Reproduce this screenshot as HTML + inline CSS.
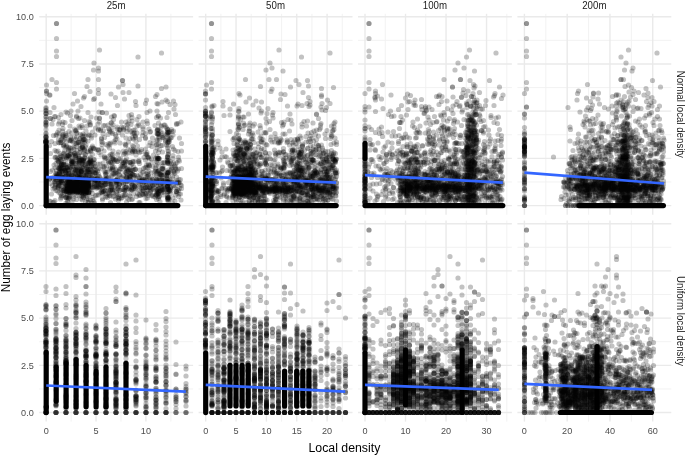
<!DOCTYPE html><html><head><meta charset="utf-8"><style>
html,body{margin:0;padding:0;background:#fff;width:685px;height:455px;overflow:hidden}
svg{display:block;filter:blur(.45px)}text{font-family:"Liberation Sans",sans-serif}
.gM{stroke:#EAEAEA;stroke-width:1.4}.gm{stroke:#F1F1F1;stroke-width:.9}
.p path{fill:none;stroke:#000;stroke-opacity:0.24;stroke-width:10.4;stroke-linecap:round}
.s{fill:#000}
.f{stroke:#3366FF;stroke-width:2.7;fill:none}
.at{fill:#4D4D4D;font-size:38.40px}.st{fill:#1A1A1A;font-size:40.00px}.tt{fill:#000;font-size:49.20px}
</style></head><body>
<svg width="685" height="455" viewBox="0 0 685 455">
<defs>
<clipPath id="c00"><rect x="39.2" y="13.8" width="153.9" height="201.0"/></clipPath>
<clipPath id="c01"><rect x="198.6" y="13.8" width="153.9" height="201.0"/></clipPath>
<clipPath id="c02"><rect x="358.0" y="13.8" width="153.9" height="201.0"/></clipPath>
<clipPath id="c03"><rect x="517.4" y="13.8" width="153.9" height="201.0"/></clipPath>
<clipPath id="c10"><rect x="39.2" y="220.6" width="153.9" height="201.0"/></clipPath>
<clipPath id="c11"><rect x="198.6" y="220.6" width="153.9" height="201.0"/></clipPath>
<clipPath id="c12"><rect x="358.0" y="220.6" width="153.9" height="201.0"/></clipPath>
<clipPath id="c13"><rect x="517.4" y="220.6" width="153.9" height="201.0"/></clipPath>
</defs>
<line class="gm" x1="39.2" x2="193.1" y1="181.99" y2="181.99"/><line class="gm" x1="39.2" x2="193.1" y1="134.78" y2="134.78"/><line class="gm" x1="39.2" x2="193.1" y1="87.57" y2="87.57"/><line class="gm" x1="39.2" x2="193.1" y1="40.36" y2="40.36"/><line class="gm" x1="71.12" x2="71.12" y1="13.8" y2="214.8"/><line class="gm" x1="120.98" x2="120.98" y1="13.8" y2="214.8"/><line class="gm" x1="170.83" x2="170.83" y1="13.8" y2="214.8"/><line class="gM" x1="39.2" x2="193.1" y1="205.60" y2="205.60"/><line class="gM" x1="39.2" x2="193.1" y1="158.39" y2="158.39"/><line class="gM" x1="39.2" x2="193.1" y1="111.17" y2="111.17"/><line class="gM" x1="39.2" x2="193.1" y1="63.96" y2="63.96"/><line class="gM" x1="39.2" x2="193.1" y1="16.75" y2="16.75"/><line class="gM" x1="46.20" x2="46.20" y1="13.8" y2="214.8"/><line class="gM" x1="96.05" x2="96.05" y1="13.8" y2="214.8"/><line class="gM" x1="145.90" x2="145.90" y1="13.8" y2="214.8"/>
<line class="gm" x1="198.6" x2="352.5" y1="181.99" y2="181.99"/><line class="gm" x1="198.6" x2="352.5" y1="134.78" y2="134.78"/><line class="gm" x1="198.6" x2="352.5" y1="87.57" y2="87.57"/><line class="gm" x1="198.6" x2="352.5" y1="40.36" y2="40.36"/><line class="gm" x1="220.88" x2="220.88" y1="13.8" y2="214.8"/><line class="gm" x1="251.22" x2="251.22" y1="13.8" y2="214.8"/><line class="gm" x1="281.57" x2="281.57" y1="13.8" y2="214.8"/><line class="gm" x1="311.93" x2="311.93" y1="13.8" y2="214.8"/><line class="gm" x1="342.27" x2="342.27" y1="13.8" y2="214.8"/><line class="gM" x1="198.6" x2="352.5" y1="205.60" y2="205.60"/><line class="gM" x1="198.6" x2="352.5" y1="158.39" y2="158.39"/><line class="gM" x1="198.6" x2="352.5" y1="111.17" y2="111.17"/><line class="gM" x1="198.6" x2="352.5" y1="63.96" y2="63.96"/><line class="gM" x1="198.6" x2="352.5" y1="16.75" y2="16.75"/><line class="gM" x1="205.70" x2="205.70" y1="13.8" y2="214.8"/><line class="gM" x1="236.05" x2="236.05" y1="13.8" y2="214.8"/><line class="gM" x1="266.40" x2="266.40" y1="13.8" y2="214.8"/><line class="gM" x1="296.75" x2="296.75" y1="13.8" y2="214.8"/><line class="gM" x1="327.10" x2="327.10" y1="13.8" y2="214.8"/>
<line class="gm" x1="358.0" x2="511.9" y1="181.99" y2="181.99"/><line class="gm" x1="358.0" x2="511.9" y1="134.78" y2="134.78"/><line class="gm" x1="358.0" x2="511.9" y1="87.57" y2="87.57"/><line class="gm" x1="358.0" x2="511.9" y1="40.36" y2="40.36"/><line class="gm" x1="385.26" x2="385.26" y1="13.8" y2="214.8"/><line class="gm" x1="425.78" x2="425.78" y1="13.8" y2="214.8"/><line class="gm" x1="466.30" x2="466.30" y1="13.8" y2="214.8"/><line class="gm" x1="506.82" x2="506.82" y1="13.8" y2="214.8"/><line class="gM" x1="358.0" x2="511.9" y1="205.60" y2="205.60"/><line class="gM" x1="358.0" x2="511.9" y1="158.39" y2="158.39"/><line class="gM" x1="358.0" x2="511.9" y1="111.17" y2="111.17"/><line class="gM" x1="358.0" x2="511.9" y1="63.96" y2="63.96"/><line class="gM" x1="358.0" x2="511.9" y1="16.75" y2="16.75"/><line class="gM" x1="365.00" x2="365.00" y1="13.8" y2="214.8"/><line class="gM" x1="405.52" x2="405.52" y1="13.8" y2="214.8"/><line class="gM" x1="446.04" x2="446.04" y1="13.8" y2="214.8"/><line class="gM" x1="486.56" x2="486.56" y1="13.8" y2="214.8"/>
<line class="gm" x1="517.4" x2="671.3" y1="181.99" y2="181.99"/><line class="gm" x1="517.4" x2="671.3" y1="134.78" y2="134.78"/><line class="gm" x1="517.4" x2="671.3" y1="87.57" y2="87.57"/><line class="gm" x1="517.4" x2="671.3" y1="40.36" y2="40.36"/><line class="gm" x1="545.79" x2="545.79" y1="13.8" y2="214.8"/><line class="gm" x1="588.57" x2="588.57" y1="13.8" y2="214.8"/><line class="gm" x1="631.35" x2="631.35" y1="13.8" y2="214.8"/><line class="gM" x1="517.4" x2="671.3" y1="205.60" y2="205.60"/><line class="gM" x1="517.4" x2="671.3" y1="158.39" y2="158.39"/><line class="gM" x1="517.4" x2="671.3" y1="111.17" y2="111.17"/><line class="gM" x1="517.4" x2="671.3" y1="63.96" y2="63.96"/><line class="gM" x1="517.4" x2="671.3" y1="16.75" y2="16.75"/><line class="gM" x1="524.40" x2="524.40" y1="13.8" y2="214.8"/><line class="gM" x1="567.18" x2="567.18" y1="13.8" y2="214.8"/><line class="gM" x1="609.96" x2="609.96" y1="13.8" y2="214.8"/><line class="gM" x1="652.74" x2="652.74" y1="13.8" y2="214.8"/>
<line class="gm" x1="39.2" x2="193.1" y1="388.94" y2="388.94"/><line class="gm" x1="39.2" x2="193.1" y1="341.73" y2="341.73"/><line class="gm" x1="39.2" x2="193.1" y1="294.52" y2="294.52"/><line class="gm" x1="39.2" x2="193.1" y1="247.31" y2="247.31"/><line class="gm" x1="71.12" x2="71.12" y1="220.6" y2="421.6"/><line class="gm" x1="120.98" x2="120.98" y1="220.6" y2="421.6"/><line class="gm" x1="170.83" x2="170.83" y1="220.6" y2="421.6"/><line class="gM" x1="39.2" x2="193.1" y1="412.55" y2="412.55"/><line class="gM" x1="39.2" x2="193.1" y1="365.34" y2="365.34"/><line class="gM" x1="39.2" x2="193.1" y1="318.12" y2="318.12"/><line class="gM" x1="39.2" x2="193.1" y1="270.91" y2="270.91"/><line class="gM" x1="39.2" x2="193.1" y1="223.70" y2="223.70"/><line class="gM" x1="46.20" x2="46.20" y1="220.6" y2="421.6"/><line class="gM" x1="96.05" x2="96.05" y1="220.6" y2="421.6"/><line class="gM" x1="145.90" x2="145.90" y1="220.6" y2="421.6"/>
<line class="gm" x1="198.6" x2="352.5" y1="388.94" y2="388.94"/><line class="gm" x1="198.6" x2="352.5" y1="341.73" y2="341.73"/><line class="gm" x1="198.6" x2="352.5" y1="294.52" y2="294.52"/><line class="gm" x1="198.6" x2="352.5" y1="247.31" y2="247.31"/><line class="gm" x1="220.88" x2="220.88" y1="220.6" y2="421.6"/><line class="gm" x1="251.22" x2="251.22" y1="220.6" y2="421.6"/><line class="gm" x1="281.57" x2="281.57" y1="220.6" y2="421.6"/><line class="gm" x1="311.93" x2="311.93" y1="220.6" y2="421.6"/><line class="gm" x1="342.27" x2="342.27" y1="220.6" y2="421.6"/><line class="gM" x1="198.6" x2="352.5" y1="412.55" y2="412.55"/><line class="gM" x1="198.6" x2="352.5" y1="365.34" y2="365.34"/><line class="gM" x1="198.6" x2="352.5" y1="318.12" y2="318.12"/><line class="gM" x1="198.6" x2="352.5" y1="270.91" y2="270.91"/><line class="gM" x1="198.6" x2="352.5" y1="223.70" y2="223.70"/><line class="gM" x1="205.70" x2="205.70" y1="220.6" y2="421.6"/><line class="gM" x1="236.05" x2="236.05" y1="220.6" y2="421.6"/><line class="gM" x1="266.40" x2="266.40" y1="220.6" y2="421.6"/><line class="gM" x1="296.75" x2="296.75" y1="220.6" y2="421.6"/><line class="gM" x1="327.10" x2="327.10" y1="220.6" y2="421.6"/>
<line class="gm" x1="358.0" x2="511.9" y1="388.94" y2="388.94"/><line class="gm" x1="358.0" x2="511.9" y1="341.73" y2="341.73"/><line class="gm" x1="358.0" x2="511.9" y1="294.52" y2="294.52"/><line class="gm" x1="358.0" x2="511.9" y1="247.31" y2="247.31"/><line class="gm" x1="385.26" x2="385.26" y1="220.6" y2="421.6"/><line class="gm" x1="425.78" x2="425.78" y1="220.6" y2="421.6"/><line class="gm" x1="466.30" x2="466.30" y1="220.6" y2="421.6"/><line class="gm" x1="506.82" x2="506.82" y1="220.6" y2="421.6"/><line class="gM" x1="358.0" x2="511.9" y1="412.55" y2="412.55"/><line class="gM" x1="358.0" x2="511.9" y1="365.34" y2="365.34"/><line class="gM" x1="358.0" x2="511.9" y1="318.12" y2="318.12"/><line class="gM" x1="358.0" x2="511.9" y1="270.91" y2="270.91"/><line class="gM" x1="358.0" x2="511.9" y1="223.70" y2="223.70"/><line class="gM" x1="365.00" x2="365.00" y1="220.6" y2="421.6"/><line class="gM" x1="405.52" x2="405.52" y1="220.6" y2="421.6"/><line class="gM" x1="446.04" x2="446.04" y1="220.6" y2="421.6"/><line class="gM" x1="486.56" x2="486.56" y1="220.6" y2="421.6"/>
<line class="gm" x1="517.4" x2="671.3" y1="388.94" y2="388.94"/><line class="gm" x1="517.4" x2="671.3" y1="341.73" y2="341.73"/><line class="gm" x1="517.4" x2="671.3" y1="294.52" y2="294.52"/><line class="gm" x1="517.4" x2="671.3" y1="247.31" y2="247.31"/><line class="gm" x1="545.79" x2="545.79" y1="220.6" y2="421.6"/><line class="gm" x1="588.57" x2="588.57" y1="220.6" y2="421.6"/><line class="gm" x1="631.35" x2="631.35" y1="220.6" y2="421.6"/><line class="gM" x1="517.4" x2="671.3" y1="412.55" y2="412.55"/><line class="gM" x1="517.4" x2="671.3" y1="365.34" y2="365.34"/><line class="gM" x1="517.4" x2="671.3" y1="318.12" y2="318.12"/><line class="gM" x1="517.4" x2="671.3" y1="270.91" y2="270.91"/><line class="gM" x1="517.4" x2="671.3" y1="223.70" y2="223.70"/><line class="gM" x1="524.40" x2="524.40" y1="220.6" y2="421.6"/><line class="gM" x1="567.18" x2="567.18" y1="220.6" y2="421.6"/><line class="gM" x1="609.96" x2="609.96" y1="220.6" y2="421.6"/><line class="gM" x1="652.74" x2="652.74" y1="220.6" y2="421.6"/>
<g clip-path="url(#c00)">
<rect class="s" x="43.6" y="143.5" width="5.2" height="64.7" rx="2.6"/>
<rect class="s" x="43.6" y="203.0" width="136.8" height="5.2" rx="2.6"/>
<g class="p" transform="scale(.5)">
<path d="M113 47h0M113 77h0M113 102h0M113 113h0M199 100h0M276 114h0M323 106h0M188 126h0M197 136h0M187 140h0M104 159h0M113 165h0M113 178h0M93 170h0M176 159h0M197 159h0M174 173h0M197 179h0M180 183h0M149 187h0M187 199h0M155 202h0M167 196h0M245 161h0M237 174h0M246 185h0M231 195h0M276 172h0M271 203h0M323 177h0M314 189h0M332 200h0M314 207h0M340 209h0M93 182h0M100 190h0M93 202h0M92 275h0M92 239h0M92 215h0M92 252h0M92 226h0M92 287h0M147 381h0M150 364h0M133 374h0M173 368h0M168 381h0M161 370h0M137 362h0M181 319h0M124 356h0M133 284h0M167 351h0M112 347h0M167 322h0M148 298h0M160 278h0M177 339h0M137 311h0M117 324h0M132 328h0M165 336h0M150 339h0M181 359h0M153 319h0M123 343h0M123 278h0M160 297h0M127 307h0M141 346h0M155 351h0M171 294h0M144 327h0M171 281h0M146 284h0M184 295h0M116 335h0M211 381h0M324 291h0M307 360h0M210 362h0M344 335h0M137 298h0M264 378h0M286 381h0M109 365h0M270 339h0M283 299h0M231 345h0M190 373h0M321 382h0M247 369h0M149 258h0M333 351h0M237 393h0M210 317h0M197 360h0M346 311h0M209 333h0M214 344h0M147 398h0M291 308h0M209 275h0M238 318h0M198 224h0M252 244h0M283 353h0M325 338h0M190 347h0M110 315h0M270 323h0M224 255h0M198 305h0M278 365h0M110 287h0M269 351h0M267 293h0M223 234h0M185 387h0M257 284h0M339 279h0M201 261h0M222 351h0M186 332h0M235 357h0M275 387h0M312 331h0M331 362h0M299 331h0M237 374h0M172 262h0M222 325h0M205 285h0M296 376h0M115 382h0M321 370h0M253 354h0M295 396h0M357 314h0M174 393h0M319 347h0M318 317h0M314 261h0M223 366h0M363 337h0M242 332h0M227 386h0M354 366h0M200 386h0M253 404h0M295 247h0M306 393h0M301 263h0M362 400h0M106 239h0M270 260h0M338 378h0M342 365h0M346 396h0M125 249h0M228 334h0M257 340h0M326 326h0M303 318h0M356 303h0M309 343h0M110 301h0M153 234h0M132 224h0M298 342h0M318 393h0M256 298h0M294 353h0M272 310h0M119 371h0M203 370h0M240 286h0M354 386h0M251 321h0M191 256h0M165 400h0M221 286h0M237 304h0M205 397h0M182 234h0M317 246h0M231 269h0M262 249h0M321 236h0M353 354h0M249 380h0M270 271h0M141 231h0M291 267h0M319 359h0M189 406h0M123 392h0M263 367h0M280 405h0M325 304h0M363 287h0M138 263h0M225 310h0M180 245h0M135 402h0M100 357h0M262 330h0M258 390h0M171 309h0M345 293h0M287 337h0M247 255h0M176 404h0M182 272h0M311 302h0M101 343h0M210 251h0M118 268h0M265 398h0M101 403h0M278 251h0M196 328h0M328 250h0M137 385h0M258 231h0M326 271h0M199 237h0M221 405h0M363 377h0M274 239h0M306 286h0M101 307h0M103 388h0M254 263h0M354 325h0M334 235h0M249 306h0M158 252h0M185 309h0M341 323h0M336 402h0M272 283h0M291 320h0M308 375h0M343 259h0M292 366h0M122 229h0M140 252h0M293 200h0M300 222h0M258 185h0M222 188h0M213 226h0M356 247h0M235 211h0M107 271h0M176 225h0M108 215h0M146 208h0M351 229h0M314 222h0M141 274h0M348 218h0M346 270h0M359 276h0M169 241h0M245 270h0M249 198h0M202 208h0M162 213h0M156 222h0M314 279h0M335 313h0M335 391h0M336 301h0M319 411h0M305 411h0M111 411h0M211 411h0M349 411h0M161 411h0M271 411h0"/>
<path d="M113 47h0M197 142h0M197 187h0M245 161h0M332 174h0M311 193h0M93 187h0M92 266h0M92 283h0M92 250h0M92 227h0M148 368h0M156 384h0M136 377h0M177 366h0M165 376h0M177 386h0M160 363h0M145 385h0M136 361h0M134 294h0M181 314h0M158 285h0M120 352h0M131 335h0M168 279h0M183 342h0M159 327h0M123 322h0M176 332h0M137 311h0M182 355h0M141 282h0M165 317h0M169 298h0M159 349h0M150 315h0M117 279h0M118 336h0M142 351h0M147 338h0M170 345h0M181 297h0M159 305h0M148 294h0M114 314h0M291 388h0M207 371h0M130 278h0M287 376h0M303 366h0M218 312h0M212 345h0M267 388h0M279 360h0M186 375h0M251 375h0M276 300h0M228 392h0M288 315h0M313 385h0M99 291h0M269 372h0M274 350h0M202 359h0M202 310h0M214 363h0M336 275h0M126 373h0M197 260h0M264 328h0M254 363h0M137 396h0M252 276h0M171 403h0M206 326h0M324 378h0M347 326h0M316 360h0M241 317h0M218 326h0M267 340h0M321 346h0M234 362h0M207 383h0M227 239h0M111 359h0M309 351h0M250 288h0M353 338h0M301 384h0M278 320h0M237 374h0M203 283h0M153 275h0M195 342h0M338 368h0M293 330h0M243 354h0M174 252h0M245 391h0M229 322h0M249 332h0M318 261h0M104 248h0M357 366h0M142 327h0M253 348h0M224 264h0M265 303h0M330 359h0M314 313h0M341 387h0M164 392h0M363 302h0M230 346h0M118 385h0M355 379h0M234 278h0M224 379h0M347 298h0M285 344h0M130 245h0M256 248h0M204 225h0M291 358h0M197 390h0M278 391h0M265 291h0M291 298h0M265 276h0M153 232h0M359 322h0M341 342h0M345 406h0M108 330h0M215 395h0M345 357h0M121 398h0M99 357h0M197 300h0M316 232h0M274 266h0M152 262h0M225 334h0M166 268h0M291 275h0M239 340h0M110 374h0M101 237h0M126 257h0M319 299h0M212 289h0M161 338h0M106 405h0M238 259h0M187 403h0M190 362h0M324 325h0M116 302h0M327 390h0M253 317h0M357 393h0M300 285h0M193 236h0M132 406h0M129 385h0M186 326h0M326 336h0M190 270h0M153 399h0M177 270h0M226 302h0M298 258h0M317 397h0M132 267h0M207 251h0M205 400h0M311 336h0M119 244h0M237 401h0M278 405h0M258 399h0M304 324h0M243 244h0M247 302h0M277 248h0M142 222h0M286 258h0M263 229h0M258 259h0M169 193h0M347 202h0M330 250h0M111 233h0M113 269h0M316 208h0M325 275h0M278 233h0M144 241h0M272 211h0M335 203h0M347 262h0M206 267h0M189 197h0M160 255h0M294 225h0M362 244h0M196 248h0M294 242h0M291 207h0M310 251h0M337 225h0M279 279h0M314 289h0M316 371h0M336 259h0M336 398h0M337 303h0M336 326h0M335 314h0M333 290h0M213 411h0M255 411h0M224 411h0M299 411h0M312 411h0M155 411h0M178 411h0M333 411h0"/>
<path d="M246 169h0M93 182h0M92 280h0M92 234h0M92 246h0M92 259h0M92 217h0M152 384h0M154 367h0M145 376h0M168 369h0M163 380h0M134 378h0M178 379h0M140 364h0M131 353h0M158 355h0M116 317h0M159 325h0M173 335h0M137 301h0M122 362h0M132 341h0M172 358h0M128 290h0M169 279h0M127 329h0M151 347h0M182 327h0M168 299h0M139 333h0M126 313h0M116 349h0M154 335h0M163 343h0M141 280h0M151 312h0M167 318h0M121 338h0M144 323h0M121 281h0M154 301h0M182 347h0M296 381h0M306 370h0M284 374h0M171 387h0M304 358h0M150 287h0M293 308h0M236 389h0M191 360h0M275 292h0M219 338h0M331 284h0M223 361h0M260 325h0M251 367h0M137 397h0M126 269h0M268 355h0M327 372h0M181 400h0M288 363h0M211 369h0M211 349h0M313 390h0M123 378h0M220 392h0M273 393h0M204 379h0M225 318h0M322 350h0M267 333h0M187 296h0M343 338h0M296 335h0M209 313h0M236 378h0M258 339h0M217 257h0M270 374h0M189 374h0M270 302h0M358 359h0M343 364h0M228 347h0M351 328h0M191 333h0M339 380h0M302 346h0M247 325h0M341 276h0M277 323h0M327 339h0M247 379h0M357 338h0M162 398h0M357 381h0M281 349h0M242 337h0M259 378h0M248 390h0M351 390h0M350 346h0M240 364h0M253 355h0M110 368h0M206 333h0M314 379h0M350 402h0M126 244h0M235 323h0M317 362h0M221 379h0M191 391h0M110 336h0M334 351h0M154 266h0M337 395h0M139 313h0M228 231h0M223 245h0M312 342h0M346 317h0M267 278h0M218 287h0M160 236h0M204 289h0M311 317h0M285 271h0M292 397h0M267 260h0M294 353h0M118 260h0M256 306h0M104 355h0M258 241h0M322 291h0M304 293h0M112 271h0M208 302h0M203 278h0M228 283h0M363 371h0M351 372h0M112 381h0M254 256h0M329 325h0M283 303h0M205 225h0M180 249h0M108 404h0M225 267h0M252 289h0M183 276h0M201 356h0M234 258h0M122 395h0M320 403h0M260 392h0M285 388h0M323 253h0M235 309h0M324 267h0M239 350h0M103 283h0M350 301h0M305 276h0M327 384h0M197 300h0M113 303h0M317 232h0M143 266h0M286 254h0M300 264h0M100 225h0M201 258h0M165 255h0M350 209h0M117 235h0M185 264h0M135 226h0M344 263h0M353 247h0M199 244h0M324 204h0M274 252h0M318 276h0M315 260h0M317 305h0M317 332h0M336 309h0M335 295h0M334 257h0M339 411h0M281 411h0M130 411h0M252 411h0M220 411h0M298 411h0M153 411h0M327 411h0M179 411h0"/>
<path d="M92 283h0M92 233h0M92 244h0M92 221h0M92 268h0M154 364h0M163 370h0M172 383h0M146 384h0M135 377h0M154 377h0M178 372h0M140 366h0M174 362h0M114 320h0M138 352h0M162 353h0M132 343h0M152 327h0M166 283h0M166 329h0M133 292h0M144 296h0M173 343h0M134 319h0M156 337h0M181 325h0M164 296h0M151 306h0M129 306h0M126 352h0M113 354h0M119 330h0M143 281h0M122 285h0M141 335h0M158 316h0M125 274h0M129 366h0M140 309h0M188 334h0M278 372h0M313 361h0M188 367h0M290 376h0M247 368h0M192 357h0M239 381h0M327 379h0M167 395h0M221 364h0M201 369h0M266 349h0M138 393h0M192 345h0M297 315h0M281 391h0M216 388h0M234 323h0M170 316h0M283 362h0M217 323h0M270 303h0M233 361h0M118 366h0M302 371h0M276 353h0M122 380h0M154 391h0M361 369h0M299 360h0M343 327h0M230 349h0M252 337h0M293 387h0M204 385h0M235 395h0M151 352h0M181 350h0M264 375h0M330 349h0M340 359h0M335 372h0M226 316h0M245 328h0M319 349h0M316 382h0M324 366h0M144 403h0M287 344h0M347 342h0M303 391h0M190 298h0M214 356h0M255 324h0M350 364h0M353 383h0M119 341h0M254 358h0M266 323h0M338 383h0M338 283h0M100 367h0M154 285h0M172 272h0M311 341h0M225 380h0M219 296h0M339 398h0M249 392h0M297 330h0M325 337h0M307 310h0M278 323h0M271 275h0M208 335h0M240 338h0M175 303h0M357 320h0M271 339h0M226 339h0M252 307h0M298 291h0M214 375h0M186 399h0M177 405h0M125 262h0M200 328h0M99 402h0M226 249h0M319 393h0M230 286h0M106 378h0M110 401h0M318 317h0M203 297h0M251 291h0M105 340h0M127 390h0M152 260h0M252 380h0M194 390h0M327 276h0M263 399h0M209 315h0M221 264h0M229 232h0M243 254h0M291 277h0M313 235h0M117 248h0M254 250h0M178 243h0M207 261h0M316 269h0M164 251h0M332 254h0M109 233h0M262 263h0M286 265h0M260 277h0M161 269h0M203 276h0M264 235h0M286 244h0M157 237h0M99 190h0M232 273h0M339 263h0M353 249h0M199 236h0M317 288h0M337 308h0M335 320h0M336 340h0M341 411h0M352 411h0M211 411h0M260 411h0M130 411h0M224 411h0M315 411h0"/>
<path d="M92 279h0M92 227h0M92 244h0M148 362h0M172 384h0M148 382h0M167 362h0M132 373h0M157 368h0M161 378h0M173 373h0M133 384h0M144 372h0M136 361h0M130 337h0M181 359h0M160 277h0M116 322h0M158 352h0M171 339h0M165 322h0M149 306h0M159 335h0M128 317h0M154 323h0M180 323h0M151 342h0M140 296h0M125 352h0M114 351h0M127 292h0M137 348h0M139 281h0M143 318h0M166 296h0M117 285h0M185 374h0M309 369h0M295 374h0M195 365h0M261 352h0M218 362h0M167 394h0M204 371h0M146 393h0M227 319h0M212 316h0M288 361h0M254 362h0M265 302h0M192 347h0M238 370h0M325 381h0M294 309h0M210 382h0M249 381h0M213 332h0M232 360h0M270 379h0M118 337h0M233 342h0M333 373h0M305 359h0M250 330h0M272 356h0M252 345h0M354 364h0M316 343h0M176 282h0M153 293h0M280 374h0M121 388h0M158 313h0M324 356h0M117 371h0M264 370h0M296 349h0M226 393h0M124 271h0M345 352h0M132 395h0M262 341h0M339 364h0M311 390h0M334 344h0M211 394h0M181 301h0M170 309h0M266 323h0M179 347h0M244 356h0M220 289h0M221 309h0M338 284h0M229 380h0M280 340h0M341 382h0M244 395h0M145 330h0M352 383h0M287 390h0M298 387h0M351 334h0M149 274h0M268 265h0M210 344h0M110 363h0M247 309h0M186 395h0M320 369h0M292 335h0M276 303h0M326 332h0M242 322h0M99 359h0M120 307h0M314 379h0M197 337h0M224 353h0M184 406h0M306 333h0M194 299h0M279 327h0M231 279h0M216 269h0M101 237h0M151 261h0M169 271h0M240 261h0M322 251h0M197 258h0M115 265h0M316 267h0M222 246h0M264 242h0M181 250h0M327 274h0M315 316h0M313 290h0M335 399h0M335 325h0M336 264h0M335 314h0M104 411h0M253 411h0M218 411h0M316 411h0"/>
<path d="M92 282h0M92 221h0M92 249h0M137 369h0M168 369h0M172 382h0M152 374h0M138 382h0M157 363h0M160 383h0M125 343h0M176 360h0M140 337h0M162 350h0M146 352h0M117 322h0M153 333h0M181 339h0M144 323h0M115 354h0M179 324h0M147 310h0M138 302h0M174 349h0M164 280h0M160 321h0M127 290h0M128 329h0M151 279h0M130 355h0M130 310h0M165 295h0M127 381h0M193 368h0M221 368h0M226 318h0M168 334h0M212 359h0M261 358h0M262 347h0M283 363h0M140 393h0M192 339h0M324 380h0M189 357h0M300 375h0M161 305h0M232 363h0M205 376h0M308 363h0M328 369h0M255 338h0M268 300h0M279 381h0M256 377h0M244 365h0M226 348h0M270 368h0M218 388h0M120 366h0M313 351h0M295 314h0M249 326h0M341 375h0M361 359h0M234 388h0M305 390h0M261 324h0M322 360h0M251 389h0M324 337h0M297 351h0M238 349h0M131 270h0M359 377h0M136 403h0M290 387h0M328 350h0M331 281h0M185 292h0M116 376h0M225 336h0M348 347h0M358 388h0M216 292h0M212 348h0M349 332h0M105 371h0M271 338h0M242 397h0M290 335h0M169 315h0M245 379h0M279 305h0M184 380h0M199 353h0M216 322h0M177 304h0M205 387h0M343 275h0M174 397h0M153 266h0M268 267h0M252 303h0M113 341h0M219 262h0M179 270h0M240 259h0M216 250h0M322 263h0M315 326h0M318 273h0M313 399h0M317 388h0M314 296h0M335 268h0M335 384h0M335 358h0M335 396h0M337 344h0M335 323h0M336 291h0M103 411h0M219 411h0"/>
<path d="M92 281h0M140 374h0M176 375h0M165 372h0M156 382h0M175 363h0M167 384h0M146 365h0M157 365h0M134 384h0M136 359h0M130 340h0M119 320h0M155 340h0M116 355h0M150 355h0M170 329h0M138 347h0M129 302h0M142 278h0M146 333h0M181 340h0M186 323h0M166 273h0M162 320h0M143 322h0M119 286h0M188 360h0M144 309h0M157 310h0M137 294h0M175 318h0M222 316h0M124 373h0M261 358h0M262 347h0M195 376h0M217 355h0M122 331h0M170 349h0M160 289h0M304 366h0M314 359h0M224 328h0M290 362h0M291 375h0M264 306h0M282 382h0M216 367h0M169 301h0M207 383h0M254 335h0M223 342h0M306 379h0M234 358h0M320 381h0M213 392h0M326 363h0M234 347h0M204 364h0M323 350h0M272 370h0M359 365h0M339 381h0M133 316h0M279 362h0M252 374h0M235 378h0M220 381h0M246 325h0M298 317h0M231 398h0M187 297h0M247 351h0M131 395h0M295 345h0M264 380h0M337 365h0M172 290h0M232 320h0M353 383h0M347 371h0M294 305h0M178 389h0M299 355h0M351 338h0M196 352h0M210 342h0M260 325h0M109 376h0M127 272h0M299 332h0M310 394h0M296 391h0M254 396h0M265 267h0M219 259h0M234 254h0M247 258h0M237 265h0M313 323h0M315 343h0M318 269h0M314 281h0M335 346h0M334 268h0M336 395h0M336 285h0M337 322h0M112 411h0M101 411h0"/>
<path d="M92 285h0M92 274h0M140 368h0M165 374h0M173 382h0M173 366h0M155 370h0M135 383h0M157 381h0M162 361h0M146 379h0M178 355h0M163 344h0M124 336h0M117 352h0M152 338h0M121 319h0M176 327h0M175 338h0M147 351h0M131 345h0M180 317h0M137 356h0M137 316h0M165 322h0M122 285h0M147 323h0M130 294h0M196 366h0M137 332h0M142 301h0M259 355h0M225 325h0M212 364h0M252 345h0M166 280h0M123 361h0M313 359h0M185 343h0M266 298h0M265 340h0M293 369h0M280 362h0M231 361h0M324 376h0M301 360h0M167 306h0M305 377h0M159 392h0M153 288h0M132 394h0M151 311h0M266 370h0M163 333h0M165 292h0M204 382h0M341 378h0M224 308h0M233 384h0M221 381h0M354 361h0M286 380h0M107 358h0M253 374h0M190 356h0M251 324h0M245 333h0M324 360h0M239 369h0M181 300h0M112 327h0M130 372h0M238 396h0M223 370h0M111 314h0M348 343h0M261 381h0M232 339h0M361 388h0M321 349h0M342 333h0M116 372h0M186 371h0M297 314h0M317 387h0M297 328h0M189 326h0M292 348h0M313 370h0M197 348h0M177 399h0M278 389h0M201 338h0M221 336h0M131 275h0M271 273h0M247 260h0M316 316h0M315 259h0M319 280h0M335 364h0M337 345h0M337 400h0M336 265h0M335 285h0M335 324h0M113 411h0"/>
<path d="M92 284h0M92 272h0M144 376h0M166 371h0M177 375h0M133 379h0M155 380h0M154 363h0M142 364h0M174 363h0M170 384h0M122 327h0M155 342h0M122 357h0M178 324h0M124 342h0M121 311h0M145 346h0M131 368h0M188 319h0M126 281h0M158 319h0M133 335h0M112 347h0M143 328h0M199 376h0M175 341h0M191 360h0M149 307h0M260 353h0M136 353h0M137 311h0M214 357h0M261 342h0M212 369h0M293 375h0M167 279h0M188 346h0M323 374h0M202 364h0M232 364h0M161 298h0M312 365h0M211 387h0M303 380h0M149 389h0M289 359h0M342 374h0M225 384h0M163 335h0M267 377h0M249 376h0M249 342h0M164 356h0M139 395h0M157 284h0M314 382h0M327 360h0M250 322h0M117 368h0M298 365h0M221 324h0M286 389h0M231 319h0M261 300h0M238 343h0M224 339h0M355 342h0M260 364h0M223 373h0M324 345h0M357 365h0M124 391h0M182 303h0M238 397h0M279 363h0M133 271h0M313 346h0M316 394h0M315 320h0M314 267h0M337 350h0M335 394h0M335 259h0M336 383h0M336 270h0M335 327h0M336 281h0M337 316h0"/>
<path d="M92 282h0M140 368h0M165 372h0M139 380h0M178 371h0M173 382h0M152 372h0M153 385h0M162 359h0M161 342h0M114 359h0M124 348h0M177 358h0M132 330h0M142 356h0M149 344h0M120 315h0M164 327h0M138 339h0M174 345h0M145 320h0M197 373h0M195 357h0M126 381h0M183 323h0M159 316h0M265 349h0M169 285h0M209 370h0M211 359h0M325 367h0M286 371h0M127 362h0M256 343h0M133 314h0M220 369h0M164 392h0M318 383h0M190 345h0M253 355h0M279 356h0M238 367h0M301 381h0M218 385h0M335 372h0M250 383h0M121 334h0M134 393h0M293 360h0M334 357h0M286 382h0M247 333h0M156 285h0M141 307h0M258 374h0M305 371h0M115 374h0M271 377h0M349 375h0M164 271h0M323 350h0M203 384h0M188 365h0M314 317h0M316 259h0M317 341h0M314 361h0M337 344h0M337 394h0M334 264h0M338 327h0M336 278h0"/>
<path d="M92 283h0M147 369h0M140 384h0M172 376h0M164 365h0M151 382h0M134 371h0M161 378h0M155 359h0M140 361h0M152 342h0M160 349h0M124 354h0M182 357h0M122 343h0M123 329h0M178 385h0M129 382h0M135 335h0M111 355h0M177 339h0M168 322h0M135 350h0M167 388h0M156 327h0M200 374h0M123 312h0M265 348h0M212 354h0M164 288h0M209 380h0M143 324h0M119 365h0M195 362h0M135 311h0M254 341h0M287 365h0M236 362h0M259 357h0M329 376h0M224 378h0M181 321h0M152 310h0M172 351h0M299 374h0M318 377h0M211 367h0M134 395h0M263 379h0M326 364h0M183 369h0M240 380h0M219 391h0M191 341h0M314 390h0M315 364h0M318 317h0M315 268h0M318 341h0M319 353h0M334 352h0M337 367h0M335 385h0M338 265h0M334 320h0M336 396h0"/>
<path d="M92 283h0M148 368h0M138 379h0M167 365h0M167 376h0M149 382h0M177 385h0M136 368h0M160 385h0M177 370h0M156 361h0M158 341h0M132 345h0M140 357h0M143 339h0M172 354h0M122 352h0M164 326h0M124 338h0M184 356h0M110 351h0M180 333h0M128 328h0M148 327h0M192 373h0M178 344h0M118 364h0M205 365h0M164 294h0M260 352h0M294 367h0M284 359h0M126 381h0M232 371h0M135 312h0M284 371h0M318 384h0M188 319h0M251 358h0M294 379h0M261 339h0M235 359h0M264 369h0M336 370h0M218 379h0M152 315h0M324 360h0M316 317h0M317 267h0M335 346h0M336 265h0M336 396h0"/>
<path d="M92 274h0M92 287h0M149 378h0M139 374h0M177 374h0M162 375h0M152 367h0M168 362h0M177 385h0M139 385h0M132 362h0M157 351h0M132 340h0M143 355h0M164 386h0M172 344h0M119 358h0M124 329h0M158 321h0M152 341h0M183 333h0M194 371h0M119 347h0M146 324h0M190 360h0M205 373h0M285 358h0M268 350h0M228 375h0M300 375h0M125 318h0M168 325h0M211 359h0M315 379h0M326 379h0M117 374h0M254 363h0M233 365h0M255 350h0M269 373h0M185 349h0M317 366h0M317 317h0M336 367h0M335 346h0M337 379h0"/>
<path d="M92 274h0M92 287h0M152 376h0M134 377h0M142 368h0M162 368h0M151 362h0M169 378h0M172 364h0M154 351h0M132 359h0M162 343h0M142 384h0M131 344h0M143 349h0M122 338h0M167 390h0M118 356h0M149 334h0M178 351h0M183 332h0M179 383h0M197 370h0M194 357h0M163 319h0M127 326h0M223 375h0M284 361h0M259 350h0M208 364h0M110 363h0M233 369h0M181 370h0M171 331h0M324 385h0M317 377h0M313 389h0M334 379h0M336 363h0"/>
<path d="M92 284h0M142 383h0M134 370h0M148 368h0M171 371h0M155 379h0M166 382h0M177 384h0M165 359h0M154 357h0M178 362h0M139 356h0M127 337h0M137 341h0M123 360h0M114 349h0M165 341h0M150 347h0M176 327h0M187 338h0M145 325h0M176 343h0M196 362h0M130 382h0M164 320h0M193 376h0M223 369h0M210 357h0M111 370h0M316 385h0M334 375h0M335 363h0"/>
<path d="M92 284h0M134 376h0M152 375h0M142 366h0M164 377h0M154 363h0M177 374h0M167 365h0M177 361h0M148 354h0M172 384h0M129 354h0M157 347h0M119 346h0M129 341h0M123 329h0M125 365h0M113 360h0M171 352h0M182 323h0M140 386h0M159 323h0M198 367h0M173 335h0M188 358h0M138 347h0M232 366h0M180 344h0M315 387h0M335 373h0M336 360h0"/>
<path d="M140 377h0M155 374h0M172 374h0M142 365h0M163 367h0M164 385h0M149 383h0M169 358h0M153 358h0M125 355h0M133 348h0M162 344h0M124 328h0M112 353h0M180 358h0M179 326h0M120 343h0M167 320h0M157 325h0M195 374h0M135 335h0M316 387h0M335 365h0M336 376h0"/>
<path d="M149 372h0M170 380h0M139 367h0M160 374h0M141 381h0M167 364h0M176 371h0M155 384h0M153 361h0M170 391h0M121 356h0M176 358h0M132 352h0M128 336h0M162 343h0M162 354h0M177 326h0M119 345h0M189 363h0M130 378h0M336 364h0M336 379h0"/>
<path d="M154 373h0M171 376h0M142 374h0M148 363h0M173 365h0M163 361h0M162 384h0M138 385h0M123 364h0M134 364h0M163 340h0M120 334h0M168 351h0M116 350h0M197 364h0M136 340h0M335 372h0"/>
<path d="M162 379h0M176 372h0M152 369h0M148 379h0M137 382h0M138 371h0M166 367h0M146 360h0M174 384h0M158 357h0M172 355h0M123 364h0M134 357h0M119 337h0M163 342h0M334 363h0M336 378h0"/>
<path d="M172 370h0M164 377h0M147 371h0M139 381h0M138 364h0M166 361h0M174 384h0M155 383h0M148 359h0M121 364h0M158 346h0M124 336h0"/>
<path d="M170 375h0M156 369h0M157 383h0M145 375h0M137 368h0M148 362h0M166 364h0M134 382h0M174 385h0M177 365h0M159 355h0M126 355h0"/>
<path d="M168 379h0M154 368h0M149 379h0M175 370h0M135 376h0M140 364h0M163 361h0M159 385h0M181 379h0"/>
<path d="M153 372h0M169 376h0M176 368h0M142 378h0M134 371h0M163 367h0M140 362h0M160 383h0M159 357h0M132 382h0M170 359h0M170 387h0"/>
<path d="M153 372h0M140 380h0M164 379h0M176 370h0M143 367h0M165 368h0M158 359h0"/>
<path d="M152 375h0M141 375h0M176 367h0M169 378h0M152 363h0M162 358h0M138 363h0M133 382h0"/>
<path d="M155 374h0M144 371h0M172 374h0M142 382h0M167 384h0M171 362h0M139 361h0M157 363h0"/>
<path d="M152 372h0M142 377h0M177 370h0M165 375h0M139 366h0M166 358h0M155 384h0M150 360h0M169 385h0"/>
<path d="M158 376h0M147 376h0M135 376h0M173 378h0M174 366h0M154 364h0M142 361h0M163 386h0M165 358h0"/>
<path d="M150 377h0M162 379h0M156 368h0M177 372h0M138 372h0M170 364h0M145 359h0M159 355h0M135 383h0"/>
<path d="M151 367h0M147 380h0M169 379h0M138 368h0M134 378h0M177 368h0M165 368h0"/>
<path d="M150 370h0M164 371h0M170 384h0M155 382h0M135 372h0M178 377h0M176 362h0M141 382h0M140 362h0"/>
<path d="M152 369h0M145 377h0M174 379h0M163 380h0M173 368h0M139 363h0M167 358h0"/>
<path d="M149 372h0M135 378h0M168 380h0M157 364h0M175 367h0M146 383h0M133 366h0"/>
<path d="M155 378h0M150 368h0M140 380h0M169 374h0M164 364h0M134 369h0M178 364h0"/>
<path d="M153 376h0M146 368h0M140 380h0M175 376h0M164 376h0"/>
<path d="M147 375h0M138 381h0M169 381h0M154 365h0M175 370h0M136 365h0"/>
<path d="M151 378h0M139 374h0M147 366h0M170 372h0M164 381h0"/>
<path d="M157 375h0M145 375h0M176 376h0M167 384h0M167 367h0M149 365h0"/>
<path d="M155 375h0M143 376h0M167 372h0M147 366h0"/>
<path d="M149 372h0M138 377h0M175 376h0M165 380h0M161 368h0"/>
<path d="M152 368h0M147 381h0M140 368h0M162 382h0M172 374h0"/>
<path d="M151 375h0M138 376h0M166 381h0M167 370h0"/>
<path d="M148 379h0M155 370h0M137 377h0M166 381h0"/>
<path d="M157 377h0M141 377h0M173 378h0"/>
<path d="M149 376h0M138 378h0M156 367h0M163 376h0"/>
<path d="M143 375h0M154 381h0M160 372h0"/>
<path d="M146 371h0M152 380h0M165 371h0"/>
<path d="M146 382h0M145 370h0M157 374h0"/>
<path d="M146 374h0M157 368h0"/>
<path d="M151 374h0M140 370h0"/>
<path d="M151 376h0"/>
<path d="M148 377h0"/>
<path d="M148 376h0"/>
<path d="M149 382h0M141 374h0"/>
</g></g>
<line class="f" x1="46.2" y1="177.1" x2="177.8" y2="183.1"/>
<g clip-path="url(#c01)">
<rect class="s" x="203.1" y="143.5" width="5.2" height="64.7" rx="2.6"/>
<rect class="s" x="203.1" y="203.0" width="135.7" height="5.2" rx="2.6"/>
<g class="p" transform="scale(.5)">
<path d="M423 47h0M423 77h0M423 102h0M423 113h0M558 100h0M603 114h0M660 106h0M540 126h0M532 140h0M544 136h0M566 142h0M491 159h0M538 159h0M553 159h0M521 173h0M581 174h0M592 161h0M615 161h0M617 172h0M606 185h0M643 177h0M667 175h0M643 193h0M655 200h0M644 207h0M423 165h0M423 178h0M413 170h0M411 182h0M411 200h0M478 187h0M499 196h0M512 202h0M446 203h0M544 178h0M562 188h0M561 199h0M575 212h0M594 212h0M617 195h0M620 210h0M428 211h0M411 226h0M411 275h0M411 263h0M411 244h0M411 294h0M411 215h0M425 343h0M425 403h0M427 307h0M425 330h0M421 360h0M424 381h0M424 289h0M425 234h0M425 263h0M423 276h0M470 379h0M492 355h0M471 362h0M495 377h0M508 381h0M494 344h0M503 370h0M502 334h0M484 370h0M483 385h0M471 340h0M499 320h0M478 353h0M494 298h0M503 308h0M503 353h0M475 305h0M471 392h0M481 333h0M503 278h0M479 315h0M501 289h0M485 292h0M510 341h0M467 352h0M488 322h0M511 361h0M468 276h0M488 307h0M479 279h0M477 247h0M477 259h0M478 217h0M477 232h0M490 281h0M488 251h0M553 375h0M527 379h0M579 381h0M540 378h0M567 379h0M517 374h0M647 305h0M616 391h0M638 364h0M595 372h0M656 376h0M637 330h0M615 360h0M623 372h0M598 310h0M665 313h0M600 334h0M616 310h0M601 359h0M582 321h0M625 320h0M628 356h0M645 318h0M585 344h0M667 330h0M633 299h0M662 354h0M589 392h0M608 376h0M590 355h0M607 319h0M641 380h0M626 384h0M633 346h0M663 366h0M651 363h0M657 337h0M585 301h0M618 337h0M663 301h0M644 220h0M661 394h0M439 346h0M442 393h0M499 257h0M611 406h0M452 405h0M577 359h0M549 300h0M533 359h0M563 351h0M549 284h0M539 307h0M570 309h0M537 339h0M599 348h0M603 386h0M637 272h0M549 340h0M673 289h0M434 386h0M650 349h0M604 248h0M564 336h0M510 403h0M440 320h0M560 285h0M673 384h0M643 290h0M615 297h0M460 263h0M663 252h0M641 393h0M575 402h0M544 360h0M519 389h0M532 318h0M440 296h0M560 305h0M521 256h0M567 249h0M626 405h0M542 274h0M633 229h0M511 316h0M532 265h0M673 402h0M518 330h0M497 388h0M518 216h0M522 272h0M673 372h0M460 341h0M616 266h0M600 397h0M546 225h0M457 326h0M532 237h0M525 310h0M547 401h0M533 329h0M568 365h0M567 321h0M459 376h0M460 230h0M628 262h0M549 389h0M527 402h0M575 283h0M528 298h0M650 268h0M458 396h0M632 310h0M627 282h0M436 282h0M570 390h0M600 299h0M510 298h0M493 405h0M602 276h0M523 204h0M524 352h0M615 242h0M433 363h0M605 288h0M517 287h0M674 345h0M642 247h0M508 392h0M621 348h0M444 378h0M457 365h0M550 319h0M437 405h0M450 313h0M584 248h0M664 271h0M651 399h0M423 249h0M580 228h0M468 287h0M587 290h0M644 339h0M445 334h0M555 364h0M639 259h0M590 279h0M662 289h0M594 406h0M587 333h0M468 329h0M670 244h0M576 239h0M497 268h0M570 268h0M575 348h0M488 234h0M608 341h0M522 226h0M556 328h0M536 217h0M561 396h0M492 204h0M482 401h0M626 246h0M497 228h0M546 236h0M579 262h0M460 218h0M550 267h0M567 297h0M509 248h0M452 298h0M656 324h0M467 208h0M419 316h0M448 231h0M421 393h0M466 411h0M641 411h0M662 411h0M552 411h0M520 411h0M414 411h0M477 411h0"/>
<path d="M423 47h0M598 169h0M643 190h0M411 187h0M480 190h0M506 210h0M446 212h0M542 183h0M570 189h0M604 211h0M620 203h0M424 214h0M411 227h0M411 265h0M411 282h0M411 249h0M421 335h0M424 307h0M421 368h0M422 323h0M425 379h0M422 393h0M424 284h0M424 357h0M425 257h0M423 226h0M425 270h0M427 296h0M424 244h0M488 351h0M488 383h0M472 371h0M494 367h0M465 332h0M508 326h0M502 383h0M477 358h0M500 350h0M473 384h0M484 372h0M479 299h0M512 312h0M488 338h0M512 371h0M473 311h0M475 342h0M503 338h0M496 292h0M497 315h0M486 324h0M464 356h0M511 347h0M479 395h0M482 285h0M512 360h0M496 329h0M479 254h0M473 267h0M477 222h0M481 239h0M490 250h0M488 308h0M545 374h0M524 379h0M535 378h0M571 380h0M560 376h0M514 383h0M665 377h0M588 382h0M656 303h0M598 305h0M631 372h0M622 302h0M671 319h0M655 381h0M615 388h0M593 359h0M601 334h0M611 356h0M622 313h0M655 366h0M598 372h0M645 316h0M668 305h0M621 325h0M670 359h0M646 374h0M608 314h0M623 353h0M639 361h0M612 374h0M590 348h0M635 325h0M604 385h0M669 336h0M630 391h0M661 329h0M641 306h0M628 334h0M657 339h0M522 367h0M585 317h0M564 388h0M660 350h0M564 306h0M466 300h0M536 357h0M462 378h0M623 380h0M648 396h0M658 314h0M560 282h0M558 351h0M541 318h0M636 400h0M556 366h0M442 356h0M568 338h0M613 343h0M632 344h0M666 261h0M582 404h0M588 395h0M518 393h0M645 296h0M668 286h0M540 259h0M615 402h0M444 314h0M416 237h0M599 321h0M567 403h0M448 390h0M571 358h0M443 343h0M503 406h0M516 333h0M517 404h0M506 252h0M542 337h0M455 324h0M416 347h0M600 402h0M531 340h0M435 403h0M637 237h0M530 403h0M534 227h0M672 386h0M613 252h0M506 270h0M581 354h0M568 327h0M545 230h0M556 332h0M565 252h0M498 393h0M621 291h0M529 320h0M584 304h0M648 353h0M553 384h0M581 373h0M415 385h0M666 399h0M612 273h0M483 406h0M645 332h0M552 308h0M433 367h0M605 292h0M623 265h0M660 207h0M641 384h0M651 221h0M612 284h0M580 331h0M516 264h0M575 390h0M601 351h0M600 272h0M539 243h0M584 286h0M462 343h0M633 260h0M466 279h0M444 376h0M551 398h0M552 275h0M574 280h0M520 251h0M641 250h0M526 353h0M544 284h0M523 222h0M527 286h0M663 273h0M467 394h0M633 279h0M566 268h0M517 294h0M642 214h0M529 392h0M528 265h0M668 247h0M531 306h0M498 262h0M673 348h0M436 289h0M582 240h0M520 276h0M651 277h0M654 261h0M432 346h0M508 285h0M572 316h0M436 383h0M597 283h0M423 405h0M593 411h0M445 411h0M646 411h0M556 411h0M635 411h0M659 411h0M457 411h0M414 411h0"/>
<path d="M411 232h0M411 188h0M411 283h0M411 260h0M425 312h0M423 333h0M425 297h0M425 372h0M420 385h0M424 357h0M423 285h0M423 344h0M425 401h0M424 234h0M425 271h0M422 257h0M470 371h0M496 376h0M490 366h0M504 366h0M504 317h0M476 355h0M475 381h0M498 349h0M512 386h0M473 338h0M485 377h0M497 338h0M487 391h0M484 348h0M474 321h0M480 300h0M500 298h0M487 288h0M511 339h0M484 334h0M490 325h0M508 355h0M511 375h0M469 311h0M477 250h0M477 280h0M478 223h0M477 234h0M487 246h0M490 314h0M554 375h0M528 383h0M540 384h0M569 381h0M579 374h0M600 340h0M594 353h0M597 304h0M654 373h0M612 382h0M663 383h0M587 366h0M612 366h0M636 381h0M607 311h0M672 318h0M630 346h0M623 354h0M615 319h0M638 355h0M587 392h0M652 317h0M626 304h0M671 307h0M671 357h0M594 381h0M660 324h0M646 300h0M630 335h0M663 338h0M624 378h0M626 320h0M637 368h0M642 313h0M531 371h0M585 347h0M584 319h0M541 363h0M602 373h0M650 384h0M595 328h0M571 395h0M424 212h0M602 393h0M668 259h0M465 358h0M646 398h0M623 395h0M519 366h0M649 360h0M571 331h0M563 280h0M651 348h0M526 358h0M552 278h0M449 387h0M511 401h0M460 332h0M548 339h0M643 328h0M520 308h0M436 395h0M568 358h0M625 367h0M473 402h0M671 391h0M462 319h0M566 316h0M460 377h0M550 357h0M673 375h0M572 348h0M532 322h0M618 213h0M608 348h0M536 349h0M618 405h0M522 327h0M445 341h0M616 296h0M659 355h0M506 278h0M561 339h0M558 304h0M606 404h0M635 398h0M618 335h0M499 403h0M568 370h0M528 403h0M641 344h0M605 291h0M523 342h0M633 228h0M670 346h0M585 300h0M627 293h0M499 391h0M550 394h0M662 269h0M596 208h0M670 276h0M499 250h0M568 244h0M548 322h0M587 284h0M436 381h0M434 345h0M509 328h0M595 317h0M486 259h0M653 215h0M586 403h0M650 337h0M574 285h0M621 283h0M533 246h0M556 406h0M621 272h0M466 390h0M523 297h0M486 403h0M526 279h0M534 290h0M505 266h0M444 304h0M531 266h0M427 323h0M447 370h0M608 243h0M541 280h0M604 254h0M641 256h0M531 305h0M435 411h0M652 411h0M628 411h0M593 411h0M455 411h0M668 411h0"/>
<path d="M411 274h0M411 229h0M411 240h0M411 188h0M411 251h0M411 292h0M411 263h0M425 333h0M423 309h0M424 373h0M424 386h0M423 293h0M426 347h0M424 282h0M422 320h0M425 238h0M424 269h0M423 224h0M425 403h0M428 359h0M474 370h0M466 363h0M494 371h0M471 381h0M492 353h0M505 356h0M503 345h0M476 354h0M499 382h0M506 318h0M483 377h0M511 386h0M482 388h0M497 334h0M465 338h0M508 373h0M480 339h0M476 296h0M471 318h0M481 307h0M482 363h0M482 325h0M500 298h0M490 284h0M477 270h0M477 248h0M477 237h0M493 321h0M492 306h0M552 381h0M525 382h0M536 378h0M571 382h0M563 374h0M582 382h0M659 379h0M596 355h0M649 364h0M608 389h0M647 376h0M603 305h0M668 320h0M610 362h0M626 352h0M653 318h0M612 319h0M598 315h0M618 329h0M637 353h0M587 364h0M588 306h0M665 351h0M598 376h0M631 299h0M517 340h0M602 341h0M580 346h0M528 364h0M631 378h0M422 257h0M609 375h0M664 364h0M628 363h0M651 303h0M637 387h0M600 327h0M554 365h0M625 390h0M653 353h0M583 396h0M550 331h0M552 346h0M518 368h0M504 405h0M656 400h0M584 326h0M624 318h0M453 392h0M662 311h0M418 364h0M670 382h0M614 207h0M659 334h0M635 338h0M520 315h0M639 400h0M528 393h0M534 312h0M539 358h0M594 388h0M515 402h0M638 370h0M565 357h0M456 380h0M640 311h0M561 277h0M575 371h0M567 398h0M671 342h0M618 402h0M567 334h0M647 333h0M494 394h0M541 343h0M416 340h0M515 328h0M510 306h0M668 253h0M463 351h0M673 284h0M550 306h0M454 341h0M567 304h0M563 245h0M472 392h0M654 389h0M589 340h0M605 293h0M433 380h0M552 398h0M531 326h0M617 283h0M579 315h0M618 381h0M595 278h0M622 307h0M523 284h0M631 269h0M577 360h0M568 318h0M602 403h0M524 348h0M441 389h0M467 307h0M504 278h0M466 402h0M616 345h0M499 262h0M582 279h0M661 277h0M475 283h0M447 366h0M566 345h0M500 246h0M579 290h0M633 288h0M516 356h0M522 301h0M453 314h0M482 411h0M531 411h0M611 411h0M656 411h0M494 411h0M440 411h0M457 411h0M644 411h0"/>
<path d="M411 222h0M411 267h0M411 255h0M411 233h0M411 282h0M425 315h0M425 302h0M424 337h0M424 368h0M425 381h0M426 280h0M428 327h0M421 391h0M422 290h0M424 403h0M424 354h0M465 370h0M488 368h0M468 353h0M468 385h0M476 360h0M490 351h0M503 346h0M480 385h0M493 378h0M506 388h0M502 360h0M502 326h0M477 374h0M507 374h0M511 314h0M476 344h0M477 292h0M496 316h0M496 337h0M481 309h0M484 333h0M479 320h0M466 331h0M502 295h0M478 277h0M476 258h0M490 284h0M491 299h0M518 375h0M554 376h0M531 385h0M540 377h0M576 385h0M565 379h0M666 376h0M609 310h0M606 385h0M593 361h0M656 386h0M641 359h0M632 351h0M486 234h0M616 361h0M591 372h0M657 366h0M648 324h0M602 354h0M571 370h0M652 312h0M621 380h0M673 365h0M536 362h0M598 311h0M612 371h0M593 342h0M489 392h0M666 315h0M583 351h0M632 377h0M631 301h0M513 357h0M518 393h0M647 375h0M623 322h0M587 315h0M592 330h0M667 354h0M549 360h0M654 344h0M528 371h0M504 399h0M603 301h0M671 325h0M666 335h0M633 397h0M610 397h0M523 315h0M467 310h0M554 347h0M605 341h0M610 324h0M616 338h0M622 396h0M588 393h0M640 389h0M456 377h0M537 351h0M581 324h0M563 336h0M637 291h0M525 343h0M574 398h0M589 300h0M568 349h0M652 405h0M527 403h0M556 286h0M544 331h0M617 406h0M630 362h0M664 397h0M568 325h0M540 317h0M572 359h0M547 407h0M567 303h0M551 310h0M594 383h0M554 393h0M433 397h0M619 278h0M471 398h0M520 331h0M595 278h0M523 279h0M454 394h0M656 355h0M598 407h0M437 383h0M524 355h0M642 339h0M620 350h0M665 262h0M638 314h0M532 289h0M502 270h0M533 330h0M561 360h0M486 411h0M500 411h0"/>
<path d="M411 258h0M411 226h0M411 273h0M411 242h0M411 286h0M425 316h0M423 299h0M424 335h0M424 369h0M420 234h0M422 386h0M426 347h0M423 279h0M466 372h0M490 359h0M500 385h0M502 350h0M500 372h0M476 358h0M478 388h0M488 378h0M512 385h0M496 332h0M466 386h0M477 334h0M512 370h0M506 337h0M501 314h0M508 325h0M466 352h0M479 369h0M510 357h0M477 310h0M489 340h0M482 298h0M479 345h0M476 322h0M481 281h0M488 323h0M492 286h0M523 381h0M547 382h0M559 383h0M533 376h0M575 379h0M604 315h0M661 373h0M595 351h0M650 381h0M596 362h0M478 255h0M614 364h0M611 390h0M606 380h0M660 386h0M644 357h0M588 380h0M630 352h0M489 306h0M533 364h0M604 344h0M666 318h0M631 309h0M588 342h0M673 366h0M625 370h0M647 323h0M655 314h0M416 377h0M593 312h0M469 276h0M577 364h0M528 391h0M639 381h0M580 389h0M652 364h0M551 372h0M578 318h0M664 342h0M628 321h0M605 355h0M654 352h0M666 331h0M516 399h0M600 395h0M598 326h0M522 314h0M638 298h0M548 344h0M461 331h0M562 351h0M614 328h0M426 404h0M622 303h0M650 338h0M643 391h0M554 335h0M564 366h0M572 404h0M628 399h0M522 366h0M544 360h0M558 286h0M454 380h0M582 300h0M576 345h0M645 405h0M514 305h0M615 402h0M656 400h0M663 307h0M602 304h0M673 377h0M588 397h0M534 400h0M615 311h0M646 307h0M672 392h0M568 336h0M617 378h0M433 384h0M557 311h0M552 399h0M630 387h0M541 329h0M418 359h0M475 290h0M522 283h0M519 349h0M596 280h0M622 345h0M532 320h0M584 329h0M673 353h0M596 293h0M572 309h0M489 393h0M624 276h0M498 402h0M477 400h0M520 328h0M534 351h0M642 346h0M418 396h0M600 411h0M657 411h0M480 411h0"/>
<path d="M411 223h0M411 259h0M411 270h0M426 304h0M427 324h0M424 335h0M424 378h0M421 232h0M424 367h0M423 272h0M473 369h0M497 365h0M497 383h0M479 360h0M503 352h0M490 353h0M480 382h0M488 390h0M502 333h0M488 373h0M469 386h0M511 378h0M483 342h0M496 344h0M469 352h0M510 361h0M478 330h0M470 341h0M497 306h0M476 312h0M478 301h0M478 277h0M487 315h0M489 329h0M530 378h0M546 378h0M572 374h0M566 385h0M557 378h0M578 383h0M588 354h0M605 385h0M603 364h0M647 366h0M510 389h0M491 286h0M512 344h0M660 365h0M668 384h0M617 363h0M644 355h0M634 346h0M658 379h0M512 321h0M615 375h0M625 380h0M421 395h0M604 350h0M625 353h0M528 357h0M659 310h0M634 371h0M670 323h0M639 304h0M521 372h0M536 366h0M551 368h0M646 380h0M653 344h0M524 387h0M580 345h0M656 395h0M662 335h0M595 376h0M616 328h0M673 340h0M643 324h0M649 333h0M622 313h0M498 394h0M643 394h0M520 397h0M462 332h0M602 330h0M584 309h0M519 309h0M463 377h0M580 395h0M551 355h0M616 389h0M562 336h0M626 298h0M626 393h0M567 364h0M587 321h0M594 398h0M597 340h0M604 301h0M559 348h0M540 387h0M609 406h0M637 291h0M431 356h0M554 392h0M601 315h0M451 377h0M570 328h0M552 403h0M655 321h0M531 399h0M623 404h0M556 306h0M504 314h0M469 320h0M474 289h0M584 374h0M592 287h0M529 328h0M498 294h0M528 346h0M628 326h0M542 346h0M557 284h0M420 351h0M427 411h0M650 411h0"/>
<path d="M411 254h0M411 232h0M426 300h0M425 333h0M425 313h0M425 368h0M422 381h0M475 368h0M498 362h0M481 354h0M486 367h0M476 388h0M492 380h0M468 376h0M502 385h0M499 339h0M499 350h0M506 369h0M502 324h0M466 354h0M508 356h0M478 341h0M485 394h0M471 311h0M481 296h0M480 330h0M494 296h0M518 374h0M554 377h0M539 382h0M570 373h0M526 381h0M575 383h0M481 377h0M544 372h0M598 382h0M582 375h0M596 358h0M607 357h0M422 282h0M489 343h0M516 393h0M627 351h0M620 369h0M632 376h0M644 361h0M615 386h0M661 367h0M655 385h0M484 317h0M596 369h0M669 321h0M531 358h0M422 394h0M636 344h0M656 343h0M585 389h0M506 310h0M499 283h0M665 332h0M650 371h0M599 346h0M418 268h0M514 323h0M671 376h0M612 324h0M511 345h0M638 294h0M665 390h0M582 357h0M552 358h0M572 351h0M652 325h0M531 370h0M465 329h0M595 326h0M624 306h0M523 404h0M671 346h0M627 393h0M579 310h0M589 302h0M583 323h0M585 400h0M601 308h0M612 335h0M565 388h0M648 307h0M627 320h0M648 401h0M506 397h0M657 355h0M568 335h0M641 382h0M494 307h0M609 301h0M434 381h0M465 393h0M521 363h0M556 346h0M641 327h0M667 308h0M455 383h0M570 323h0M606 399h0M549 404h0M531 326h0M566 362h0M424 356h0M423 405h0M614 411h0"/>
<path d="M411 257h0M411 232h0M423 309h0M427 331h0M423 373h0M428 294h0M426 386h0M466 367h0M474 374h0M491 361h0M501 353h0M475 357h0M500 370h0M474 385h0M498 383h0M486 388h0M485 373h0M488 350h0M496 340h0M509 384h0M464 379h0M511 368h0M475 302h0M474 336h0M477 316h0M488 327h0M550 381h0M564 380h0M537 384h0M518 376h0M531 374h0M577 376h0M597 353h0M596 364h0M605 375h0M424 362h0M608 359h0M525 385h0M494 297h0M497 317h0M630 361h0M655 384h0M633 345h0M508 323h0M620 369h0M571 392h0M640 375h0M647 364h0M665 324h0M466 345h0M487 308h0M663 373h0M546 371h0M598 383h0M541 358h0M557 371h0M613 384h0M584 387h0M508 395h0M655 348h0M567 367h0M500 288h0M620 352h0M600 342h0M661 362h0M629 377h0M666 385h0M506 308h0M517 403h0M588 377h0M559 352h0M586 351h0M507 334h0M650 325h0M595 325h0M484 293h0M672 346h0M622 392h0M654 335h0M599 306h0M582 404h0M666 311h0M653 310h0M510 347h0M586 299h0M634 390h0M593 397h0M611 333h0M569 329h0M618 320h0M523 353h0M583 363h0M560 394h0M465 395h0M552 344h0M646 397h0M460 356h0M587 317h0M573 356h0M419 401h0M425 411h0M646 411h0"/>
<path d="M411 232h0M424 299h0M421 333h0M424 321h0M425 371h0M423 387h0M470 365h0M494 358h0M483 365h0M472 376h0M503 370h0M479 384h0M493 376h0M507 384h0M497 330h0M490 387h0M473 352h0M503 350h0M468 388h0M484 351h0M505 338h0M474 337h0M472 312h0M491 342h0M514 374h0M551 377h0M537 378h0M527 382h0M564 381h0M576 375h0M482 300h0M589 361h0M476 322h0M617 361h0M603 373h0M640 358h0M629 344h0M622 378h0M486 314h0M516 390h0M670 321h0M666 373h0M603 385h0M532 356h0M462 354h0M494 298h0M637 375h0M416 378h0M645 386h0M509 318h0M654 351h0M660 393h0M547 364h0M572 365h0M587 374h0M597 350h0M496 286h0M417 364h0M526 370h0M651 366h0M591 384h0M664 362h0M513 306h0M604 321h0M659 320h0M659 382h0M627 389h0M432 363h0M565 357h0M616 390h0M597 339h0M648 319h0M500 395h0M581 347h0M520 402h0M625 320h0M641 347h0M514 350h0M608 350h0M617 335h0M550 348h0M671 345h0M583 399h0M640 328h0M599 397h0M562 370h0M601 307h0M664 331h0M561 334h0M424 355h0M422 399h0M646 411h0"/>
<path d="M411 222h0M424 323h0M425 340h0M425 305h0M426 366h0M425 388h0M473 371h0M499 366h0M469 361h0M486 365h0M475 387h0M489 385h0M503 380h0M495 353h0M502 333h0M510 370h0M507 346h0M482 355h0M467 380h0M475 336h0M479 308h0M487 345h0M516 384h0M552 380h0M538 379h0M527 381h0M572 384h0M585 380h0M507 359h0M476 297h0M594 366h0M468 344h0M419 378h0M612 361h0M630 348h0M624 375h0M642 363h0M568 374h0M487 318h0M474 321h0M538 359h0M599 384h0M646 376h0M548 367h0M666 317h0M496 393h0M649 343h0M493 296h0M666 368h0M659 358h0M620 352h0M633 381h0M612 389h0M595 342h0M660 384h0M599 356h0M584 357h0M571 358h0M612 375h0M651 391h0M501 289h0M658 329h0M604 336h0M587 392h0M631 398h0M627 363h0M506 308h0M515 396h0M625 325h0M598 313h0M654 369h0M619 334h0M665 339h0M593 331h0M427 355h0M420 403h0"/>
<path d="M424 331h0M425 305h0M495 363h0M471 362h0M484 356h0M476 374h0M480 388h0M494 383h0M501 352h0M468 382h0M509 374h0M487 370h0M501 336h0M507 362h0M490 340h0M542 380h0M559 381h0M532 374h0M520 377h0M528 385h0M576 379h0M427 373h0M425 317h0M483 305h0M509 390h0M471 337h0M601 372h0M615 370h0M421 362h0M588 364h0M473 349h0M552 373h0M642 361h0M611 357h0M630 342h0M634 378h0M533 358h0M472 298h0M646 382h0M671 323h0M475 312h0M498 393h0M660 375h0M598 357h0M657 358h0M622 359h0M493 296h0M587 348h0M602 341h0M623 377h0M590 383h0M656 342h0M544 359h0M565 366h0M653 322h0M626 389h0M664 389h0M602 388h0M615 395h0M523 396h0M593 334h0M600 308h0M463 372h0M423 394h0M422 383h0"/>
<path d="M422 340h0M423 324h0M424 308h0M489 359h0M472 374h0M501 359h0M502 370h0M483 388h0M492 381h0M477 359h0M504 382h0M483 373h0M502 332h0M493 348h0M503 344h0M467 384h0M513 376h0M549 383h0M559 378h0M533 378h0M571 383h0M420 369h0M468 342h0M479 306h0M600 370h0M476 332h0M467 353h0M589 363h0M490 310h0M612 365h0M582 381h0M517 364h0M490 337h0M630 373h0M646 382h0M670 322h0M615 354h0M526 391h0M637 360h0M630 347h0M648 363h0M667 376h0M424 359h0M532 357h0M552 363h0M624 360h0M615 383h0M598 342h0M648 343h0M470 312h0M659 385h0M482 344h0M430 299h0M626 383h0M507 395h0M594 381h0M590 349h0M492 289h0M618 397h0M607 336h0M634 394h0M661 361h0M573 364h0M421 380h0M423 391h0M424 403h0"/>
<path d="M423 333h0M422 305h0M464 369h0M499 372h0M486 367h0M472 376h0M480 357h0M484 386h0M496 357h0M503 383h0M507 351h0M503 341h0M469 359h0M511 368h0M468 387h0M489 348h0M545 378h0M519 375h0M557 382h0M534 383h0M572 377h0M420 379h0M471 344h0M596 364h0M486 300h0M419 368h0M482 340h0M500 327h0M637 375h0M493 336h0M472 304h0M601 376h0M561 371h0M610 368h0M646 365h0M583 381h0M626 379h0M625 365h0M654 382h0M488 311h0M666 318h0M534 358h0M666 377h0M650 355h0M429 372h0M617 357h0M594 338h0M477 316h0M648 391h0M653 342h0M630 341h0M545 359h0M622 393h0M604 350h0M429 361h0M582 361h0M507 395h0M422 397h0"/>
<path d="M421 338h0M426 307h0M500 369h0M473 378h0M490 356h0M484 388h0M493 379h0M478 359h0M465 367h0M485 371h0M502 348h0M509 382h0M492 338h0M519 374h0M548 377h0M531 374h0M565 381h0M538 382h0M525 383h0M581 380h0M483 345h0M471 390h0M510 357h0M489 309h0M599 371h0M499 326h0M471 346h0M423 370h0M637 376h0M653 359h0M648 374h0M638 365h0M555 385h0M482 299h0M625 368h0M608 360h0M665 371h0M591 356h0M531 355h0M627 383h0M597 334h0M606 379h0M537 364h0M673 318h0M626 353h0M553 366h0M588 368h0M630 342h0M506 335h0M643 385h0M660 388h0M604 349h0M573 370h0M626 394h0M421 385h0M422 359h0M421 396h0"/>
<path d="M425 336h0M496 363h0M478 377h0M468 370h0M492 353h0M499 380h0M487 384h0M481 357h0M507 355h0M465 381h0M486 370h0M492 341h0M512 383h0M553 382h0M543 375h0M527 374h0M565 377h0M505 342h0M576 377h0M508 373h0M533 385h0M479 394h0M469 357h0M480 340h0M423 311h0M596 371h0M637 380h0M466 345h0M572 387h0M424 364h0M422 378h0M500 326h0M654 363h0M631 370h0M473 303h0M608 366h0M669 378h0M646 354h0M651 377h0M586 361h0M592 341h0M620 368h0M604 337h0M627 344h0M553 363h0M487 308h0M422 393h0"/>
<path d="M422 330h0M495 373h0M489 360h0M475 377h0M477 365h0M487 387h0M503 359h0M498 384h0M479 353h0M501 348h0M514 377h0M550 380h0M525 375h0M568 383h0M575 374h0M471 388h0M539 384h0M537 373h0M464 377h0M491 336h0M466 362h0M481 342h0M599 373h0M469 343h0M643 376h0M629 376h0M579 384h0M595 362h0M515 366h0M615 367h0M666 373h0M420 363h0M654 365h0M655 379h0M422 304h0M600 336h0M485 315h0M654 349h0M626 346h0M609 344h0M423 375h0M422 388h0"/>
<path d="M426 335h0M501 365h0M482 373h0M471 379h0M492 382h0M486 361h0M498 352h0M474 359h0M503 376h0M482 388h0M513 380h0M551 379h0M540 381h0M522 372h0M577 377h0M529 382h0M565 376h0M509 350h0M506 389h0M600 379h0M474 344h0M591 371h0M502 341h0M490 339h0M624 369h0M466 391h0M636 379h0M667 374h0M650 381h0M613 363h0M602 341h0M654 362h0M590 358h0M595 333h0M544 367h0M635 349h0M425 372h0M417 363h0M424 390h0"/>
<path d="M426 339h0M492 361h0M479 377h0M497 371h0M485 386h0M469 372h0M483 355h0M497 351h0M473 386h0M472 352h0M502 381h0M478 366h0M513 375h0M551 380h0M541 375h0M512 386h0M576 378h0M527 376h0M563 376h0M477 337h0M593 365h0M589 375h0M509 342h0M645 382h0M623 374h0M620 360h0M669 374h0M631 385h0M604 340h0M652 361h0M611 371h0M639 372h0M509 358h0M418 369h0M420 381h0M421 394h0"/>
<path d="M423 331h0M498 358h0M492 371h0M470 378h0M483 384h0M505 374h0M473 364h0M482 355h0M507 352h0M520 376h0M549 377h0M559 383h0M499 385h0M498 345h0M531 378h0M479 394h0M570 376h0M511 385h0M581 376h0M483 333h0M650 384h0M594 362h0M623 373h0M475 340h0M615 366h0M638 381h0M650 373h0M468 390h0M603 376h0M646 360h0M422 373h0M422 385h0"/>
<path d="M424 339h0M496 356h0M494 378h0M474 381h0M484 388h0M474 365h0M485 370h0M501 370h0M477 351h0M520 374h0M547 378h0M557 374h0M508 381h0M505 345h0M575 381h0M532 373h0M582 371h0M560 385h0M491 343h0M601 369h0M630 374h0M643 380h0M589 358h0M478 338h0M616 369h0M591 378h0M418 378h0M424 368h0"/>
<path d="M426 333h0M499 365h0M489 357h0M499 378h0M487 381h0M473 378h0M481 364h0M478 388h0M478 352h0M497 349h0M469 360h0M522 376h0M545 383h0M558 381h0M493 390h0M509 369h0M508 386h0M575 383h0M569 373h0M583 374h0M485 341h0M501 338h0M637 378h0M469 346h0M624 365h0M612 361h0M549 371h0M422 369h0M424 380h0"/>
<path d="M496 352h0M498 364h0M476 382h0M474 371h0M479 356h0M489 374h0M489 385h0M499 380h0M516 379h0M550 378h0M428 333h0M517 368h0M468 362h0M507 373h0M508 387h0M573 380h0M586 380h0M589 366h0M486 338h0M639 379h0M611 366h0M419 373h0"/>
<path d="M489 358h0M479 379h0M492 384h0M503 373h0M477 363h0M470 372h0M501 361h0M480 351h0M519 378h0M466 382h0M487 371h0M551 376h0M498 347h0M419 336h0M477 392h0M467 359h0M510 385h0M563 379h0M633 374h0M646 377h0M423 382h0M421 364h0"/>
<path d="M491 365h0M479 383h0M480 358h0M469 377h0M502 371h0M498 381h0M497 352h0M489 387h0M487 375h0M472 366h0M515 370h0M551 376h0M511 380h0M523 380h0M572 383h0M423 381h0"/>
<path d="M484 360h0M484 378h0M495 365h0M469 382h0M473 357h0M494 352h0M501 380h0M484 389h0M472 369h0M505 369h0M522 377h0M549 382h0M560 379h0M512 382h0M426 372h0"/>
<path d="M486 356h0M476 372h0M502 364h0M478 383h0M493 374h0M473 355h0M496 385h0M509 378h0M499 344h0M550 374h0M551 386h0M466 381h0M524 373h0M566 380h0"/>
<path d="M479 373h0M487 352h0M476 357h0M495 367h0M487 382h0M505 374h0M469 380h0M499 357h0M468 366h0M549 383h0M498 346h0M518 375h0M503 385h0M558 376h0"/>
<path d="M484 371h0M488 358h0M480 381h0M503 371h0M471 374h0M477 360h0M492 383h0M469 385h0M503 357h0M508 382h0M499 344h0M546 381h0M517 374h0M559 379h0"/>
<path d="M477 373h0M501 371h0M492 361h0M478 384h0M485 351h0M488 375h0M474 361h0M501 348h0M547 380h0M493 385h0M467 379h0M504 382h0M522 374h0"/>
<path d="M475 379h0M503 363h0M485 375h0M479 363h0M488 355h0M499 374h0M476 352h0M492 365h0M484 386h0M511 370h0M470 369h0M553 374h0M504 351h0M504 386h0M522 374h0M544 380h0"/>
<path d="M505 368h0M479 385h0M496 359h0M487 366h0M480 356h0M477 373h0M489 379h0M500 379h0M472 363h0M544 377h0M467 378h0M509 385h0M516 371h0"/>
<path d="M481 380h0M491 358h0M475 358h0M473 373h0M494 373h0M509 366h0M506 378h0M469 384h0M492 384h0M483 368h0M554 380h0"/>
<path d="M491 365h0M488 381h0M492 351h0M482 359h0M481 370h0M473 377h0M506 375h0M504 364h0M475 388h0M468 362h0M498 385h0"/>
<path d="M485 371h0M488 360h0M483 385h0M500 366h0M475 360h0M470 382h0M498 379h0M509 380h0"/>
<path d="M482 379h0M481 365h0M490 358h0M475 353h0M490 372h0M470 381h0M501 367h0M492 389h0M501 378h0M511 384h0M468 361h0"/>
<path d="M478 364h0M489 359h0M481 385h0M490 370h0M470 374h0M507 367h0M497 379h0M470 386h0"/>
<path d="M485 364h0M481 387h0M484 375h0M498 369h0M474 360h0M470 372h0M499 357h0M487 352h0"/>
<path d="M486 368h0M479 356h0M492 377h0M477 385h0M474 368h0M505 370h0M496 364h0"/>
<path d="M485 370h0M478 362h0M484 383h0M496 367h0M472 376h0M471 387h0M502 376h0M487 355h0"/>
<path d="M479 361h0M490 369h0M475 379h0M501 373h0M501 361h0M485 384h0"/>
<path d="M484 355h0M492 373h0M475 364h0M471 386h0M477 377h0M504 365h0M489 386h0"/>
<path d="M483 359h0M486 375h0M474 365h0M494 367h0M468 374h0M480 385h0"/>
<path d="M483 354h0M483 370h0M492 379h0M493 364h0"/>
<path d="M482 359h0M485 380h0M477 371h0M498 359h0M496 372h0"/>
<path d="M487 367h0M480 359h0M477 372h0M487 381h0"/>
<path d="M484 357h0M492 373h0M475 364h0"/>
<path d="M491 364h0M484 355h0M486 374h0M474 369h0"/>
<path d="M475 354h0M484 365h0M484 378h0"/>
<path d="M479 361h0M486 375h0"/>
<path d="M489 364h0M476 360h0M477 371h0"/>
<path d="M477 356h0"/>
<path d="M477 363h0"/>
</g></g>
<line class="f" x1="205.7" y1="176.7" x2="336.2" y2="182.7"/>
<g clip-path="url(#c02)">
<rect class="s" x="362.4" y="140.7" width="5.2" height="20.3" rx="2.6"/>
<rect class="s" x="362.4" y="203.0" width="143.0" height="5.2" rx="2.6"/>
<g class="p" transform="scale(.5)">
<path d="M738 47h0M738 77h0M738 102h0M738 113h0M939 100h0M992 106h0M933 114h0M916 126h0M928 136h0M910 140h0M949 142h0M888 159h0M921 159h0M940 161h0M979 161h0M999 174h0M905 174h0M927 179h0M947 169h0M959 185h0M943 193h0M954 200h0M971 211h0M738 165h0M738 178h0M730 187h0M751 182h0M751 200h0M765 169h0M815 188h0M831 211h0M844 219h0M879 190h0M894 202h0M878 209h0M906 212h0M914 203h0M919 213h0M934 209h0M738 214h0M730 224h0M730 262h0M730 251h0M730 274h0M730 290h0M730 240h0M730 344h0M730 358h0M730 404h0M730 371h0M730 392h0M730 333h0M730 321h0M937 241h0M952 378h0M940 358h0M938 327h0M945 388h0M946 224h0M939 342h0M949 306h0M953 278h0M936 401h0M938 262h0M943 294h0M949 255h0M952 321h0M935 376h0M937 285h0M942 275h0M935 229h0M934 307h0M954 343h0M947 405h0M947 368h0M950 353h0M951 244h0M950 266h0M921 348h0M889 348h0M853 373h0M842 361h0M861 357h0M823 394h0M909 354h0M894 367h0M924 376h0M823 378h0M837 387h0M828 362h0M800 347h0M814 354h0M855 345h0M808 375h0M885 378h0M871 385h0M910 372h0M875 371h0M926 363h0M864 374h0M829 345h0M874 346h0M915 396h0M802 364h0M900 348h0M897 392h0M840 399h0M807 388h0M881 359h0M835 371h0M909 384h0M846 381h0M806 293h0M813 309h0M923 195h0M754 399h0M975 357h0M990 299h0M856 234h0M957 297h0M786 387h0M961 394h0M799 257h0M889 329h0M926 325h0M889 230h0M854 396h0M831 330h0M961 333h0M858 289h0M868 402h0M961 359h0M998 309h0M774 349h0M994 340h0M868 321h0M969 301h0M803 277h0M769 327h0M753 388h0M995 401h0M930 276h0M1002 291h0M787 263h0M776 398h0M977 381h0M964 377h0M827 313h0M862 300h0M785 310h0M878 290h0M802 400h0M973 333h0M985 405h0M861 249h0M913 307h0M886 277h0M994 359h0M954 217h0M970 253h0M819 327h0M989 321h0M818 340h0M1003 271h0M967 241h0M994 372h0M981 278h0M898 270h0M843 347h0M968 343h0M815 367h0M757 332h0M908 331h0M840 252h0M895 256h0M851 266h0M969 283h0M797 321h0M877 335h0M874 243h0M802 233h0M838 298h0M859 273h0M802 245h0M817 403h0M803 211h0M808 324h0M895 242h0M988 211h0M783 233h0M990 383h0M740 279h0M825 252h0M1006 190h0M894 284h0M969 367h0M758 258h0M923 251h0M973 396h0M909 257h0M856 325h0M746 368h0M784 286h0M992 236h0M999 259h0M911 286h0M869 283h0M765 273h0M816 219h0M740 396h0M768 295h0M840 266h0M898 300h0M787 375h0M756 286h0M850 307h0M909 239h0M884 256h0M974 322h0M743 355h0M831 276h0M879 401h0M823 302h0M1005 320h0M1004 365h0M887 301h0M911 269h0M886 389h0M742 319h0M873 304h0M797 287h0M963 261h0M782 341h0M796 381h0M777 362h0M819 203h0M896 381h0M772 377h0M838 312h0M750 299h0M791 358h0M899 319h0M867 264h0M821 287h0M800 308h0M773 309h0M751 223h0M781 222h0M982 231h0M776 264h0M1005 353h0M814 274h0M892 403h0M742 290h0M864 219h0M928 393h0M1003 334h0M764 358h0M801 334h0M782 190h0M1004 380h0M841 324h0M915 318h0M864 338h0M869 233h0M924 287h0M989 191h0M766 217h0M905 406h0M835 238h0M959 229h0M760 319h0M830 403h0M743 259h0M740 378h0M895 217h0M984 344h0M906 227h0M924 224h0M961 309h0M924 303h0M995 247h0M923 337h0M926 406h0M906 194h0M843 199h0M813 230h0M830 200h0M996 281h0M763 198h0M970 411h0M800 411h0M761 411h0M860 411h0M999 411h0M745 411h0M956 411h0"/>
<path d="M738 47h0M921 159h0M905 174h0M950 172h0M936 182h0M943 193h0M954 205h0M751 187h0M811 196h0M934 209h0M730 278h0M730 257h0M730 213h0M730 357h0M730 377h0M730 388h0M730 405h0M730 335h0M730 323h0M938 239h0M943 359h0M937 323h0M947 370h0M951 387h0M936 383h0M945 266h0M942 255h0M936 405h0M934 265h0M951 300h0M947 331h0M951 229h0M952 275h0M948 288h0M945 310h0M933 295h0M933 353h0M939 341h0M942 394h0M933 364h0M953 250h0M941 276h0M954 398h0M948 347h0M933 309h0M847 360h0M858 350h0M820 377h0M831 362h0M918 352h0M824 353h0M883 354h0M895 378h0M831 395h0M806 351h0M853 373h0M819 365h0M868 393h0M863 363h0M898 359h0M891 368h0M831 379h0M908 367h0M872 377h0M895 345h0M801 362h0M906 346h0M922 391h0M877 344h0M896 400h0M919 378h0M806 375h0M880 369h0M842 370h0M859 382h0M848 384h0M873 193h0M848 397h0M806 310h0M906 385h0M800 300h0M812 391h0M960 369h0M983 355h0M965 341h0M799 389h0M927 328h0M974 386h0M980 377h0M830 320h0M972 361h0M740 287h0M1003 400h0M926 186h0M793 347h0M821 191h0M995 321h0M780 304h0M990 333h0M907 275h0M859 282h0M832 340h0M767 403h0M821 335h0M981 405h0M816 314h0M883 267h0M788 397h0M851 213h0M820 403h0M868 406h0M967 289h0M877 331h0M800 405h0M894 282h0M995 365h0M978 340h0M967 303h0M911 323h0M850 343h0M970 406h0M799 323h0M965 218h0M791 307h0M867 295h0M849 329h0M752 332h0M963 387h0M918 299h0M782 319h0M1001 335h0M755 394h0M848 227h0M799 245h0M879 281h0M829 306h0M898 259h0M913 285h0M851 311h0M838 264h0M798 271h0M767 327h0M911 400h0M1002 308h0M832 293h0M871 356h0M815 294h0M885 398h0M812 327h0M778 381h0M893 330h0M891 293h0M747 350h0M907 247h0M883 305h0M797 283h0M797 219h0M871 321h0M1002 377h0M770 361h0M857 268h0M772 372h0M746 323h0M921 365h0M912 209h0M921 271h0M978 270h0M759 267h0M965 353h0M828 206h0M996 269h0M888 253h0M959 315h0M861 337h0M751 301h0M962 243h0M860 304h0M984 313h0M870 310h0M970 318h0M772 390h0M778 353h0M963 261h0M982 235h0M866 245h0M924 315h0M997 234h0M833 275h0M753 368h0M901 313h0M981 394h0M852 246h0M991 291h0M845 292h0M881 230h0M1002 282h0M826 244h0M776 284h0M787 375h0M979 282h0M988 302h0M903 220h0M965 330h0M888 387h0M972 201h0M908 263h0M766 304h0M994 390h0M925 220h0M746 382h0M887 240h0M899 237h0M925 339h0M988 245h0M758 313h0M774 337h0M763 254h0M788 232h0M1003 197h0M867 273h0M811 268h0M740 300h0M777 229h0M835 351h0M947 216h0M784 272h0M762 340h0M806 336h0M1003 358h0M829 255h0M884 193h0M740 370h0M993 351h0M987 194h0M736 344h0M819 276h0M960 411h0M886 411h0M829 411h0M898 411h0M757 411h0M918 411h0M949 411h0M999 411h0"/>
<path d="M948 176h0M941 212h0M730 281h0M730 257h0M730 219h0M730 361h0M730 348h0M730 377h0M730 404h0M730 392h0M730 327h0M945 376h0M938 321h0M939 233h0M943 387h0M952 293h0M949 307h0M940 334h0M942 362h0M938 407h0M949 201h0M933 271h0M949 318h0M934 355h0M947 251h0M936 259h0M949 263h0M934 373h0M953 394h0M934 295h0M950 225h0M948 342h0M944 284h0M948 353h0M937 306h0M952 275h0M950 330h0M935 247h0M951 405h0M953 364h0M923 355h0M927 381h0M812 375h0M835 394h0M821 368h0M897 374h0M855 379h0M856 366h0M890 348h0M873 389h0M905 360h0M915 374h0M803 350h0M831 347h0M813 354h0M833 359h0M877 379h0M917 398h0M873 351h0M889 385h0M832 377h0M866 379h0M822 382h0M843 379h0M802 382h0M905 381h0M930 394h0M867 366h0M882 368h0M911 349h0M825 399h0M878 339h0M848 348h0M893 337h0M823 318h0M959 348h0M924 366h0M959 376h0M832 324h0M802 370h0M845 402h0M805 304h0M976 362h0M988 324h0M970 392h0M971 333h0M815 393h0M878 328h0M907 392h0M994 366h0M966 366h0M992 353h0M844 368h0M967 299h0M929 328h0M905 266h0M863 346h0M984 395h0M1000 393h0M959 211h0M919 322h0M909 327h0M812 312h0M822 340h0M964 310h0M848 320h0M946 187h0M870 288h0M773 319h0M877 193h0M834 304h0M784 309h0M867 303h0M771 394h0M974 378h0M877 261h0M793 315h0M990 377h0M889 263h0M926 313h0M793 342h0M992 339h0M791 272h0M893 401h0M809 336h0M912 299h0M797 359h0M809 402h0M1003 342h0M881 306h0M990 406h0M915 287h0M887 282h0M800 393h0M934 344h0M750 402h0M853 220h0M832 265h0M923 194h0M855 278h0M869 321h0M880 403h0M814 289h0M805 240h0M868 403h0M748 346h0M750 196h0M884 295h0M785 399h0M910 316h0M884 250h0M823 303h0M967 266h0M1005 304h0M766 382h0M977 260h0M897 316h0M769 349h0M996 313h0M828 210h0M849 306h0M806 275h0M764 265h0M894 359h0M858 263h0M903 342h0M858 240h0M840 337h0M756 392h0M1005 369h0M795 405h0M1000 381h0M795 328h0M975 348h0M959 239h0M921 270h0M779 387h0M776 368h0M866 277h0M771 292h0M984 303h0M745 289h0M920 211h0M786 351h0M990 282h0M765 359h0M894 301h0M918 333h0M845 291h0M873 244h0M980 288h0M964 323h0M760 338h0M816 204h0M967 254h0M859 393h0M883 232h0M1003 278h0M977 324h0M899 257h0M908 242h0M829 292h0M755 355h0M982 334h0M784 296h0M763 315h0M843 213h0M883 203h0M861 329h0M751 265h0M990 187h0M928 239h0M744 319h0M928 411h0M964 411h0M817 411h0M828 411h0M978 411h0M769 411h0"/>
<path d="M941 212h0M730 367h0M730 352h0M730 379h0M730 397h0M730 338h0M730 324h0M940 240h0M951 378h0M936 329h0M949 329h0M941 354h0M934 341h0M950 302h0M936 398h0M934 260h0M946 255h0M943 268h0M936 373h0M948 290h0M933 289h0M933 304h0M952 229h0M942 281h0M950 205h0M945 315h0M947 397h0M934 315h0M934 362h0M950 367h0M952 351h0M953 280h0M938 229h0M937 384h0M858 361h0M884 345h0M897 371h0M915 359h0M823 375h0M858 377h0M816 361h0M800 349h0M873 376h0M899 350h0M838 394h0M834 370h0M922 373h0M812 379h0M889 380h0M847 381h0M833 381h0M910 378h0M847 370h0M805 370h0M882 364h0M842 356h0M870 392h0M869 359h0M955 340h0M854 399h0M966 381h0M838 345h0M972 353h0M850 349h0M806 311h0M801 387h0M907 341h0M826 354h0M834 318h0M883 323h0M955 263h0M813 391h0M997 375h0M960 361h0M992 364h0M987 334h0M909 324h0M919 391h0M972 394h0M885 334h0M990 349h0M830 336h0M901 392h0M817 322h0M996 399h0M860 286h0M835 305h0M846 324h0M981 380h0M815 336h0M856 319h0M922 302h0M973 342h0M888 395h0M887 289h0M901 268h0M824 302h0M947 194h0M911 299h0M773 323h0M827 390h0M917 345h0M763 389h0M911 401h0M985 399h0M868 344h0M981 321h0M877 310h0M976 294h0M1002 360h0M1001 344h0M889 260h0M968 370h0M879 278h0M897 318h0M998 333h0M926 403h0M852 222h0M857 259h0M869 329h0M800 245h0M770 351h0M859 274h0M957 402h0M834 266h0M850 304h0M738 254h0M909 287h0M803 406h0M861 309h0M780 307h0M966 263h0M816 403h0M771 380h0M956 316h0M920 275h0M979 364h0M743 347h0M1003 314h0M991 303h0M930 351h0M994 322h0M781 357h0M970 305h0M908 310h0M755 192h0M932 191h0M845 405h0M962 218h0M859 338h0M785 344h0M808 276h0M760 367h0M865 369h0M795 339h0M765 337h0M797 322h0M795 302h0M888 225h0M785 384h0M900 303h0M915 244h0M811 348h0M843 312h0M969 329h0M814 293h0M835 289h0M866 411h0M882 411h0M966 411h0M989 411h0M945 411h0"/>
<path d="M730 377h0M730 342h0M730 357h0M730 406h0M730 393h0M730 328h0M730 317h0M950 368h0M948 354h0M933 326h0M934 240h0M946 322h0M943 376h0M937 251h0M941 303h0M941 264h0M936 346h0M945 291h0M952 312h0M938 393h0M942 333h0M953 284h0M934 368h0M954 300h0M935 274h0M934 215h0M948 406h0M949 247h0M951 272h0M947 386h0M936 357h0M952 396h0M948 208h0M935 312h0M954 334h0M944 234h0M933 294h0M938 202h0M820 374h0M819 354h0M853 375h0M800 352h0M882 379h0M871 371h0M838 384h0M897 373h0M919 379h0M833 373h0M809 381h0M930 381h0M871 384h0M906 356h0M833 360h0M846 367h0M810 368h0M828 389h0M806 343h0M861 359h0M847 397h0M873 351h0M904 382h0M850 349h0M833 349h0M959 346h0M796 366h0M895 343h0M972 343h0M969 377h0M836 325h0M966 391h0M968 363h0M915 362h0M991 365h0M835 338h0M889 354h0M813 399h0M923 355h0M951 223h0M825 316h0M906 345h0M817 323h0M898 393h0M909 327h0M925 398h0M842 310h0M957 377h0M801 392h0M879 338h0M927 303h0M826 303h0M988 324h0M914 395h0M983 353h0M984 338h0M1001 403h0M852 327h0M981 373h0M892 273h0M813 306h0M857 280h0M889 366h0M876 321h0M887 326h0M889 284h0M989 380h0M860 401h0M863 323h0M901 334h0M998 339h0M796 312h0M865 288h0M820 340h0M891 298h0M1000 375h0M908 297h0M970 292h0M775 350h0M898 318h0M988 394h0M895 258h0M883 394h0M879 362h0M871 400h0M783 315h0M918 287h0M864 343h0M851 216h0M959 404h0M773 309h0M864 308h0M1005 306h0M769 374h0M750 194h0M837 402h0M916 339h0M976 398h0M960 232h0M990 296h0M835 260h0M873 270h0M970 307h0M782 367h0M910 315h0M986 405h0M881 257h0M873 411h0M814 411h0"/>
<path d="M730 364h0M730 378h0M730 397h0M730 353h0M730 332h0M946 372h0M938 356h0M943 341h0M952 327h0M942 260h0M942 236h0M938 399h0M944 290h0M934 372h0M939 321h0M935 251h0M944 304h0M950 281h0M936 332h0M935 271h0M951 356h0M948 249h0M948 406h0M933 298h0M935 282h0M939 383h0M947 205h0M946 391h0M933 206h0M821 360h0M829 373h0M815 374h0M877 374h0M850 379h0M886 383h0M913 371h0M918 382h0M897 374h0M865 374h0M807 382h0M829 384h0M799 352h0M871 386h0M907 360h0M810 353h0M953 270h0M840 370h0M800 368h0M956 341h0M841 396h0M930 310h0M869 350h0M895 346h0M910 347h0M832 326h0M998 366h0M836 340h0M962 372h0M840 383h0M886 357h0M844 359h0M814 392h0M955 213h0M862 359h0M815 321h0M955 382h0M832 352h0M829 309h0M851 350h0M969 358h0M897 397h0M735 343h0M810 364h0M913 324h0M993 326h0M810 337h0M953 229h0M964 398h0M995 397h0M981 374h0M822 330h0M987 345h0M985 358h0M888 336h0M848 324h0M969 385h0M925 351h0M855 288h0M995 381h0M804 304h0M922 394h0M869 291h0M897 385h0M986 387h0M825 296h0M879 342h0M853 368h0M901 337h0M884 297h0M861 398h0M973 339h0M969 297h0M889 321h0M800 401h0M876 315h0M778 347h0M911 401h0M851 405h0M1000 342h0M818 307h0M912 304h0M825 344h0M849 226h0M1003 314h0M887 254h0M858 214h0M885 272h0M772 312h0M879 329h0M774 359h0M912 286h0M905 314h0M864 339h0M977 395h0M867 279h0M919 360h0M875 363h0M799 339h0M950 316h0M895 262h0M873 411h0"/>
<path d="M730 364h0M730 379h0M730 404h0M730 349h0M730 338h0M730 392h0M730 323h0M940 379h0M945 332h0M941 348h0M937 242h0M953 287h0M938 394h0M941 291h0M935 300h0M949 275h0M933 280h0M944 367h0M947 306h0M942 264h0M943 320h0M935 358h0M950 401h0M953 374h0M938 254h0M934 332h0M943 213h0M940 405h0M948 228h0M949 390h0M950 246h0M821 372h0M876 370h0M881 380h0M868 378h0M891 375h0M856 372h0M848 379h0M928 376h0M837 369h0M911 375h0M813 383h0M804 377h0M833 383h0M811 359h0M910 351h0M900 367h0M953 206h0M842 399h0M931 265h0M818 348h0M872 360h0M992 359h0M956 339h0M952 355h0M830 341h0M832 319h0M861 360h0M823 325h0M930 319h0M801 355h0M866 391h0M917 388h0M915 341h0M965 360h0M895 344h0M1001 368h0M831 359h0M811 327h0M888 392h0M842 356h0M806 342h0M989 332h0M792 347h0M867 350h0M819 399h0M831 299h0M919 367h0M901 397h0M906 329h0M986 373h0M848 325h0M821 295h0M899 383h0M883 338h0M977 379h0M860 400h0M975 365h0M975 343h0M884 358h0M1000 398h0M854 350h0M922 400h0M992 384h0M930 344h0M837 331h0M998 326h0M872 339h0M776 348h0M892 293h0M1001 344h0M807 404h0M813 306h0M877 394h0M864 287h0M801 395h0M869 320h0M958 326h0M917 330h0M909 307h0M980 392h0M969 333h0M806 314h0M981 352h0M873 411h0"/>
<path d="M730 366h0M730 383h0M730 349h0M730 405h0M730 332h0M938 372h0M939 358h0M949 326h0M948 381h0M943 339h0M938 399h0M938 294h0M941 270h0M935 281h0M949 263h0M953 304h0M952 279h0M953 291h0M946 240h0M939 255h0M934 317h0M936 306h0M946 406h0M938 328h0M948 349h0M948 392h0M825 365h0M875 375h0M816 380h0M891 375h0M854 380h0M919 381h0M859 370h0M904 373h0M833 377h0M866 381h0M800 379h0M930 350h0M819 353h0M809 367h0M909 360h0M844 376h0M932 383h0M919 369h0M845 393h0M828 345h0M944 313h0M959 371h0M864 355h0M835 324h0M904 345h0M964 342h0M852 360h0M806 354h0M898 357h0M931 338h0M819 325h0M970 354h0M999 363h0M894 395h0M829 334h0M837 365h0M915 349h0M880 355h0M817 399h0M829 387h0M903 327h0M987 366h0M880 338h0M833 355h0M905 385h0M851 318h0M822 301h0M795 356h0M918 399h0M864 392h0M842 333h0M878 387h0M891 340h0M975 374h0M833 305h0M996 389h0M869 342h0M1002 332h0M990 380h0M988 328h0M985 391h0M1004 398h0M976 345h0M952 215h0M810 309h0M866 318h0M772 342h0M854 404h0M970 390h0M782 352h0M815 336h0M845 348h0"/>
<path d="M730 366h0M730 351h0M730 404h0M730 387h0M730 330h0M944 378h0M949 326h0M940 357h0M940 338h0M946 299h0M942 261h0M937 274h0M940 389h0M935 294h0M943 403h0M947 278h0M941 239h0M936 308h0M935 322h0M948 312h0M935 367h0M824 370h0M871 380h0M890 383h0M901 374h0M880 372h0M819 381h0M925 376h0M862 373h0M915 380h0M845 376h0M805 382h0M952 393h0M930 350h0M834 376h0M910 355h0M813 356h0M812 368h0M948 350h0M949 231h0M852 384h0M800 369h0M866 363h0M823 352h0M843 393h0M891 369h0M963 376h0M801 357h0M965 365h0M863 389h0M847 359h0M836 349h0M874 354h0M899 401h0M824 395h0M997 373h0M898 345h0M833 363h0M857 351h0M826 326h0M963 342h0M901 362h0M956 284h0M953 364h0M931 400h0M986 375h0M883 338h0M812 392h0M913 327h0M900 327h0M915 369h0M805 347h0M809 327h0M841 330h0M887 395h0M832 317h0M885 351h0M980 348h0M920 397h0M995 362h0M852 400h0M980 395h0M828 339h0M974 372h0M801 306h0M909 397h0M828 294h0M770 348h0M995 391h0"/>
<path d="M730 370h0M730 358h0M730 404h0M730 343h0M730 388h0M941 369h0M945 322h0M944 338h0M937 381h0M943 296h0M950 260h0M934 350h0M943 307h0M943 395h0M947 281h0M939 261h0M943 239h0M937 277h0M936 328h0M948 354h0M951 373h0M821 379h0M871 372h0M883 377h0M814 371h0M909 379h0M855 374h0M899 369h0M838 377h0M920 379h0M808 380h0M870 383h0M823 363h0M930 300h0M904 351h0M860 362h0M805 362h0M832 351h0M816 353h0M931 286h0M835 393h0M895 384h0M959 365h0M957 396h0M968 357h0M930 366h0M928 311h0M914 357h0M834 365h0M903 394h0M850 351h0M834 320h0M929 392h0M932 404h0M995 367h0M846 366h0M853 385h0M893 352h0M816 325h0M874 339h0M962 379h0M985 375h0M871 357h0M957 344h0M972 342h0M905 338h0M885 330h0M886 343h0M888 365h0M910 367h0M803 346h0M887 399h0M814 390h0M913 328h0M796 356h0M860 347h0M739 328h0M943 406h0M986 361h0M900 328h0M831 337h0M985 347h0M915 389h0"/>
<path d="M730 373h0M730 362h0M730 400h0M943 374h0M949 326h0M947 362h0M941 335h0M940 262h0M946 400h0M937 300h0M948 300h0M938 277h0M933 364h0M941 310h0M939 346h0M944 246h0M937 323h0M949 271h0M935 401h0M944 232h0M819 379h0M868 372h0M889 372h0M906 370h0M900 379h0M887 383h0M846 375h0M830 377h0M922 377h0M804 375h0M948 386h0M954 375h0M870 385h0M830 363h0M808 386h0M877 365h0M811 365h0M857 382h0M820 358h0M948 283h0M901 358h0M857 361h0M927 305h0M932 381h0M832 347h0M912 386h0M912 356h0M971 359h0M895 390h0M800 354h0M963 368h0M838 389h0M954 340h0M902 398h0M841 364h0M996 372h0M883 336h0M901 342h0M834 324h0M869 348h0M823 318h0M972 381h0M892 349h0M817 332h0M983 378h0M987 364h0M819 347h0M966 341h0M818 392h0M737 334h0"/>
<path d="M730 373h0M730 362h0M730 397h0M946 382h0M949 335h0M940 363h0M943 319h0M947 260h0M936 334h0M944 393h0M935 299h0M945 303h0M946 282h0M938 350h0M946 243h0M937 271h0M940 403h0M938 375h0M929 359h0M816 370h0M825 378h0M869 380h0M885 379h0M859 369h0M906 372h0M813 383h0M850 383h0M835 374h0M922 383h0M936 253h0M873 368h0M896 366h0M803 379h0M917 370h0M910 382h0M833 386h0M951 292h0M957 280h0M825 363h0M948 346h0M815 357h0M906 349h0M907 361h0M860 357h0M823 350h0M836 356h0M798 355h0M957 361h0M847 371h0M916 355h0M956 372h0M934 387h0M848 357h0M997 367h0M929 314h0M837 342h0M893 387h0M953 270h0M926 400h0M884 336h0M831 318h0M842 395h0M841 324h0M820 320h0M896 400h0M864 390h0M975 355h0M804 367h0M993 378h0M895 343h0M822 331h0M913 396h0"/>
<path d="M730 363h0M730 401h0M730 380h0M948 330h0M941 400h0M937 371h0M938 334h0M940 356h0M947 303h0M935 319h0M943 281h0M946 241h0M944 379h0M950 260h0M940 292h0M949 343h0M934 301h0M943 270h0M823 373h0M868 375h0M888 370h0M890 383h0M856 372h0M910 377h0M811 376h0M850 383h0M838 376h0M923 376h0M822 385h0M811 388h0M900 364h0M928 356h0M878 383h0M935 391h0M815 365h0M947 391h0M872 365h0M816 354h0M864 388h0M903 350h0M915 355h0M835 393h0M826 347h0M958 367h0M803 361h0M856 352h0M911 365h0M845 367h0M800 382h0M874 338h0M1002 369h0M900 391h0M951 288h0M891 333h0M836 342h0M828 359h0M932 269h0M889 345h0M822 321h0M868 354h0M993 363h0"/>
<path d="M730 357h0M730 371h0M730 401h0M948 324h0M940 331h0M947 373h0M942 391h0M939 356h0M940 277h0M938 290h0M938 313h0M938 380h0M943 247h0M953 280h0M943 264h0M818 370h0M867 372h0M828 374h0M891 379h0M847 373h0M883 372h0M902 375h0M880 383h0M916 380h0M816 383h0M927 377h0M946 302h0M835 384h0M935 400h0M950 399h0M944 341h0M932 340h0M855 362h0M815 358h0M807 377h0M909 366h0M912 354h0M960 362h0M930 301h0M894 391h0M848 392h0M859 381h0M828 354h0M928 359h0M835 396h0M866 349h0M901 353h0M878 362h0M958 338h0M839 365h0M1001 363h0M960 377h0"/>
<path d="M730 356h0M730 370h0M943 324h0M938 395h0M945 338h0M941 348h0M937 297h0M937 274h0M944 377h0M937 365h0M946 242h0M948 265h0M931 374h0M820 377h0M876 374h0M887 371h0M901 378h0M865 377h0M855 372h0M834 372h0M931 334h0M913 377h0M844 377h0M810 373h0M820 388h0M865 366h0M951 306h0M821 365h0M946 289h0M736 403h0M889 382h0M946 358h0M952 389h0M855 356h0M834 384h0M917 364h0M873 388h0M808 354h0M914 351h0M803 384h0M932 320h0M936 310h0M962 368h0M830 351h0M903 358h0M903 394h0M877 361h0M923 386h0M949 401h0M837 359h0M842 396h0M900 345h0M927 358h0"/>
<path d="M730 361h0M942 333h0M946 398h0M943 298h0M950 325h0M933 358h0M942 350h0M938 376h0M934 306h0M943 272h0M943 241h0M822 375h0M906 374h0M872 375h0M851 377h0M883 374h0M945 365h0M933 326h0M950 380h0M947 255h0M861 369h0M813 383h0M892 382h0M939 284h0M940 387h0M833 374h0M809 367h0M917 383h0M894 371h0M826 364h0M926 370h0M944 315h0M829 386h0M917 360h0M956 361h0M801 375h0M841 365h0M911 347h0M932 397h0M861 383h0M898 393h0M899 349h0M864 355h0"/>
<path d="M730 355h0M951 334h0M943 323h0M937 339h0M941 303h0M822 370h0M900 374h0M864 379h0M911 378h0M936 379h0M940 247h0M945 368h0M934 351h0M881 370h0M939 393h0M850 378h0M831 378h0M944 271h0M946 351h0M925 381h0M807 383h0M931 369h0M891 381h0M823 355h0M854 362h0M867 365h0M821 382h0M833 390h0M952 263h0M960 368h0M934 291h0M917 350h0M811 361h0M835 360h0M816 392h0M920 362h0M947 380h0M887 391h0"/>
<path d="M943 337h0M948 324h0M936 297h0M820 374h0M865 378h0M898 373h0M831 371h0M941 376h0M879 371h0M936 350h0M939 391h0M854 375h0M911 376h0M825 384h0M945 359h0M944 269h0M930 380h0M814 387h0M934 330h0M864 365h0M842 377h0M887 378h0M946 305h0M802 375h0M916 352h0M959 362h0M955 372h0M811 365h0M852 364h0M949 347h0M923 370h0M929 359h0"/>
<path d="M936 339h0M942 328h0M822 375h0M865 372h0M905 376h0M935 305h0M887 376h0M873 379h0M950 376h0M940 383h0M837 375h0M933 375h0M934 360h0M918 377h0M946 392h0M850 375h0M814 368h0M936 294h0M935 274h0M945 366h0M828 365h0M808 380h0M948 338h0M855 365h0M947 279h0M934 395h0M896 382h0M942 351h0M820 388h0M909 345h0M807 358h0"/>
<path d="M938 325h0M815 371h0M861 379h0M939 346h0M938 299h0M905 373h0M888 370h0M831 375h0M874 382h0M940 375h0M913 380h0M871 371h0M944 362h0M943 399h0M850 375h0M933 358h0M937 390h0M823 382h0M811 382h0M855 364h0M893 380h0M927 373h0M946 333h0M948 389h0M801 376h0M951 375h0M909 355h0M807 362h0M839 382h0"/>
<path d="M943 331h0M813 373h0M871 376h0M859 376h0M830 376h0M894 376h0M934 296h0M931 379h0M905 369h0M935 339h0M944 345h0M939 370h0M916 382h0M882 373h0M846 378h0M947 391h0M936 395h0M860 359h0M808 386h0M934 350h0M953 365h0M918 371h0M851 365h0M827 388h0"/>
<path d="M940 328h0M819 380h0M818 369h0M864 376h0M941 339h0M889 373h0M833 370h0M899 368h0M910 375h0M874 367h0M922 375h0M935 370h0M946 374h0M900 380h0M941 353h0M931 382h0M847 377h0M808 379h0M831 382h0M938 400h0M857 365h0M929 394h0M936 291h0"/>
<path d="M816 372h0M863 373h0M942 338h0M827 372h0M894 373h0M906 369h0M880 374h0M945 323h0M838 371h0M944 365h0M912 384h0M940 378h0M938 351h0M850 375h0M920 377h0M937 389h0M856 361h0M808 384h0M955 373h0M828 386h0"/>
<path d="M815 376h0M860 376h0M937 335h0M886 370h0M897 372h0M833 372h0M913 371h0M939 368h0M876 374h0M817 364h0M945 321h0M906 379h0M940 386h0M948 345h0M931 392h0M868 365h0M848 376h0M936 351h0M928 377h0M815 389h0"/>
<path d="M822 375h0M865 382h0M865 371h0M891 372h0M831 368h0M918 376h0M903 379h0M941 368h0M933 375h0M902 368h0M877 373h0M933 333h0M841 377h0M940 346h0M943 325h0M815 384h0M948 338h0M853 375h0"/>
<path d="M817 375h0M893 376h0M856 374h0M868 379h0M882 376h0M935 370h0M831 367h0M909 374h0M915 384h0M938 339h0M942 329h0M932 382h0M864 365h0"/>
<path d="M822 369h0M891 378h0M857 375h0M814 381h0M839 373h0M878 375h0M909 380h0M941 378h0M948 340h0M919 373h0M940 322h0"/>
<path d="M820 373h0M893 375h0M861 375h0M838 373h0M873 379h0M829 366h0M884 369h0M912 384h0M939 369h0M913 371h0"/>
<path d="M823 373h0M864 371h0M892 376h0M838 373h0M872 379h0M857 380h0M940 370h0M915 375h0M814 380h0"/>
<path d="M815 369h0M886 375h0M821 379h0M897 376h0M830 367h0M873 381h0M937 377h0M909 374h0M870 370h0M848 370h0M861 380h0M921 380h0"/>
<path d="M817 375h0M890 372h0M938 369h0M864 375h0M835 375h0"/>
<path d="M822 369h0M898 373h0M940 374h0M861 371h0"/>
<path d="M816 373h0"/>
<path d="M815 376h0M819 365h0"/>
<path d="M819 373h0"/>
<path d="M825 378h0"/>
</g></g>
<line class="f" x1="365.0" y1="175.2" x2="502.8" y2="182.7"/>
<g clip-path="url(#c03)">
<rect class="s" x="576.3" y="203.0" width="89.7" height="5.2" rx="2.6"/>
<g class="p" transform="scale(.5)">
<path d="M1053 47h0M1053 77h0M1053 102h0M1053 113h0M1257 100h0M1314 106h0M1242 114h0M1252 126h0M1266 136h0M1249 140h0M1242 159h0M1305 161h0M1321 174h0M1175 169h0M1157 182h0M1187 187h0M1173 196h0M1154 200h0M1250 173h0M1263 175h0M1266 189h0M1271 199h0M1237 190h0M1249 193h0M1292 177h0M1288 190h0M1293 203h0M1308 203h0M1319 212h0M1053 165h0M1053 178h0M1053 214h0M1183 217h0M1217 218h0M1232 212h0M1256 204h0M1282 217h0M1049 269h0M1049 395h0M1049 336h0M1049 309h0M1049 291h0M1049 359h0M1049 377h0M1049 323h0M1049 255h0M1049 228h0M1049 280h0M1049 411h0M1211 319h0M1221 405h0M1173 380h0M1189 279h0M1295 349h0M1243 366h0M1225 379h0M1305 333h0M1232 302h0M1277 339h0M1278 286h0M1269 304h0M1204 364h0M1243 282h0M1161 359h0M1280 250h0M1208 352h0M1144 321h0M1278 328h0M1291 263h0M1292 324h0M1314 400h0M1168 345h0M1202 342h0M1157 392h0M1151 341h0M1180 323h0M1319 349h0M1213 393h0M1216 329h0M1232 234h0M1254 292h0M1239 339h0M1202 301h0M1132 390h0M1311 361h0M1244 253h0M1183 261h0M1291 387h0M1238 321h0M1326 376h0M1191 371h0M1184 404h0M1263 367h0M1201 378h0M1179 284h0M1255 346h0M1170 292h0M1232 348h0M1301 375h0M1211 372h0M1237 384h0M1143 397h0M1202 254h0M1219 350h0M1197 267h0M1190 360h0M1162 332h0M1254 248h0M1323 261h0M1276 387h0M1139 370h0M1265 379h0M1149 378h0M1228 330h0M1319 238h0M1285 374h0M1225 359h0M1192 238h0M1299 403h0M1272 274h0M1193 313h0M1156 278h0M1327 293h0M1251 274h0M1186 393h0M1203 331h0M1249 395h0M1247 379h0M1181 203h0M1221 311h0M1157 296h0M1128 364h0M1217 253h0M1173 309h0M1255 358h0M1178 370h0M1276 400h0M1176 333h0M1141 259h0M1199 395h0M1299 227h0M1187 248h0M1235 401h0M1282 303h0M1250 322h0M1277 315h0M1187 344h0M1194 291h0M1279 238h0M1133 407h0M1290 294h0M1286 363h0M1328 280h0M1251 217h0M1265 317h0M1324 322h0M1164 371h0M1176 397h0M1227 279h0M1312 290h0M1302 310h0M1213 341h0M1172 356h0M1225 226h0M1235 271h0M1146 357h0M1141 337h0M1173 274h0M1265 265h0M1243 232h0M1160 319h0M1269 355h0M1215 292h0M1291 251h0M1296 215h0M1300 277h0M1179 298h0M1308 251h0M1318 338h0M1277 185h0M1319 300h0M1263 394h0M1310 322h0M1290 339h0M1191 333h0M1266 223h0M1204 285h0M1313 375h0M1311 386h0M1166 249h0M1286 407h0M1254 332h0M1274 371h0M1327 362h0M1301 391h0M1160 307h0M1178 242h0M1254 230h0M1244 352h0M1212 263h0M1256 307h0M1199 208h0M1253 405h0M1150 287h0M1122 399h0M1146 301h0M1230 256h0M1322 388h0M1190 383h0M1136 215h0M1300 289h0M1312 266h0M1266 344h0M1225 193h0M1160 224h0M1246 299h0M1232 368h0M1167 406h0M1270 293h0M1107 314h0M1227 391h0M1155 406h0M1140 282h0M1136 348h0M1233 290h0M1224 340h0M1171 232h0M1291 312h0M1249 263h0M1264 328h0M1261 278h0M1153 368h0"/>
<path d="M1053 47h0M1264 142h0M1242 159h0M1155 187h0M1257 170h0M1268 182h0M1261 194h0M1296 195h0M1049 187h0M1053 214h0M1173 220h0M1236 204h0M1252 210h0M1298 210h0M1049 278h0M1049 338h0M1049 298h0M1049 368h0M1049 326h0M1049 398h0M1049 355h0M1049 382h0M1049 313h0M1049 228h0M1049 264h0M1049 411h0M1203 357h0M1170 356h0M1284 254h0M1158 360h0M1313 339h0M1241 289h0M1215 332h0M1204 368h0M1318 395h0M1166 384h0M1314 357h0M1234 324h0M1187 321h0M1163 336h0M1239 337h0M1286 353h0M1248 360h0M1205 395h0M1272 369h0M1236 374h0M1325 378h0M1295 371h0M1203 344h0M1233 240h0M1290 333h0M1187 362h0M1212 381h0M1248 245h0M1247 375h0M1186 376h0M1274 384h0M1174 322h0M1276 349h0M1261 363h0M1292 382h0M1287 321h0M1278 327h0M1189 282h0M1271 275h0M1191 391h0M1222 373h0M1264 351h0M1258 249h0M1302 360h0M1221 394h0M1139 403h0M1256 381h0M1191 351h0M1326 345h0M1180 332h0M1221 352h0M1148 346h0M1234 308h0M1179 393h0M1196 297h0M1250 399h0M1232 191h0M1194 334h0M1203 274h0M1304 332h0M1308 379h0M1241 261h0M1254 302h0M1147 395h0M1301 395h0M1146 332h0M1285 395h0M1291 299h0M1204 328h0M1169 345h0M1297 287h0M1205 262h0M1310 238h0M1307 406h0M1218 303h0M1129 374h0M1165 311h0M1253 347h0M1253 282h0M1320 286h0M1142 368h0M1319 260h0M1271 396h0M1277 301h0M1155 384h0M1299 230h0M1302 300h0M1207 247h0M1159 401h0M1241 351h0M1160 287h0M1270 340h0M1251 266h0M1264 326h0M1210 314h0M1185 342h0M1226 279h0M1267 296h0M1247 327h0M1326 312h0M1200 384h0M1139 356h0M1140 254h0M1290 264h0M1217 263h0M1236 391h0M1300 312h0M1223 314h0M1298 345h0M1314 323h0M1200 309h0M1306 279h0M1250 316h0M1174 284h0M1327 296h0M1229 267h0M1170 374h0M1274 217h0M1186 268h0M1225 249h0M1229 361h0M1232 296h0M1226 332h0M1159 371h0M1217 363h0M1234 223h0M1183 311h0M1185 237h0M1224 212h0M1170 254h0M1169 397h0M1158 301h0M1219 290h0M1327 327h0M1183 294h0M1275 315h0M1323 367h0M1181 250h0M1185 210h0M1175 304h0M1230 343h0M1197 186h0M1187 405h0M1157 268h0M1258 392h0M1276 244h0M1142 382h0M1217 407h0M1314 306h0M1235 405h0M1144 319h0M1186 194h0M1156 324h0M1281 375h0M1196 230h0M1283 281h0M1259 232h0M1177 382h0M1275 407h0M1289 236h0M1168 242h0M1135 341h0M1261 313h0M1123 393h0M1288 310h0M1178 261h0M1209 215h0M1315 219h0M1319 406h0M1267 263h0M1274 287h0M1293 402h0M1196 198h0M1317 275h0M1246 386h0M1246 219h0M1256 333h0M1257 407h0M1131 411h0M1147 411h0"/>
<path d="M1247 159h0M1258 184h0M1242 200h0M1257 212h0M1304 212h0M1049 268h0M1049 344h0M1049 285h0M1049 360h0M1049 300h0M1049 401h0M1049 312h0M1049 236h0M1049 378h0M1049 330h0M1181 221h0M1210 361h0M1165 355h0M1236 283h0M1322 341h0M1304 195h0M1254 356h0M1239 347h0M1197 374h0M1174 390h0M1313 351h0M1294 359h0M1232 375h0M1322 398h0M1190 363h0M1229 334h0M1278 376h0M1209 374h0M1327 368h0M1218 341h0M1315 364h0M1209 332h0M1262 368h0M1286 368h0M1265 383h0M1160 384h0M1186 378h0M1323 356h0M1222 395h0M1284 386h0M1298 381h0M1163 343h0M1308 395h0M1288 322h0M1311 338h0M1221 367h0M1278 339h0M1322 379h0M1184 350h0M1192 315h0M1310 378h0M1251 405h0M1269 345h0M1196 350h0M1270 284h0M1251 384h0M1195 398h0M1233 189h0M1238 301h0M1291 403h0M1290 348h0M1318 296h0M1131 376h0M1197 302h0M1252 337h0M1216 303h0M1151 326h0M1296 186h0M1161 332h0M1245 289h0M1276 362h0M1172 314h0M1202 262h0M1193 333h0M1306 286h0M1270 331h0M1240 368h0M1149 358h0M1151 399h0M1190 279h0M1206 393h0M1218 322h0M1251 319h0M1299 323h0M1309 308h0M1171 364h0M1301 349h0M1129 364h0M1155 286h0M1304 270h0M1140 328h0M1234 319h0M1145 388h0M1324 265h0M1182 333h0M1279 277h0M1318 281h0M1137 401h0M1142 347h0M1167 302h0M1162 401h0M1239 253h0M1170 284h0M1224 272h0M1176 402h0M1296 393h0M1295 337h0M1222 381h0M1227 243h0M1142 366h0M1292 231h0M1326 288h0M1214 262h0M1321 325h0M1293 271h0M1180 242h0M1180 292h0M1302 371h0M1153 372h0M1241 212h0M1150 339h0M1286 308h0M1306 245h0M1261 275h0M1258 395h0M1241 331h0M1205 344h0M1237 406h0M1210 281h0M1201 246h0M1228 345h0M1271 242h0M1277 302h0M1252 306h0M1231 389h0M1164 321h0M1164 373h0M1169 245h0M1222 287h0M1227 299h0M1258 295h0M1175 379h0M1234 359h0M1276 216h0M1187 186h0M1262 324h0M1259 256h0M1278 401h0M1194 385h0M1142 315h0M1234 220h0M1196 290h0M1282 292h0M1266 402h0M1327 303h0M1324 314h0M1202 321h0M1290 260h0M1276 316h0M1185 307h0M1212 404h0M1320 251h0M1272 260h0M1243 395h0M1303 225h0M1186 260h0M1143 377h0M1315 233h0M1173 347h0M1255 233h0M1250 246h0M1249 272h0M1252 372h0M1248 220h0M1240 383h0M1265 306h0M1236 271h0M1142 411h0M1156 411h0M1131 411h0"/>
<path d="M1049 286h0M1049 338h0M1049 364h0M1049 303h0M1049 397h0M1049 378h0M1049 352h0M1049 411h0M1211 358h0M1211 370h0M1245 345h0M1168 349h0M1187 373h0M1310 359h0M1314 338h0M1192 355h0M1258 355h0M1314 399h0M1269 381h0M1207 334h0M1238 335h0M1236 376h0M1226 368h0M1178 379h0M1323 369h0M1221 328h0M1159 359h0M1265 368h0M1290 353h0M1289 332h0M1294 372h0M1254 396h0M1210 383h0M1217 348h0M1255 380h0M1163 378h0M1170 360h0M1326 349h0M1279 323h0M1180 390h0M1283 377h0M1311 371h0M1130 384h0M1296 387h0M1182 315h0M1196 397h0M1167 315h0M1232 292h0M1200 376h0M1321 289h0M1194 337h0M1308 296h0M1210 305h0M1273 348h0M1179 347h0M1273 359h0M1244 388h0M1244 356h0M1174 323h0M1271 289h0M1151 395h0M1223 390h0M1161 331h0M1299 402h0M1218 401h0M1254 365h0M1299 325h0M1263 341h0M1191 386h0M1131 355h0M1172 339h0M1301 307h0M1282 394h0M1303 349h0M1150 323h0M1302 205h0M1183 276h0M1168 391h0M1231 350h0M1283 405h0M1221 304h0M1322 382h0M1150 379h0M1143 357h0M1196 303h0M1150 334h0M1197 278h0M1258 202h0M1155 347h0M1250 292h0M1242 402h0M1255 319h0M1138 374h0M1162 282h0M1205 254h0M1168 301h0M1305 381h0M1318 325h0M1229 279h0M1239 206h0M1187 294h0M1201 364h0M1129 366h0M1304 285h0M1266 392h0M1233 236h0M1207 394h0M1307 274h0M1268 275h0M1244 325h0M1317 261h0M1317 303h0M1138 327h0M1220 285h0M1139 398h0M1198 314h0M1268 323h0M1191 247h0M1174 239h0M1292 300h0M1186 326h0M1253 332h0M1276 300h0M1211 319h0M1279 311h0M1176 215h0M1256 303h0M1216 265h0M1204 294h0M1296 341h0M1234 319h0M1144 313h0M1225 341h0M1261 260h0M1128 397h0M1171 274h0M1235 254h0M1158 406h0M1327 276h0M1284 281h0M1188 405h0M1178 266h0M1240 366h0M1267 214h0M1248 281h0M1246 259h0M1255 270h0M1244 313h0M1246 214h0M1252 225h0M1254 250h0M1253 236h0M1242 269h0M1260 405h0M1241 301h0M1171 371h0M1136 411h0M1147 411h0"/>
<path d="M1049 276h0M1049 293h0M1049 336h0M1049 304h0M1049 370h0M1049 357h0M1049 398h0M1049 411h0M1209 365h0M1202 356h0M1277 383h0M1182 370h0M1169 351h0M1204 341h0M1235 339h0M1236 374h0M1251 357h0M1220 358h0M1317 395h0M1325 378h0M1186 380h0M1286 373h0M1167 363h0M1251 375h0M1294 360h0M1315 342h0M1189 353h0M1166 339h0M1265 377h0M1268 364h0M1307 364h0M1185 399h0M1298 376h0M1216 344h0M1166 385h0M1197 372h0M1212 310h0M1174 397h0M1255 400h0M1212 376h0M1222 323h0M1318 291h0M1246 385h0M1167 309h0M1178 360h0M1268 281h0M1153 396h0M1197 389h0M1286 318h0M1225 382h0M1228 396h0M1185 320h0M1269 342h0M1170 329h0M1278 358h0M1296 346h0M1152 358h0M1189 337h0M1284 336h0M1178 307h0M1219 294h0M1301 398h0M1155 339h0M1204 403h0M1289 388h0M1137 355h0M1315 372h0M1317 330h0M1303 386h0M1237 284h0M1222 370h0M1246 335h0M1211 388h0M1255 342h0M1283 397h0M1230 350h0M1186 282h0M1326 341h0M1179 346h0M1139 368h0M1127 374h0M1243 365h0M1245 317h0M1255 323h0M1160 374h0M1300 324h0M1156 320h0M1235 404h0M1148 347h0M1303 354h0M1140 379h0M1198 294h0M1300 311h0M1314 308h0M1233 361h0M1144 336h0M1245 347h0M1204 249h0M1271 301h0M1310 404h0M1237 327h0M1198 276h0M1270 396h0M1306 282h0M1189 304h0M1137 390h0M1163 295h0M1233 206h0M1200 312h0M1291 407h0M1324 355h0M1275 268h0M1207 328h0M1298 269h0M1232 228h0M1164 404h0M1232 300h0M1245 300h0M1247 249h0M1254 280h0M1256 263h0M1246 209h0M1246 269h0M1255 235h0M1253 309h0M1245 396h0M1256 294h0M1257 387h0M1262 333h0M1175 379h0M1151 411h0M1136 411h0"/>
<path d="M1049 278h0M1049 293h0M1049 335h0M1049 366h0M1049 306h0M1049 401h0M1049 349h0M1209 366h0M1201 356h0M1181 368h0M1163 353h0M1271 389h0M1230 332h0M1239 347h0M1248 358h0M1291 379h0M1307 397h0M1179 387h0M1223 368h0M1247 375h0M1254 349h0M1188 356h0M1286 357h0M1280 377h0M1270 373h0M1209 340h0M1320 397h0M1305 370h0M1177 351h0M1157 381h0M1220 340h0M1251 396h0M1323 347h0M1264 362h0M1276 363h0M1205 308h0M1212 352h0M1214 380h0M1190 390h0M1198 372h0M1316 362h0M1207 390h0M1181 316h0M1158 398h0M1285 315h0M1265 347h0M1312 342h0M1153 359h0M1218 306h0M1299 352h0M1178 327h0M1168 372h0M1188 337h0M1164 327h0M1326 373h0M1169 340h0M1140 361h0M1232 393h0M1199 334h0M1276 347h0M1231 376h0M1325 293h0M1153 344h0M1290 327h0M1210 401h0M1317 385h0M1271 283h0M1171 397h0M1309 325h0M1210 295h0M1284 392h0M1168 383h0M1178 300h0M1312 289h0M1284 338h0M1220 390h0M1127 364h0M1321 335h0M1193 285h0M1135 372h0M1149 371h0M1236 359h0M1241 331h0M1260 383h0M1295 365h0M1295 391h0M1252 324h0M1160 312h0M1224 295h0M1149 320h0M1300 334h0M1185 378h0M1146 399h0M1224 357h0M1170 317h0M1272 295h0M1203 275h0M1192 320h0M1143 348h0M1141 331h0M1189 401h0M1244 388h0M1243 317h0M1265 334h0M1249 338h0M1236 407h0M1264 272h0M1234 279h0M1165 299h0M1312 307h0M1214 319h0M1247 303h0M1248 291h0M1254 312h0M1253 254h0M1247 203h0M1253 277h0M1246 215h0M1250 242h0M1243 270h0M1258 301h0M1259 407h0M1236 301h0M1142 411h0M1156 411h0"/>
<path d="M1049 279h0M1049 297h0M1049 364h0M1049 401h0M1049 312h0M1213 366h0M1181 367h0M1234 344h0M1198 362h0M1160 350h0M1178 380h0M1267 380h0M1296 370h0M1229 373h0M1290 381h0M1252 370h0M1163 361h0M1309 364h0M1189 352h0M1227 359h0M1311 398h0M1240 375h0M1209 376h0M1270 367h0M1175 392h0M1161 376h0M1255 401h0M1289 353h0M1206 388h0M1190 378h0M1199 346h0M1177 357h0M1284 315h0M1266 355h0M1268 341h0M1319 351h0M1207 354h0M1300 396h0M1323 375h0M1192 397h0M1306 376h0M1252 359h0M1144 356h0M1174 331h0M1212 306h0M1209 337h0M1231 391h0M1323 299h0M1170 343h0M1181 317h0M1212 400h0M1186 336h0M1220 346h0M1250 345h0M1324 286h0M1222 381h0M1132 366h0M1280 330h0M1221 298h0M1177 305h0M1248 391h0M1239 357h0M1324 327h0M1221 330h0M1311 323h0M1280 375h0M1277 353h0M1322 400h0M1160 335h0M1321 339h0M1241 326h0M1160 324h0M1299 357h0M1311 334h0M1280 392h0M1150 341h0M1158 387h0M1153 369h0M1237 401h0M1149 379h0M1150 316h0M1271 296h0M1292 329h0M1255 326h0M1263 391h0M1138 377h0M1277 281h0M1193 294h0M1249 310h0M1197 335h0M1310 289h0M1298 339h0M1139 327h0M1230 289h0M1202 318h0M1308 387h0M1289 399h0M1246 285h0M1254 296h0M1254 272h0M1255 383h0M1245 210h0M1247 258h0M1255 248h0M1240 298h0M1261 316h0M1262 284h0M1171 371h0M1151 411h0"/>
<path d="M1049 294h0M1049 279h0M1049 307h0M1049 393h0M1049 359h0M1207 366h0M1189 368h0M1270 381h0M1167 354h0M1220 367h0M1173 381h0M1194 357h0M1252 375h0M1302 363h0M1238 340h0M1241 371h0M1290 369h0M1256 361h0M1204 379h0M1224 342h0M1179 352h0M1275 371h0M1258 391h0M1187 384h0M1229 373h0M1171 370h0M1281 348h0M1316 398h0M1287 357h0M1299 377h0M1290 383h0M1317 364h0M1176 396h0M1213 351h0M1200 389h0M1195 342h0M1246 402h0M1214 296h0M1258 343h0M1207 337h0M1314 288h0M1144 365h0M1305 405h0M1324 380h0M1240 358h0M1280 320h0M1173 300h0M1213 385h0M1246 389h0M1181 341h0M1274 340h0M1319 298h0M1229 395h0M1321 328h0M1167 337h0M1302 391h0M1155 366h0M1135 374h0M1166 389h0M1314 346h0M1227 359h0M1325 287h0M1163 315h0M1236 384h0M1324 339h0M1311 334h0M1282 391h0M1242 323h0M1147 324h0M1276 360h0M1301 323h0M1184 321h0M1292 337h0M1202 293h0M1151 355h0M1269 305h0M1229 328h0M1148 378h0M1160 378h0M1192 397h0M1257 329h0M1193 285h0M1204 318h0M1151 312h0M1254 317h0M1248 347h0M1249 293h0M1245 306h0M1250 281h0M1250 260h0M1254 208h0M1255 246h0M1250 218h0M1260 270h0M1235 285h0M1262 292h0M1263 369h0M1310 372h0"/>
<path d="M1049 293h0M1049 304h0M1049 281h0M1216 365h0M1196 364h0M1182 375h0M1205 370h0M1185 360h0M1167 349h0M1237 340h0M1257 375h0M1272 380h0M1291 376h0M1183 347h0M1252 365h0M1169 385h0M1209 385h0M1265 359h0M1161 359h0M1171 365h0M1193 379h0M1260 400h0M1226 376h0M1197 351h0M1178 391h0M1242 380h0M1275 346h0M1306 358h0M1276 365h0M1219 341h0M1308 380h0M1246 403h0M1294 351h0M1223 298h0M1261 340h0M1207 338h0M1242 357h0M1316 367h0M1207 358h0M1198 394h0M1140 357h0M1187 335h0M1287 391h0M1309 392h0M1227 364h0M1253 354h0M1238 394h0M1322 328h0M1171 338h0M1158 371h0M1313 350h0M1291 364h0M1224 353h0M1162 393h0M1225 389h0M1293 326h0M1160 336h0M1270 391h0M1302 401h0M1141 378h0M1278 322h0M1303 340h0M1190 319h0M1252 393h0M1241 314h0M1152 347h0M1212 295h0M1286 344h0M1248 340h0M1171 399h0M1319 402h0M1256 325h0M1249 298h0M1244 282h0M1256 314h0M1254 275h0M1248 256h0M1244 327h0M1257 290h0M1264 269h0M1303 370h0M1240 369h0"/>
<path d="M1049 302h0M1049 287h0M1208 363h0M1195 363h0M1255 376h0M1224 367h0M1209 374h0M1177 379h0M1270 376h0M1236 345h0M1164 380h0M1262 363h0M1202 382h0M1251 363h0M1180 348h0M1184 358h0M1289 371h0M1158 351h0M1170 368h0M1233 380h0M1218 355h0M1186 369h0M1202 343h0M1292 384h0M1313 358h0M1222 299h0M1256 394h0M1282 359h0M1190 341h0M1241 357h0M1308 370h0M1176 391h0M1278 349h0M1137 364h0M1318 374h0M1215 392h0M1143 355h0M1221 336h0M1234 334h0M1231 396h0M1293 352h0M1273 338h0M1326 327h0M1319 390h0M1148 371h0M1158 393h0M1279 394h0M1258 347h0M1188 385h0M1301 405h0M1280 381h0M1182 327h0M1214 345h0M1188 317h0M1211 302h0M1267 391h0M1248 318h0M1246 398h0M1246 330h0M1245 380h0M1255 290h0M1246 282h0M1247 300h0M1245 251h0M1249 271h0M1256 258h0M1239 311h0M1258 335h0M1263 275h0M1247 347h0M1254 308h0M1254 405h0M1241 370h0M1219 379h0M1304 380h0"/>
<path d="M1049 295h0M1049 283h0M1214 371h0M1188 368h0M1277 373h0M1202 357h0M1268 385h0M1232 337h0M1206 382h0M1261 358h0M1247 374h0M1236 349h0M1175 385h0M1180 356h0M1225 362h0M1243 361h0M1162 349h0M1164 384h0M1230 380h0M1299 373h0M1174 371h0M1309 359h0M1163 368h0M1182 345h0M1291 358h0M1283 382h0M1198 344h0M1207 337h0M1201 371h0M1258 397h0M1138 359h0M1184 379h0M1277 362h0M1198 391h0M1216 355h0M1216 291h0M1316 381h0M1188 336h0M1319 370h0M1259 375h0M1237 394h0M1291 392h0M1322 329h0M1225 349h0M1150 373h0M1276 349h0M1181 400h0M1221 386h0M1252 351h0M1254 385h0M1218 335h0M1167 396h0M1226 396h0M1152 357h0M1244 339h0M1253 329h0M1247 313h0M1245 406h0M1251 281h0M1247 295h0M1255 259h0M1262 339h0M1262 276h0M1237 324h0M1260 294h0M1238 287h0M1247 271h0M1287 369h0"/>
<path d="M1049 294h0M1209 368h0M1183 372h0M1205 381h0M1260 357h0M1165 382h0M1219 375h0M1232 342h0M1220 362h0M1161 358h0M1249 380h0M1232 379h0M1185 383h0M1198 368h0M1171 351h0M1192 356h0M1249 357h0M1274 381h0M1281 361h0M1286 372h0M1205 339h0M1307 366h0M1172 390h0M1138 361h0M1273 369h0M1185 342h0M1209 353h0M1170 372h0M1160 344h0M1233 353h0M1300 381h0M1294 365h0M1289 387h0M1323 373h0M1324 336h0M1245 369h0M1294 350h0M1197 391h0M1222 392h0M1316 356h0M1185 395h0M1242 346h0M1256 394h0M1276 348h0M1261 380h0M1207 395h0M1285 400h0M1256 370h0M1252 334h0M1247 314h0M1250 406h0M1256 346h0M1254 302h0M1250 278h0M1236 395h0M1243 292h0M1255 323h0M1263 331h0M1239 279h0M1263 296h0M1239 327h0M1263 282h0M1157 368h0M1312 381h0M1152 378h0"/>
<path d="M1049 287h0M1049 303h0M1188 369h0M1198 382h0M1207 362h0M1207 389h0M1226 364h0M1266 362h0M1172 380h0M1160 349h0M1229 343h0M1228 379h0M1214 377h0M1178 364h0M1179 389h0M1245 358h0M1269 374h0M1254 372h0M1240 374h0M1184 351h0M1198 341h0M1285 373h0M1288 356h0M1305 358h0M1173 345h0M1210 346h0M1291 386h0M1316 369h0M1165 367h0M1280 363h0M1163 388h0M1322 330h0M1135 364h0M1185 340h0M1317 380h0M1260 385h0M1256 396h0M1258 351h0M1275 347h0M1250 344h0M1244 384h0M1250 329h0M1248 315h0M1244 402h0M1245 298h0M1246 283h0M1238 350h0M1260 340h0M1237 335h0M1235 396h0M1252 269h0M1305 376h0M1201 371h0M1155 377h0"/>
<path d="M1049 294h0M1186 375h0M1213 369h0M1209 358h0M1174 386h0M1236 350h0M1231 336h0M1228 379h0M1192 365h0M1228 366h0M1162 350h0M1166 372h0M1258 366h0M1204 384h0M1253 380h0M1188 352h0M1199 340h0M1247 356h0M1239 380h0M1267 380h0M1290 356h0M1188 340h0M1280 360h0M1174 357h0M1215 381h0M1296 392h0M1294 377h0M1279 377h0M1209 336h0M1317 368h0M1163 394h0M1157 385h0M1253 396h0M1254 340h0M1244 322h0M1247 367h0M1246 310h0M1246 388h0M1250 296h0M1256 284h0M1255 329h0M1248 276h0M1244 403h0M1260 352h0M1243 339h0M1306 371h0M1272 369h0M1154 374h0M1311 381h0M1288 368h0"/>
<path d="M1049 293h0M1213 365h0M1221 372h0M1185 372h0M1234 380h0M1167 351h0M1230 344h0M1175 382h0M1266 364h0M1180 346h0M1211 387h0M1249 377h0M1255 358h0M1200 355h0M1198 344h0M1189 336h0M1210 350h0M1200 333h0M1168 372h0M1240 352h0M1205 376h0M1278 364h0M1272 376h0M1293 355h0M1185 356h0M1197 387h0M1290 377h0M1228 355h0M1236 364h0M1294 387h0M1254 404h0M1248 393h0M1250 329h0M1246 315h0M1252 340h0M1251 301h0M1246 282h0M1261 375h0M1261 391h0M1236 335h0M1261 347h0M1247 365h0M1239 400h0M1256 278h0M1196 370h0M1306 379h0M1159 380h0M1299 369h0M1314 372h0"/>
<path d="M1049 303h0M1049 291h0M1212 363h0M1224 377h0M1194 376h0M1238 340h0M1172 382h0M1229 366h0M1264 360h0M1158 350h0M1176 371h0M1190 366h0M1250 362h0M1203 340h0M1255 377h0M1170 359h0M1201 361h0M1207 380h0M1237 356h0M1179 391h0M1184 350h0M1270 382h0M1237 383h0M1297 358h0M1191 335h0M1208 391h0M1255 350h0M1253 401h0M1252 390h0M1256 331h0M1252 320h0M1246 308h0M1247 287h0M1241 395h0M1244 328h0M1250 340h0M1282 371h0M1293 376h0M1161 375h0M1304 375h0M1241 369h0"/>
<path d="M1049 296h0M1211 358h0M1215 371h0M1225 367h0M1179 384h0M1257 359h0M1191 376h0M1267 365h0M1204 368h0M1167 347h0M1164 358h0M1167 377h0M1228 379h0M1246 362h0M1235 371h0M1172 366h0M1258 377h0M1233 357h0M1211 383h0M1271 383h0M1210 344h0M1191 359h0M1290 364h0M1201 350h0M1233 334h0M1245 379h0M1254 395h0M1244 351h0M1245 337h0M1251 316h0M1246 402h0M1255 341h0M1253 286h0M1246 296h0M1259 329h0M1240 320h0M1235 398h0M1265 347h0M1286 381h0M1311 374h0M1277 373h0M1160 368h0M1296 374h0M1152 375h0"/>
<path d="M1049 297h0M1218 367h0M1226 376h0M1170 382h0M1193 367h0M1254 364h0M1166 357h0M1250 354h0M1202 383h0M1171 369h0M1273 376h0M1183 384h0M1250 374h0M1256 404h0M1255 385h0M1244 386h0M1248 396h0M1251 338h0M1250 317h0M1243 365h0M1249 294h0M1244 306h0M1261 375h0M1248 282h0M1237 339h0M1262 338h0M1238 401h0M1238 325h0M1236 351h0M1211 376h0M1287 373h0M1314 375h0M1302 373h0M1239 376h0M1156 371h0M1182 369h0"/>
<path d="M1049 294h0M1178 388h0M1176 377h0M1232 373h0M1214 359h0M1171 358h0M1247 364h0M1212 375h0M1202 387h0M1199 360h0M1192 369h0M1246 353h0M1246 378h0M1253 397h0M1247 337h0M1245 316h0M1256 345h0M1255 312h0M1255 371h0M1259 357h0M1249 285h0M1258 384h0M1251 302h0M1243 393h0M1236 347h0M1240 405h0M1162 380h0M1222 368h0M1293 371h0M1166 368h0M1276 372h0M1310 373h0M1155 371h0"/>
<path d="M1215 357h0M1221 366h0M1177 377h0M1173 350h0M1229 381h0M1170 365h0M1253 363h0M1198 359h0M1185 367h0M1210 369h0M1193 379h0M1245 356h0M1245 383h0M1249 393h0M1249 330h0M1251 315h0M1256 401h0M1256 378h0M1245 344h0M1253 303h0M1257 339h0M1238 333h0M1243 284h0M1239 399h0M1255 351h0M1254 286h0M1204 381h0M1263 369h0M1246 372h0M1292 379h0M1281 379h0M1313 371h0M1300 370h0M1269 379h0M1232 370h0M1158 380h0M1306 380h0"/>
<path d="M1217 360h0M1174 386h0M1224 378h0M1166 356h0M1248 362h0M1198 364h0M1210 372h0M1254 380h0M1244 376h0M1246 397h0M1245 321h0M1255 338h0M1253 311h0M1244 338h0M1255 391h0M1250 351h0M1260 363h0M1255 403h0M1245 297h0M1265 381h0M1250 285h0M1261 347h0M1175 372h0M1294 379h0M1195 381h0M1278 375h0M1187 371h0M1164 368h0M1310 375h0M1288 370h0M1233 370h0M1154 375h0"/>
<path d="M1218 361h0M1227 382h0M1225 369h0M1165 362h0M1190 361h0M1254 354h0M1252 368h0M1252 384h0M1254 398h0M1252 316h0M1256 337h0M1246 330h0M1241 365h0M1241 352h0M1238 379h0M1241 313h0M1237 336h0M1250 295h0M1246 281h0M1207 377h0M1264 375h0M1170 380h0M1180 370h0M1278 379h0M1192 373h0M1273 369h0M1293 375h0M1304 378h0M1155 373h0"/>
<path d="M1218 375h0M1165 362h0M1229 369h0M1255 358h0M1245 353h0M1249 367h0M1253 377h0M1256 394h0M1252 318h0M1246 338h0M1253 346h0M1250 405h0M1261 369h0M1254 330h0M1240 385h0M1238 363h0M1204 374h0M1190 369h0M1178 375h0M1280 379h0M1290 375h0M1264 380h0M1302 375h0M1272 371h0"/>
<path d="M1219 376h0M1225 366h0M1246 359h0M1255 382h0M1256 364h0M1249 395h0M1251 310h0M1254 348h0M1243 379h0M1251 333h0M1249 406h0M1246 321h0M1262 399h0M1203 377h0M1195 369h0M1267 374h0M1169 370h0M1182 374h0M1211 368h0M1286 374h0M1299 372h0M1310 372h0"/>
<path d="M1213 368h0M1249 356h0M1244 367h0M1248 378h0M1256 397h0M1247 313h0M1254 338h0M1262 368h0M1243 389h0M1230 374h0M1211 380h0M1198 372h0M1185 370h0M1262 379h0M1173 370h0M1177 380h0M1279 377h0M1303 371h0"/>
<path d="M1249 353h0M1253 363h0M1248 378h0M1251 311h0M1253 400h0M1240 362h0M1259 390h0M1247 342h0M1244 320h0M1211 374h0M1262 371h0M1225 372h0M1236 377h0M1198 372h0M1280 378h0M1163 371h0M1175 368h0M1170 379h0M1309 379h0"/>
<path d="M1248 352h0M1250 363h0M1248 384h0M1252 317h0M1252 395h0M1255 373h0M1244 340h0M1217 373h0M1225 380h0M1206 377h0M1267 369h0M1288 372h0M1240 370h0M1174 372h0M1273 380h0M1163 369h0M1189 369h0"/>
<path d="M1246 353h0M1248 365h0M1247 380h0M1249 395h0M1252 320h0M1242 315h0M1257 373h0M1258 388h0M1221 374h0M1208 377h0M1234 376h0M1268 374h0M1198 381h0M1176 375h0M1281 379h0"/>
<path d="M1247 359h0M1256 381h0M1248 395h0M1252 371h0M1253 312h0M1244 348h0M1243 378h0M1211 377h0M1226 378h0M1218 369h0M1272 375h0M1178 378h0M1193 377h0"/>
<path d="M1245 356h0M1246 369h0M1248 395h0M1256 312h0M1255 375h0M1242 380h0M1215 374h0M1228 372h0M1201 374h0M1182 372h0M1270 372h0"/>
<path d="M1249 365h0M1252 353h0M1255 397h0M1248 318h0M1255 378h0M1241 379h0M1222 377h0M1209 379h0M1214 369h0M1270 378h0M1173 375h0M1199 375h0"/>
<path d="M1249 364h0M1242 353h0M1253 393h0M1247 312h0M1255 354h0M1252 380h0M1217 376h0M1263 377h0M1242 376h0M1228 377h0M1203 371h0"/>
<path d="M1247 364h0M1250 351h0M1251 312h0M1253 399h0M1243 378h0M1217 369h0M1258 374h0M1211 380h0M1228 376h0M1203 371h0"/>
<path d="M1247 355h0M1244 368h0M1247 316h0M1213 375h0M1258 376h0M1201 377h0M1243 379h0M1229 374h0"/>
<path d="M1251 363h0M1248 347h0M1251 315h0M1220 371h0M1251 377h0M1261 370h0M1208 374h0M1238 374h0"/>
<path d="M1250 359h0M1248 372h0M1213 374h0M1263 378h0"/>
<path d="M1247 357h0M1251 367h0M1257 376h0M1211 369h0M1246 377h0"/>
<path d="M1251 365h0M1252 352h0M1241 360h0M1250 377h0M1209 370h0M1241 371h0"/>
<path d="M1249 369h0M1250 358h0M1258 381h0M1208 375h0"/>
<path d="M1248 373h0M1255 381h0M1209 379h0"/>
<path d="M1255 369h0M1243 369h0M1210 377h0"/>
<path d="M1245 370h0M1255 374h0M1209 377h0"/>
<path d="M1246 372h0M1210 379h0"/>
<path d="M1251 376h0M1241 368h0"/>
<path d="M1248 377h0"/>
<path d="M1255 377h0"/>
</g></g>
<line class="f" x1="524.4" y1="172.6" x2="664.1" y2="183.5"/>
<g clip-path="url(#c10)">
<rect class="s" x="43.6" y="349.5" width="5.2" height="60.0" rx="2.6"/>
<rect class="s" x="53.6" y="364.6" width="5.2" height="39.2" rx="2.6"/>
<rect class="s" x="63.5" y="360.8" width="5.2" height="48.6" rx="2.6"/>
<rect class="s" x="73.5" y="357.1" width="5.2" height="52.4" rx="2.6"/>
<rect class="s" x="83.5" y="362.7" width="5.2" height="46.7" rx="2.6"/>
<rect class="s" x="93.5" y="368.4" width="5.2" height="41.1" rx="2.6"/>
<rect class="s" x="103.4" y="364.6" width="5.2" height="44.9" rx="2.6"/>
<rect class="s" x="123.4" y="360.8" width="5.2" height="48.6" rx="2.6"/>
<rect class="s" x="43.6" y="404.3" width="5.2" height="10.9" rx="2.6"/>
<g class="p" transform="scale(.5)">
<path d="M112 460h0M112 490h0M112 516h0M112 527h0M152 513h0M172 539h0M152 550h0M172 556h0M172 573h0M172 588h0M172 604h0M132 573h0M132 587h0M132 609h0M112 578h0M112 591h0M92 573h0M152 593h0M232 574h0M232 598h0M212 617h0M252 528h0M272 520h0M252 586h0M272 590h0M252 615h0M252 626h0M272 630h0M332 623h0M92 681h0M92 610h0M92 662h0M92 641h0M92 692h0M92 706h0M92 825h0M112 683h0M112 618h0M112 728h0M112 700h0M112 802h0M112 753h0M112 714h0M112 647h0M112 770h0M112 741h0M112 669h0M112 658h0M112 630h0M112 825h0M132 694h0M132 789h0M132 804h0M132 705h0M132 721h0M132 652h0M132 735h0M132 682h0M132 671h0M132 637h0M132 815h0M132 769h0M132 749h0M152 811h0M152 683h0M152 713h0M152 665h0M152 729h0M152 699h0M152 631h0M152 611h0M152 646h0M152 792h0M152 754h0M152 774h0M152 825h0M172 666h0M172 710h0M172 697h0M172 651h0M172 628h0M172 761h0M172 722h0M172 682h0M172 776h0M172 811h0M172 789h0M172 747h0M172 615h0M172 734h0M172 825h0M192 679h0M192 656h0M192 703h0M192 785h0M192 716h0M192 773h0M192 737h0M192 802h0M192 749h0M192 825h0M212 683h0M212 815h0M212 635h0M212 657h0M212 721h0M212 670h0M212 772h0M212 786h0M212 710h0M212 733h0M212 799h0M212 699h0M212 752h0M232 783h0M232 809h0M232 731h0M232 709h0M232 766h0M232 685h0M232 747h0M232 797h0M232 665h0M232 644h0M232 825h0M252 727h0M252 690h0M252 817h0M252 659h0M252 709h0M252 799h0M252 679h0M252 744h0M252 755h0M252 641h0M252 788h0M272 781h0M272 804h0M272 761h0M272 706h0M272 642h0M272 683h0M272 792h0M272 736h0M272 695h0M272 722h0M272 656h0M272 825h0M292 814h0M292 749h0M292 688h0M292 786h0M292 732h0M292 773h0M292 710h0M292 640h0M292 760h0M292 800h0M292 676h0M292 825h0M312 810h0M312 754h0M312 737h0M312 685h0M312 714h0M312 785h0M312 765h0M312 701h0M312 660h0M312 798h0M312 649h0M312 825h0M332 654h0M332 670h0M332 747h0M332 806h0M332 689h0M332 817h0M332 763h0M332 714h0M332 782h0M332 730h0M332 637h0M332 795h0M332 702h0M352 749h0M352 778h0M352 803h0M352 817h0M352 684h0M352 729h0M352 790h0M372 787h0M372 800h0M372 767h0M372 752h0M372 732h0M372 812h0M372 825h0"/>
<path d="M112 460h0M152 555h0M172 573h0M172 613h0M132 616h0M92 583h0M232 583h0M232 603h0M212 626h0M252 586h0M92 685h0M92 674h0M92 638h0M92 613h0M92 658h0M92 700h0M92 825h0M112 677h0M112 730h0M112 690h0M112 612h0M112 708h0M112 807h0M112 659h0M112 647h0M112 768h0M112 749h0M112 627h0M112 780h0M112 825h0M132 729h0M132 696h0M132 679h0M132 813h0M132 650h0M132 794h0M132 769h0M132 716h0M132 661h0M132 637h0M132 745h0M132 758h0M132 825h0M152 666h0M152 725h0M152 703h0M152 815h0M152 611h0M152 687h0M152 802h0M152 625h0M152 758h0M152 600h0M152 636h0M172 670h0M172 702h0M172 657h0M172 689h0M172 763h0M172 732h0M172 629h0M172 715h0M172 752h0M172 805h0M172 825h0M192 684h0M192 716h0M192 777h0M192 698h0M192 671h0M192 737h0M192 804h0M192 652h0M192 789h0M192 758h0M192 825h0M212 674h0M212 720h0M212 812h0M212 662h0M212 686h0M212 639h0M212 703h0M212 778h0M212 766h0M212 797h0M212 825h0M232 809h0M232 721h0M232 764h0M232 692h0M232 707h0M232 675h0M232 786h0M232 733h0M232 797h0M232 750h0M232 775h0M232 660h0M232 825h0M252 682h0M252 816h0M252 717h0M252 651h0M252 728h0M252 702h0M252 791h0M252 634h0M252 618h0M252 748h0M252 671h0M272 796h0M272 810h0M272 763h0M272 708h0M272 733h0M272 780h0M272 688h0M272 744h0M272 665h0M272 825h0M292 680h0M292 742h0M292 772h0M292 812h0M292 696h0M292 795h0M292 728h0M292 757h0M292 711h0M292 825h0M312 808h0M312 764h0M312 741h0M312 720h0M312 794h0M312 777h0M312 752h0M312 681h0M312 692h0M312 709h0M312 825h0M332 807h0M332 744h0M332 695h0M332 663h0M332 779h0M332 756h0M332 719h0M332 643h0M332 794h0M332 682h0M332 825h0M352 748h0M352 798h0M352 781h0M352 809h0M352 825h0M372 793h0M372 738h0M372 782h0M372 825h0"/>
<path d="M232 603h0M212 626h0M252 588h0M92 648h0M92 634h0M92 670h0M92 618h0M92 694h0M92 706h0M92 682h0M92 825h0M112 697h0M112 675h0M112 722h0M112 740h0M112 811h0M112 619h0M112 708h0M112 763h0M112 662h0M112 799h0M112 637h0M112 825h0M132 721h0M132 697h0M132 797h0M132 680h0M132 769h0M132 645h0M132 817h0M132 739h0M132 709h0M132 751h0M152 670h0M152 707h0M152 719h0M152 808h0M152 657h0M152 686h0M152 622h0M152 750h0M152 608h0M152 635h0M152 730h0M152 825h0M172 703h0M172 664h0M172 609h0M172 764h0M172 679h0M172 722h0M172 621h0M172 750h0M172 739h0M172 648h0M172 825h0M192 687h0M192 768h0M192 675h0M192 712h0M192 727h0M192 746h0M192 656h0M192 825h0M212 678h0M212 725h0M212 657h0M212 813h0M212 704h0M212 769h0M212 691h0M212 643h0M212 796h0M212 825h0M232 807h0M232 735h0M232 680h0M232 766h0M232 710h0M232 794h0M232 748h0M232 693h0M232 779h0M232 825h0M252 734h0M252 699h0M252 817h0M252 681h0M252 658h0M252 710h0M252 790h0M252 619h0M252 746h0M252 630h0M272 798h0M272 759h0M272 699h0M272 734h0M272 782h0M272 812h0M272 825h0M292 780h0M292 737h0M292 807h0M292 796h0M292 749h0M292 724h0M292 767h0M292 678h0M292 697h0M292 825h0M312 814h0M312 800h0M312 764h0M312 735h0M312 788h0M312 776h0M312 718h0M312 680h0M312 700h0M312 825h0M332 805h0M332 737h0M332 770h0M332 752h0M332 786h0M332 709h0M332 825h0M352 803h0M352 778h0M352 825h0M372 803h0M372 778h0M372 825h0"/>
<path d="M92 620h0M92 662h0M92 685h0M92 649h0M92 609h0M92 707h0M92 696h0M92 825h0M112 687h0M112 704h0M112 731h0M112 715h0M112 809h0M112 611h0M112 753h0M112 766h0M112 665h0M112 825h0M132 727h0M132 705h0M132 688h0M132 792h0M132 671h0M132 649h0M132 825h0M152 673h0M152 697h0M152 808h0M152 717h0M152 729h0M152 626h0M152 614h0M152 686h0M152 825h0M172 708h0M172 656h0M172 773h0M172 674h0M172 726h0M172 687h0M172 624h0M172 762h0M172 825h0M192 681h0M192 696h0M192 708h0M192 734h0M192 776h0M192 746h0M192 650h0M192 825h0M212 720h0M212 678h0M212 664h0M212 706h0M212 807h0M212 652h0M212 825h0M232 811h0M232 742h0M232 764h0M232 689h0M232 726h0M232 800h0M232 708h0M232 779h0M232 753h0M232 673h0M232 825h0M252 707h0M252 672h0M252 813h0M252 694h0M252 657h0M252 725h0M252 799h0M252 635h0M252 683h0M252 825h0M272 804h0M272 791h0M272 760h0M272 735h0M272 825h0M292 774h0M292 785h0M292 817h0M292 736h0M292 720h0M292 686h0M292 752h0M312 764h0M312 814h0M312 800h0M312 780h0M312 741h0M312 678h0M312 825h0M332 743h0M332 772h0M332 790h0M332 801h0M332 717h0M332 825h0M352 794h0M352 825h0M372 793h0M372 773h0"/>
<path d="M92 655h0M92 667h0M92 684h0M92 695h0M92 619h0M92 825h0M112 695h0M112 683h0M112 727h0M112 706h0M112 809h0M112 765h0M112 825h0M132 700h0M132 717h0M132 688h0M132 653h0M132 792h0M132 676h0M132 825h0M152 664h0M152 680h0M152 705h0M152 691h0M152 801h0M152 718h0M152 816h0M152 625h0M172 700h0M172 712h0M172 669h0M172 727h0M172 625h0M172 754h0M172 825h0M192 685h0M192 711h0M192 672h0M192 726h0M192 739h0M192 658h0M192 769h0M192 825h0M212 721h0M212 684h0M212 665h0M212 706h0M212 810h0M212 647h0M212 825h0M232 772h0M232 689h0M232 801h0M232 815h0M232 742h0M232 719h0M232 756h0M232 708h0M232 783h0M252 699h0M252 687h0M252 658h0M252 671h0M252 808h0M252 825h0M272 800h0M272 758h0M272 825h0M292 771h0M292 794h0M292 734h0M292 746h0M292 814h0M292 825h0M312 806h0M312 758h0M312 736h0M312 782h0M312 817h0M312 794h0M332 763h0M332 751h0M332 735h0M332 782h0M332 825h0M352 799h0M372 801h0M372 785h0"/>
<path d="M92 656h0M92 668h0M92 688h0M92 612h0M92 645h0M92 825h0M112 702h0M112 681h0M112 724h0M112 812h0M112 737h0M112 763h0M112 825h0M132 691h0M132 718h0M132 703h0M132 799h0M132 647h0M132 825h0M152 671h0M152 688h0M152 703h0M152 817h0M152 620h0M152 722h0M172 709h0M172 677h0M172 723h0M172 631h0M172 825h0M192 682h0M192 712h0M192 695h0M192 735h0M192 724h0M192 749h0M192 825h0M212 712h0M212 659h0M212 674h0M212 688h0M212 727h0M212 813h0M212 825h0M232 764h0M232 682h0M232 812h0M232 739h0M232 717h0M232 798h0M232 753h0M232 785h0M232 693h0M232 825h0M252 690h0M252 706h0M252 678h0M252 666h0M252 825h0M272 794h0M272 807h0M272 765h0M272 751h0M272 825h0M292 739h0M292 791h0M292 756h0M292 825h0M312 801h0M312 762h0M312 739h0M312 825h0M332 764h0M332 738h0M332 781h0M332 825h0M352 794h0M372 778h0"/>
<path d="M92 652h0M92 667h0M92 695h0M92 684h0M112 697h0M112 678h0M112 716h0M112 733h0M112 810h0M132 727h0M132 694h0M132 713h0M132 681h0M132 825h0M152 688h0M152 668h0M152 705h0M152 825h0M172 712h0M172 676h0M172 701h0M192 707h0M192 682h0M192 732h0M212 711h0M212 686h0M212 668h0M212 825h0M232 766h0M232 812h0M232 741h0M232 690h0M232 799h0M232 788h0M232 825h0M252 687h0M252 707h0M252 667h0M252 825h0M272 794h0M272 760h0M292 786h0M292 731h0M292 825h0M312 806h0M312 732h0M312 757h0M312 825h0M332 770h0M332 825h0"/>
<path d="M92 661h0M92 689h0M92 672h0M112 702h0M112 684h0M112 722h0M112 733h0M132 721h0M132 693h0M132 704h0M132 825h0M152 694h0M152 670h0M152 683h0M152 825h0M172 702h0M172 669h0M172 716h0M192 709h0M192 674h0M192 733h0M212 719h0M212 708h0M212 668h0M212 686h0M232 767h0M232 805h0M232 817h0M232 743h0M252 690h0M252 706h0M252 664h0M252 825h0M272 799h0M272 768h0M292 738h0"/>
<path d="M92 655h0M92 666h0M92 680h0M112 694h0M112 706h0M112 681h0M112 735h0M132 724h0M132 684h0M132 708h0M152 691h0M152 678h0M152 664h0M152 825h0M172 712h0M172 674h0M192 708h0M192 684h0M192 731h0M212 711h0M212 687h0M212 658h0M212 669h0M232 770h0M232 803h0M232 815h0M232 757h0M232 733h0M232 745h0M252 689h0M252 701h0M252 664h0M252 825h0M272 794h0M292 733h0"/>
<path d="M92 680h0M92 663h0M112 697h0M112 679h0M112 711h0M132 727h0M132 686h0M132 714h0M152 677h0M152 692h0M172 712h0M192 713h0M212 710h0M212 682h0M232 802h0M232 774h0M232 760h0M232 745h0M252 681h0M252 699h0M272 800h0"/>
<path d="M92 690h0M92 657h0M92 670h0M112 704h0M112 690h0M112 716h0M112 678h0M132 723h0M152 678h0M172 702h0M172 714h0M192 711h0M212 708h0M232 770h0M232 808h0M232 758h0M232 738h0M252 693h0M252 671h0M272 791h0M272 802h0"/>
<path d="M92 687h0M92 662h0M112 696h0M112 714h0M132 723h0M152 676h0M172 707h0M192 710h0M212 707h0M232 751h0M232 806h0M232 769h0M252 687h0M272 792h0"/>
<path d="M92 685h0M92 661h0M112 687h0M132 721h0M152 677h0M172 712h0M192 713h0M232 747h0M232 776h0M232 764h0M232 800h0M252 687h0"/>
<path d="M132 725h0M192 710h0"/>
<path d="M132 723h0"/>
</g></g>
<line class="f" x1="46.2" y1="385.5" x2="185.8" y2="391.6"/>
<g clip-path="url(#c11)">
<rect class="s" x="203.1" y="350.5" width="5.2" height="64.7" rx="2.6"/>
<rect class="s" x="227.4" y="362.7" width="5.2" height="45.8" rx="2.6"/>
<rect class="s" x="233.4" y="362.7" width="5.2" height="45.8" rx="2.6"/>
<rect class="s" x="239.5" y="362.7" width="5.2" height="45.8" rx="2.6"/>
<rect class="s" x="245.6" y="362.7" width="5.2" height="45.8" rx="2.6"/>
<rect class="s" x="282.0" y="368.4" width="5.2" height="40.1" rx="2.6"/>
<rect class="s" x="294.1" y="368.4" width="5.2" height="40.1" rx="2.6"/>
<rect class="s" x="300.2" y="368.4" width="5.2" height="40.1" rx="2.6"/>
<rect class="s" x="306.3" y="368.4" width="5.2" height="40.1" rx="2.6"/>
<g class="p" transform="scale(.5)">
<path d="M424 460h0M424 490h0M424 516h0M424 527h0M521 513h0M509 539h0M509 554h0M521 549h0M533 556h0M533 572h0M521 593h0M533 605h0M496 573h0M496 587h0M496 598h0M496 613h0M484 610h0M460 600h0M460 623h0M581 528h0M569 574h0M569 586h0M581 586h0M569 599h0M581 617h0M594 609h0M606 622h0M557 624h0M569 627h0M581 630h0M678 520h0M678 589h0M678 615h0M666 603h0M654 606h0M654 621h0M691 636h0M411 583h0M411 596h0M424 573h0M424 591h0M436 621h0M411 658h0M411 679h0M411 694h0M411 621h0M411 609h0M411 638h0M411 706h0M424 748h0M424 727h0M424 801h0M424 650h0M424 784h0M424 763h0M424 672h0M424 691h0M424 661h0M424 704h0M424 813h0M424 636h0M424 825h0M436 643h0M436 794h0M436 780h0M436 710h0M436 662h0M436 758h0M436 724h0M436 688h0M436 807h0M436 745h0M436 825h0M448 744h0M448 786h0M448 808h0M448 673h0M448 709h0M448 773h0M448 688h0M448 728h0M448 759h0M448 659h0M448 825h0M460 802h0M460 761h0M460 779h0M460 652h0M460 677h0M460 695h0M460 723h0M460 639h0M460 712h0M460 663h0M460 746h0M460 825h0M472 741h0M472 663h0M472 767h0M472 700h0M472 647h0M472 674h0M472 795h0M472 716h0M472 756h0M472 689h0M472 811h0M472 825h0M484 632h0M484 744h0M484 711h0M484 658h0M484 699h0M484 682h0M484 671h0M484 801h0M484 621h0M484 723h0M484 760h0M484 814h0M484 825h0M496 676h0M496 787h0M496 699h0M496 664h0M496 688h0M496 741h0M496 770h0M496 807h0M496 638h0M496 730h0M496 758h0M496 649h0M496 712h0M496 825h0M509 674h0M509 701h0M509 775h0M509 786h0M509 717h0M509 757h0M509 808h0M509 738h0M509 645h0M509 657h0M509 689h0M509 825h0M521 693h0M521 682h0M521 746h0M521 663h0M521 802h0M521 778h0M521 817h0M521 644h0M521 728h0M521 758h0M521 705h0M521 789h0M533 766h0M533 817h0M533 668h0M533 650h0M533 706h0M533 722h0M533 789h0M533 695h0M533 744h0M533 679h0M533 625h0M533 636h0M533 801h0M545 767h0M545 736h0M545 781h0M545 665h0M545 697h0M545 748h0M545 802h0M545 716h0M545 813h0M545 825h0M557 804h0M557 782h0M557 679h0M557 666h0M557 766h0M557 707h0M557 723h0M557 734h0M557 817h0M557 751h0M557 695h0M569 649h0M569 688h0M569 767h0M569 731h0M569 790h0M569 818h0M569 705h0M569 748h0M569 778h0M569 673h0M569 803h0M581 801h0M581 743h0M581 815h0M581 768h0M581 708h0M581 790h0M581 755h0M581 725h0M581 683h0M594 728h0M594 708h0M594 813h0M594 670h0M594 659h0M594 683h0M594 748h0M594 761h0M594 776h0M594 694h0M594 825h0M606 789h0M606 698h0M606 716h0M606 771h0M606 809h0M606 684h0M606 756h0M606 669h0M606 742h0M606 727h0M606 825h0M618 779h0M618 754h0M618 659h0M618 723h0M618 687h0M618 710h0M618 739h0M618 698h0M618 765h0M618 809h0M618 672h0M618 790h0M618 825h0M630 764h0M630 812h0M630 723h0M630 794h0M630 742h0M630 753h0M630 776h0M630 825h0M642 732h0M642 761h0M642 802h0M642 743h0M642 646h0M642 717h0M642 786h0M642 813h0M642 701h0M642 671h0M642 825h0M654 804h0M654 767h0M654 695h0M654 707h0M654 785h0M654 738h0M654 660h0M654 749h0M654 825h0M666 788h0M666 772h0M666 716h0M666 758h0M666 728h0M666 813h0M666 800h0M666 742h0M666 825h0M678 803h0M678 781h0M678 817h0M678 750h0M678 735h0M678 706h0M678 765h0M678 723h0M691 782h0M691 731h0M691 718h0M691 747h0M691 763h0M691 796h0M691 825h0"/>
<path d="M424 460h0M521 601h0M496 603h0M484 616h0M569 574h0M569 627h0M678 589h0M411 601h0M424 578h0M436 626h0M411 659h0M411 686h0M411 631h0M411 699h0M411 645h0M411 617h0M424 743h0M424 808h0M424 722h0M424 795h0M424 757h0M424 776h0M424 646h0M424 696h0M424 662h0M424 708h0M424 685h0M424 825h0M436 642h0M436 751h0M436 782h0M436 716h0M436 662h0M436 732h0M436 703h0M436 766h0M436 814h0M436 684h0M436 799h0M436 825h0M448 735h0M448 800h0M448 815h0M448 774h0M448 748h0M448 689h0M448 672h0M448 761h0M448 785h0M448 703h0M448 661h0M448 720h0M460 627h0M460 688h0M460 668h0M460 762h0M460 644h0M460 789h0M460 733h0M460 717h0M460 807h0M460 701h0M460 773h0M460 825h0M472 703h0M472 770h0M472 644h0M472 759h0M472 671h0M472 684h0M472 720h0M472 744h0M472 799h0M472 658h0M472 825h0M484 649h0M484 744h0M484 718h0M484 681h0M484 663h0M484 638h0M484 805h0M484 706h0M484 761h0M484 692h0M484 825h0M496 668h0M496 751h0M496 762h0M496 694h0M496 680h0M496 706h0M496 638h0M496 728h0M496 808h0M496 656h0M496 740h0M496 825h0M509 693h0M509 762h0M509 749h0M509 790h0M509 808h0M509 719h0M509 731h0M509 776h0M509 668h0M509 705h0M509 682h0M509 638h0M509 653h0M509 825h0M521 676h0M521 702h0M521 663h0M521 753h0M521 737h0M521 687h0M521 811h0M521 795h0M521 772h0M521 647h0M521 726h0M521 783h0M521 714h0M521 825h0M533 810h0M533 676h0M533 708h0M533 660h0M533 759h0M533 649h0M533 690h0M533 735h0M533 792h0M533 722h0M533 781h0M533 637h0M533 746h0M533 825h0M545 779h0M545 753h0M545 768h0M545 658h0M545 734h0M545 812h0M545 792h0M545 704h0M545 717h0M545 673h0M545 693h0M545 825h0M557 806h0M557 712h0M557 790h0M557 675h0M557 771h0M557 741h0M557 754h0M557 700h0M557 663h0M557 728h0M557 825h0M569 653h0M569 686h0M569 729h0M569 786h0M569 709h0M569 744h0M569 770h0M569 813h0M569 641h0M569 825h0M581 742h0M581 807h0M581 765h0M581 787h0M581 723h0M581 685h0M581 753h0M581 825h0M594 734h0M594 706h0M594 804h0M594 717h0M594 652h0M594 686h0M594 747h0M594 663h0M594 770h0M594 785h0M594 825h0M606 695h0M606 684h0M606 774h0M606 724h0M606 670h0M606 735h0M606 747h0M606 709h0M606 790h0M606 801h0M606 825h0M618 681h0M618 778h0M618 666h0M618 723h0M618 737h0M618 655h0M618 764h0M618 812h0M618 695h0M618 709h0M618 799h0M618 825h0M630 761h0M630 742h0M630 805h0M630 779h0M630 817h0M630 719h0M630 790h0M642 796h0M642 745h0M642 716h0M642 650h0M642 679h0M642 825h0M654 685h0M654 781h0M654 737h0M654 665h0M654 712h0M654 798h0M654 811h0M654 825h0M666 762h0M666 773h0M666 716h0M666 737h0M666 806h0M666 790h0M666 825h0M678 800h0M678 775h0M678 758h0M678 747h0M678 706h0M678 718h0M678 787h0M678 825h0M691 785h0M691 732h0M691 713h0M691 773h0M691 752h0M691 825h0"/>
<path d="M411 601h0M411 649h0M411 668h0M411 687h0M411 628h0M411 705h0M424 808h0M424 740h0M424 790h0M424 768h0M424 656h0M424 721h0M424 752h0M424 694h0M424 825h0M436 755h0M436 789h0M436 731h0M436 641h0M436 698h0M436 626h0M436 804h0M436 680h0M436 773h0M436 658h0M436 817h0M436 743h0M436 718h0M448 801h0M448 790h0M448 765h0M448 779h0M448 743h0M448 812h0M448 728h0M448 691h0M448 702h0M448 680h0M448 665h0M448 825h0M460 632h0M460 691h0M460 647h0M460 760h0M460 730h0M460 658h0M460 795h0M460 704h0M460 781h0M460 680h0M460 715h0M460 825h0M472 695h0M472 644h0M472 661h0M472 707h0M472 755h0M472 725h0M472 771h0M472 672h0M472 809h0M472 825h0M484 658h0M484 718h0M484 749h0M484 618h0M484 736h0M484 689h0M484 675h0M484 802h0M484 634h0M484 766h0M484 814h0M484 825h0M496 666h0M496 677h0M496 697h0M496 639h0M496 743h0M496 771h0M496 726h0M496 801h0M496 710h0M496 758h0M496 825h0M509 752h0M509 814h0M509 699h0M509 764h0M509 734h0M509 794h0M509 668h0M509 777h0M509 719h0M509 641h0M509 682h0M509 653h0M509 825h0M521 752h0M521 671h0M521 654h0M521 739h0M521 794h0M521 779h0M521 817h0M521 726h0M521 690h0M521 712h0M521 806h0M521 765h0M521 701h0M533 708h0M533 810h0M533 666h0M533 691h0M533 798h0M533 752h0M533 768h0M533 734h0M533 642h0M533 781h0M533 825h0M545 777h0M545 745h0M545 760h0M545 666h0M545 792h0M545 734h0M545 811h0M545 825h0M557 808h0M557 775h0M557 676h0M557 794h0M557 760h0M557 735h0M557 709h0M557 664h0M557 694h0M557 749h0M557 825h0M569 692h0M569 630h0M569 679h0M569 658h0M569 750h0M569 722h0M569 781h0M569 711h0M569 762h0M569 809h0M569 825h0M581 816h0M581 804h0M581 733h0M581 773h0M581 793h0M581 744h0M581 759h0M581 679h0M581 693h0M581 714h0M594 710h0M594 750h0M594 734h0M594 667h0M594 814h0M594 690h0M594 769h0M594 656h0M594 784h0M594 678h0M594 825h0M606 685h0M606 696h0M606 724h0M606 670h0M606 754h0M606 770h0M606 782h0M606 799h0M606 825h0M618 770h0M618 683h0M618 741h0M618 720h0M618 782h0M618 660h0M618 814h0M618 698h0M618 757h0M618 825h0M630 771h0M630 814h0M630 745h0M630 714h0M630 796h0M630 725h0M630 758h0M630 825h0M642 739h0M642 752h0M642 825h0M654 777h0M654 704h0M654 734h0M654 658h0M654 792h0M654 825h0M666 780h0M666 711h0M666 760h0M666 798h0M666 825h0M678 759h0M678 797h0M678 784h0M678 698h0M678 743h0M678 825h0M691 742h0M691 726h0M691 785h0M691 755h0M691 772h0M691 825h0"/>
<path d="M411 649h0M411 680h0M411 605h0M411 668h0M411 626h0M411 693h0M424 810h0M424 739h0M424 785h0M424 750h0M424 665h0M424 768h0M424 825h0M436 760h0M436 734h0M436 634h0M436 749h0M436 784h0M436 706h0M436 804h0M436 685h0M436 771h0M436 817h0M448 766h0M448 795h0M448 782h0M448 736h0M448 815h0M448 697h0M448 748h0M448 718h0M448 677h0M448 659h0M460 632h0M460 697h0M460 649h0M460 684h0M460 770h0M460 667h0M460 825h0M472 645h0M472 664h0M472 755h0M472 696h0M472 776h0M472 725h0M472 678h0M472 707h0M472 825h0M484 664h0M484 739h0M484 686h0M484 620h0M484 709h0M484 725h0M484 802h0M484 640h0M484 825h0M496 675h0M496 688h0M496 742h0M496 765h0M496 634h0M496 663h0M496 648h0M496 700h0M496 716h0M496 731h0M496 825h0M509 761h0M509 807h0M509 773h0M509 695h0M509 737h0M509 791h0M509 665h0M509 749h0M509 715h0M509 639h0M509 681h0M509 825h0M521 753h0M521 741h0M521 782h0M521 676h0M521 797h0M521 770h0M521 653h0M521 808h0M521 730h0M521 688h0M521 719h0M521 825h0M533 813h0M533 666h0M533 768h0M533 789h0M533 752h0M533 703h0M533 728h0M533 739h0M533 692h0M533 716h0M533 639h0M533 802h0M533 825h0M545 778h0M545 796h0M545 745h0M545 811h0M545 759h0M545 724h0M545 658h0M545 825h0M557 802h0M557 780h0M557 816h0M557 745h0M557 732h0M557 683h0M557 702h0M557 656h0M557 716h0M557 756h0M557 670h0M569 695h0M569 637h0M569 729h0M569 743h0M569 650h0M569 679h0M569 715h0M569 825h0M581 770h0M581 808h0M581 791h0M581 737h0M581 752h0M581 678h0M581 714h0M581 825h0M594 708h0M594 728h0M594 746h0M594 667h0M594 804h0M594 695h0M594 681h0M594 825h0M606 695h0M606 706h0M606 671h0M606 768h0M606 684h0M606 748h0M606 723h0M606 791h0M606 825h0M618 778h0M618 685h0M618 740h0M618 720h0M618 762h0M618 673h0M618 704h0M618 789h0M618 825h0M630 761h0M630 780h0M630 801h0M630 750h0M630 724h0M630 825h0M642 825h0M654 778h0M654 740h0M654 709h0M654 790h0M654 825h0M666 780h0M666 798h0M666 825h0M678 783h0M678 799h0M678 755h0M678 825h0M691 739h0M691 772h0M691 750h0M691 825h0"/>
<path d="M411 653h0M411 605h0M411 689h0M411 622h0M411 666h0M424 810h0M424 738h0M424 789h0M424 825h0M436 750h0M436 638h0M436 730h0M436 779h0M436 626h0M436 704h0M436 691h0M436 799h0M436 825h0M448 799h0M448 737h0M448 769h0M448 757h0M448 817h0M448 783h0M448 703h0M448 689h0M448 672h0M460 627h0M460 642h0M460 696h0M460 685h0M460 653h0M460 665h0M460 825h0M472 641h0M472 758h0M472 697h0M472 665h0M472 686h0M472 775h0M472 717h0M472 825h0M484 683h0M484 736h0M484 654h0M484 717h0M484 699h0M484 665h0M484 622h0M484 635h0M484 748h0M484 825h0M496 668h0M496 683h0M496 770h0M496 703h0M496 726h0M496 738h0M496 643h0M496 825h0M509 808h0M509 758h0M509 703h0M509 736h0M509 789h0M509 664h0M509 773h0M509 825h0M521 745h0M521 776h0M521 800h0M521 667h0M521 653h0M521 760h0M521 686h0M521 722h0M521 825h0M533 811h0M533 669h0M533 760h0M533 799h0M533 656h0M533 773h0M533 696h0M533 744h0M533 726h0M533 825h0M545 781h0M545 793h0M545 748h0M545 808h0M545 770h0M545 737h0M545 726h0M545 825h0M557 812h0M557 786h0M557 737h0M557 750h0M557 797h0M557 766h0M557 719h0M557 682h0M557 669h0M557 825h0M569 694h0M569 633h0M569 746h0M569 653h0M569 682h0M569 723h0M569 825h0M581 777h0M581 800h0M581 813h0M581 734h0M581 788h0M581 760h0M581 825h0M594 716h0M594 701h0M594 748h0M594 673h0M594 727h0M594 661h0M594 825h0M606 691h0M606 715h0M606 678h0M606 664h0M606 764h0M606 733h0M606 778h0M606 825h0M618 779h0M618 687h0M618 727h0M618 741h0M618 711h0M618 663h0M618 699h0M618 825h0M630 768h0M630 780h0M630 755h0M630 791h0M630 803h0M630 825h0M642 825h0M654 741h0M654 794h0M654 782h0M654 825h0M666 777h0M666 789h0M666 825h0M678 791h0M678 763h0M678 825h0M691 747h0M691 768h0M691 825h0"/>
<path d="M411 601h0M411 691h0M411 666h0M411 650h0M411 620h0M411 680h0M424 781h0M424 731h0M424 802h0M424 742h0M424 825h0M436 754h0M436 776h0M436 741h0M436 825h0M448 802h0M448 737h0M448 761h0M448 782h0M448 813h0M448 748h0M448 686h0M448 825h0M460 638h0M460 693h0M460 652h0M460 625h0M460 825h0M472 753h0M472 706h0M472 651h0M472 693h0M472 725h0M472 771h0M472 666h0M472 677h0M472 825h0M484 736h0M484 660h0M484 683h0M484 710h0M484 721h0M484 699h0M484 825h0M496 672h0M496 660h0M496 726h0M496 768h0M496 825h0M509 814h0M509 760h0M509 696h0M509 728h0M509 795h0M509 744h0M509 784h0M509 712h0M509 668h0M509 825h0M521 749h0M521 781h0M521 798h0M521 769h0M521 677h0M521 648h0M521 737h0M521 695h0M521 825h0M533 812h0M533 769h0M533 741h0M533 667h0M533 757h0M533 647h0M533 691h0M533 793h0M533 782h0M533 825h0M545 787h0M545 744h0M545 771h0M545 812h0M545 825h0M557 804h0M557 743h0M557 755h0M557 816h0M557 785h0M557 772h0M557 732h0M569 689h0M569 747h0M569 634h0M569 648h0M569 676h0M569 725h0M569 702h0M569 713h0M569 825h0M581 782h0M581 805h0M581 736h0M581 793h0M581 816h0M581 759h0M594 708h0M594 719h0M594 742h0M594 658h0M594 670h0M594 692h0M594 825h0M606 692h0M606 705h0M606 672h0M606 722h0M606 788h0M606 825h0M618 770h0M618 685h0M618 729h0M618 708h0M618 825h0M630 768h0M630 752h0M630 825h0M642 825h0M654 825h0M666 776h0M666 825h0M678 825h0M691 739h0M691 751h0M691 825h0"/>
<path d="M411 599h0M411 690h0M411 644h0M411 664h0M411 629h0M411 679h0M411 618h0M424 790h0M424 807h0M424 737h0M424 825h0M436 784h0M436 772h0M436 825h0M448 736h0M448 801h0M448 780h0M448 761h0M448 813h0M448 750h0M448 825h0M460 628h0M460 692h0M460 648h0M460 825h0M472 761h0M472 659h0M472 692h0M472 825h0M484 658h0M484 673h0M484 825h0M496 667h0M496 766h0M496 734h0M496 825h0M509 815h0M509 804h0M509 760h0M509 700h0M509 728h0M509 791h0M509 748h0M509 780h0M521 751h0M521 802h0M521 785h0M521 739h0M521 675h0M521 769h0M521 825h0M533 809h0M533 766h0M533 671h0M533 745h0M533 648h0M533 689h0M533 825h0M545 777h0M545 761h0M545 814h0M545 790h0M545 825h0M557 812h0M557 794h0M557 776h0M557 745h0M557 734h0M557 763h0M557 825h0M569 688h0M569 677h0M569 722h0M569 655h0M569 749h0M569 639h0M569 825h0M581 801h0M581 783h0M581 743h0M581 731h0M581 772h0M581 825h0M594 718h0M594 750h0M594 732h0M594 705h0M594 825h0M606 714h0M606 691h0M606 727h0M606 788h0M606 825h0M618 771h0M618 681h0M618 694h0M618 712h0M618 825h0M630 772h0M630 756h0M630 825h0M666 774h0M678 825h0"/>
<path d="M411 608h0M411 689h0M411 665h0M411 630h0M411 651h0M424 810h0M424 786h0M424 745h0M424 825h0M436 825h0M448 806h0M448 734h0M448 784h0M448 771h0M448 760h0M448 745h0M448 825h0M460 630h0M460 693h0M460 652h0M460 825h0M472 655h0M472 757h0M472 825h0M484 676h0M484 659h0M484 825h0M496 665h0M496 825h0M509 756h0M509 814h0M509 767h0M509 795h0M509 732h0M509 782h0M509 710h0M509 825h0M521 742h0M521 781h0M521 795h0M521 755h0M521 669h0M521 682h0M521 825h0M533 816h0M533 769h0M533 804h0M533 671h0M533 738h0M533 756h0M533 694h0M545 773h0M545 784h0M545 762h0M545 825h0M557 804h0M557 783h0M557 815h0M557 743h0M557 725h0M557 762h0M569 652h0M569 640h0M569 683h0M569 825h0M581 743h0M581 795h0M581 778h0M581 825h0M594 715h0M594 747h0M594 825h0M606 701h0M606 682h0M606 732h0M606 721h0M606 825h0M618 778h0M618 685h0M618 702h0M618 825h0M630 769h0M666 782h0"/>
<path d="M411 695h0M411 669h0M411 602h0M411 684h0M411 658h0M411 645h0M424 811h0M424 780h0M424 744h0M424 825h0M436 825h0M448 803h0M448 771h0M448 739h0M448 782h0M448 759h0M448 814h0M448 825h0M460 702h0M460 686h0M460 642h0M460 825h0M472 661h0M472 825h0M484 825h0M496 670h0M496 825h0M509 754h0M509 817h0M509 768h0M509 796h0M509 781h0M509 701h0M521 746h0M521 779h0M521 794h0M521 759h0M521 825h0M533 813h0M533 764h0M533 671h0M533 802h0M533 752h0M533 776h0M533 825h0M545 769h0M545 753h0M545 825h0M557 776h0M557 789h0M557 816h0M557 801h0M569 825h0M581 737h0M581 787h0M581 753h0M581 825h0M594 714h0M594 825h0M606 693h0M606 825h0M618 769h0M618 685h0M618 825h0"/>
<path d="M411 690h0M411 606h0M424 806h0M424 785h0M424 825h0M436 825h0M448 803h0M448 776h0M448 735h0M448 765h0M448 825h0M460 634h0M460 825h0M472 657h0M472 825h0M484 825h0M496 825h0M509 762h0M509 815h0M509 746h0M509 798h0M509 779h0M521 747h0M521 775h0M521 758h0M521 802h0M521 790h0M521 825h0M533 814h0M533 759h0M533 661h0M533 771h0M533 825h0M545 772h0M545 752h0M545 825h0M557 777h0M557 813h0M557 802h0M557 825h0M569 825h0M581 742h0M581 825h0M594 720h0M594 825h0M606 700h0M606 825h0M618 825h0"/>
<path d="M411 686h0M411 697h0M424 805h0M436 825h0M448 804h0M448 793h0M448 778h0M448 744h0M448 825h0M460 640h0M509 752h0M509 811h0M509 763h0M509 825h0M521 741h0M521 779h0M521 754h0M521 792h0M521 825h0M533 816h0M533 805h0M533 760h0M545 762h0M557 782h0M557 825h0M569 825h0M581 825h0M594 719h0M606 697h0"/>
<path d="M411 689h0M424 810h0M436 825h0M448 806h0M448 774h0M448 745h0M448 825h0M509 757h0M509 816h0M509 805h0M521 740h0M521 758h0M521 825h0M533 806h0M533 825h0M557 825h0M581 825h0M594 724h0M606 700h0"/>
<path d="M411 683h0M448 803h0M448 772h0M448 738h0M448 825h0M509 759h0M509 813h0M509 825h0M521 742h0M533 807h0M533 825h0M557 825h0M581 825h0M594 719h0"/>
<path d="M411 681h0M448 811h0M448 777h0M509 756h0M509 825h0M521 743h0M533 816h0M533 805h0M557 825h0"/>
<path d="M448 806h0M448 779h0M509 756h0M521 745h0M533 809h0M557 825h0"/>
<path d="M448 806h0M521 739h0M533 808h0"/>
<path d="M448 811h0M521 740h0M533 811h0"/>
<path d="M448 801h0M521 748h0"/>
<path d="M448 808h0M521 738h0"/>
</g></g>
<line class="f" x1="205.7" y1="384.8" x2="345.3" y2="391.6"/>
<g clip-path="url(#c12)">
<rect class="s" x="362.4" y="350.5" width="5.2" height="64.7" rx="2.6"/>
<rect class="s" x="402.9" y="347.6" width="5.2" height="60.0" rx="2.6"/>
<rect class="s" x="459.6" y="347.6" width="5.2" height="67.5" rx="2.6"/>
<g class="p" transform="scale(.5)">
<path d="M738 460h0M738 490h0M738 516h0M738 527h0M900 513h0M916 528h0M965 520h0M876 539h0M868 555h0M916 556h0M868 572h0M884 572h0M852 587h0M876 593h0M900 588h0M924 574h0M941 574h0M924 590h0M949 584h0M965 599h0M949 603h0M941 610h0M908 601h0M892 597h0M860 604h0M852 615h0M860 623h0M884 630h0M738 578h0M738 591h0M730 600h0M730 614h0M738 628h0M762 625h0M779 617h0M811 600h0M803 630h0M819 621h0M916 633h0M924 625h0M957 630h0M730 689h0M730 664h0M730 637h0M730 676h0M730 703h0M730 648h0M762 770h0M908 801h0M957 738h0M924 797h0M933 671h0M900 692h0M892 778h0M941 798h0M933 785h0M860 783h0M868 759h0M779 772h0M941 778h0M884 748h0M827 776h0M771 807h0M941 724h0M924 772h0M746 698h0M989 790h0M965 801h0M884 816h0M795 794h0M876 780h0M900 808h0M779 734h0M868 771h0M803 745h0M795 767h0M835 756h0M916 738h0M811 779h0M892 795h0M916 691h0M892 758h0M868 720h0M933 765h0M787 809h0M835 716h0M876 802h0M762 756h0M787 703h0M811 798h0M876 698h0M924 713h0M973 785h0M973 715h0M997 811h0M762 789h0M827 800h0M965 758h0M852 731h0M754 737h0M811 812h0M957 775h0M989 666h0M754 800h0M852 801h0M754 811h0M924 749h0M852 716h0M852 757h0M787 651h0M981 748h0M843 770h0M908 775h0M803 787h0M997 699h0M941 706h0M933 809h0M827 734h0M787 755h0M884 691h0M860 639h0M973 771h0M973 697h0M771 779h0M852 814h0M868 741h0M835 786h0M924 701h0M827 813h0M843 698h0M916 790h0M941 637h0M997 768h0M908 763h0M949 787h0M746 745h0M738 812h0M949 760h0M803 651h0M973 811h0M852 745h0M876 728h0M795 689h0M908 680h0M973 729h0M843 725h0M997 798h0M843 807h0M868 816h0M795 820h0M819 786h0M787 785h0M803 757h0M819 764h0M811 675h0M811 703h0M819 749h0M892 704h0M900 787h0M924 647h0M989 638h0M762 680h0M981 798h0M746 770h0M795 677h0M997 682h0M908 718h0M746 722h0M779 681h0M787 637h0M941 694h0M941 740h0M908 619h0M884 770h0M738 734h0M779 820h0M884 737h0M868 650h0M949 814h0M795 731h0M738 784h0M843 659h0M860 697h0M949 748h0M916 820h0M860 674h0M811 731h0M957 726h0M957 704h0M738 800h0M746 685h0M771 724h0M989 733h0M852 790h0M916 808h0M811 662h0M957 685h0M876 709h0M827 658h0M835 705h0M803 721h0M852 776h0M819 691h0M835 650h0M957 794h0M803 696h0M989 776h0M916 673h0M738 757h0M916 726h0M884 659h0M949 678h0M819 714h0M949 713h0M900 739h0M892 622h0M933 683h0M771 691h0M997 749h0M771 743h0M933 731h0M868 630h0M795 713h0M843 820h0M746 651h0M981 704h0M892 681h0M989 722h0M779 669h0M868 687h0M900 819h0M908 751h0M771 709h0M981 820h0M779 797h0M835 686h0M957 666h0M819 649h0M892 652h0M876 640h0M754 643h0M965 820h0M892 668h0M884 788h0M754 781h0M852 686h0M989 760h0M941 650h0M738 713h0M868 790h0M941 663h0M787 744h0M787 722h0M827 723h0M811 640h0M803 805h0M924 664h0M730 825h0M746 825h0M762 825h0M811 825h0M827 825h0M860 825h0M876 825h0M933 825h0M949 825h0M997 825h0"/>
<path d="M738 460h0M876 549h0M884 572h0M949 584h0M941 616h0M933 605h0M908 605h0M852 621h0M730 583h0M730 596h0M779 627h0M811 610h0M811 634h0M819 626h0M924 625h0M730 696h0M730 632h0M730 665h0M730 680h0M730 644h0M924 791h0M868 769h0M900 796h0M892 772h0M924 807h0M827 780h0M860 785h0M933 678h0M941 800h0M884 762h0M803 765h0M819 795h0M900 784h0M924 774h0M965 627h0M787 738h0M827 715h0M738 708h0M941 781h0M989 788h0M795 750h0M884 792h0M795 796h0M900 809h0M835 802h0M754 790h0M843 771h0M779 807h0M884 748h0M868 797h0M819 809h0M860 714h0M835 750h0M916 733h0M811 776h0M876 784h0M933 759h0M916 798h0M933 662h0M916 690h0M957 732h0M843 818h0M762 773h0M957 801h0M965 794h0M762 752h0M949 789h0M795 814h0M884 818h0M997 815h0M981 699h0M957 767h0M738 750h0M860 813h0M827 819h0M973 687h0M933 725h0M779 775h0M949 702h0M819 764h0M795 704h0M852 759h0M900 758h0M819 744h0M981 797h0M852 797h0M916 761h0M771 800h0M868 747h0M811 698h0M754 742h0M771 815h0M779 787h0M908 775h0M908 697h0M876 720h0M795 781h0M989 769h0M965 814h0M941 767h0M746 803h0M916 635h0M981 726h0M868 733h0M933 736h0M779 709h0M973 783h0M803 788h0M965 752h0M843 702h0M924 747h0M989 686h0M843 791h0M949 817h0M989 659h0M924 707h0M843 717h0M803 735h0M908 712h0M981 756h0M941 670h0M860 696h0M997 777h0M965 714h0M852 739h0M738 795h0M787 760h0M884 805h0M738 769h0M949 745h0M908 624h0M762 732h0M795 678h0M819 675h0M835 735h0M989 742h0M868 680h0M916 784h0M811 728h0M738 729h0M852 726h0M779 689h0M779 727h0M892 697h0M916 820h0M779 655h0M835 656h0M803 666h0M933 700h0M811 753h0M892 741h0M933 649h0M908 723h0M795 720h0M803 644h0M997 796h0M949 757h0M811 817h0M771 620h0M884 627h0M997 754h0M973 772h0M779 753h0M876 688h0M884 730h0M933 814h0M803 804h0M892 618h0M892 684h0M981 817h0M843 680h0M843 691h0M908 747h0M868 704h0M827 649h0M924 718h0M949 660h0M997 731h0M811 651h0M827 668h0M843 668h0M762 688h0M762 809h0M746 637h0M852 778h0M941 715h0M941 686h0M827 726h0M811 687h0M803 713h0M819 708h0M924 669h0M916 678h0M916 651h0M730 825h0M746 825h0M762 825h0M779 825h0M795 825h0M852 825h0M868 825h0M892 825h0M933 825h0M957 825h0M973 825h0M989 825h0"/>
<path d="M957 589h0M730 600h0M811 634h0M933 626h0M730 656h0M730 632h0M730 672h0M730 691h0M730 706h0M900 796h0M827 774h0M924 784h0M941 795h0M868 763h0M916 775h0M924 796h0M795 770h0M803 801h0M835 805h0M876 788h0M779 808h0M852 780h0M762 795h0M819 797h0M868 798h0M787 748h0M916 738h0M819 811h0M843 773h0M892 742h0M924 755h0M892 787h0M811 790h0M827 752h0M892 811h0M843 756h0M835 816h0M965 804h0M876 770h0M803 763h0M835 785h0M795 818h0M860 717h0M949 779h0M933 768h0M981 699h0M860 771h0M819 783h0M738 745h0M754 752h0M957 732h0M941 730h0M900 774h0M949 766h0M949 712h0M795 700h0M843 796h0M852 811h0M803 778h0M965 769h0M989 782h0M787 800h0M819 742h0M876 816h0M989 802h0M924 808h0M787 789h0M957 789h0M868 781h0M949 698h0M933 749h0M754 787h0M795 755h0M787 707h0M819 765h0M860 732h0M916 694h0M860 818h0M908 763h0M771 770h0M876 718h0M843 745h0M811 733h0M852 762h0M811 697h0M868 746h0M900 697h0M973 813h0M795 732h0M924 716h0M908 719h0M924 634h0M738 805h0M941 757h0M892 759h0M738 679h0M876 739h0M762 742h0M852 739h0M908 806h0M957 743h0M860 791h0M754 774h0M884 779h0M989 724h0M884 796h0M949 802h0M746 714h0M965 782h0M771 752h0M941 684h0M924 820h0M787 690h0M835 730h0M965 753h0M771 735h0M819 721h0M803 680h0M949 819h0M916 708h0M811 755h0M738 792h0M989 770h0M973 724h0M876 805h0M908 786h0M779 763h0M738 763h0M933 737h0M908 820h0M884 700h0M779 782h0M835 698h0M860 755h0M754 806h0M981 790h0M787 652h0M981 758h0M852 628h0M835 719h0M900 712h0M933 697h0M876 756h0M884 749h0M860 704h0M811 623h0M827 706h0M803 718h0M989 738h0M884 623h0M924 731h0M746 727h0M803 649h0M771 713h0M762 816h0M803 746h0M981 746h0M933 710h0M827 680h0M779 726h0M843 690h0M997 793h0M868 697h0M860 679h0M835 766h0M941 668h0M941 812h0M811 668h0M819 690h0M924 681h0M924 670h0M924 650h0M933 641h0M933 802h0M933 658h0M730 825h0M746 825h0M771 825h0M787 825h0M803 825h0M819 825h0M843 825h0M868 825h0M884 825h0M965 825h0M981 825h0M997 825h0"/>
<path d="M933 626h0M730 633h0M730 678h0M730 699h0M730 658h0M835 774h0M900 791h0M924 789h0M933 779h0M860 764h0M852 783h0M811 803h0M924 770h0M779 815h0M868 803h0M795 765h0M933 797h0M827 805h0M949 794h0M908 780h0M933 757h0M795 817h0M965 798h0M908 733h0M884 809h0M868 718h0M795 745h0M884 789h0M924 737h0M843 814h0M787 772h0M868 774h0M819 781h0M827 744h0M787 753h0M795 806h0M916 802h0M803 793h0M779 742h0M876 796h0M762 795h0M884 741h0M860 792h0M941 722h0M843 759h0M957 731h0M916 760h0M852 712h0M803 706h0M811 767h0M973 700h0M795 698h0M892 748h0M876 767h0M892 780h0M803 776h0M900 773h0M949 770h0M762 758h0M819 795h0M827 763h0M965 783h0M852 752h0M860 728h0M746 753h0M892 816h0M787 791h0M803 755h0M924 813h0M989 774h0M819 814h0M771 780h0M973 773h0M843 740h0M795 733h0M916 640h0M924 690h0M981 784h0M811 732h0M876 781h0M892 798h0M835 793h0M884 760h0M957 810h0M746 769h0M746 742h0M997 788h0M852 803h0M876 751h0M779 703h0M908 812h0M860 818h0M908 722h0M762 773h0M738 802h0M973 754h0M949 741h0M900 702h0M916 748h0M771 808h0M787 680h0M811 743h0M900 762h0M738 692h0M941 695h0M827 716h0M965 761h0M949 817h0M989 726h0M924 722h0M876 710h0M941 787h0M981 693h0M738 786h0M957 753h0M941 750h0M876 733h0M819 752h0M754 783h0M771 732h0M843 696h0M989 800h0M908 709h0M860 694h0M771 751h0M973 811h0M860 705h0M754 726h0M981 709h0M924 633h0M835 727h0M941 807h0M941 734h0M819 682h0M965 722h0M957 706h0M941 683h0M941 667h0M795 722h0M795 784h0M819 723h0M811 695h0M811 631h0M811 668h0M803 675h0M803 686h0M803 659h0M819 703h0M924 677h0M924 659h0M933 641h0M933 705h0M933 743h0M933 652h0M916 667h0M730 825h0M746 825h0M762 825h0M787 825h0M803 825h0M819 825h0M835 825h0M852 825h0M868 825h0M884 825h0M900 825h0M916 825h0M933 825h0M957 825h0M973 825h0M989 825h0"/>
<path d="M933 616h0M730 635h0M730 677h0M730 692h0M730 665h0M730 649h0M730 703h0M868 764h0M933 781h0M843 781h0M916 771h0M827 770h0M900 789h0M811 796h0M916 795h0M827 811h0M860 783h0M916 728h0M803 809h0M973 799h0M868 805h0M795 765h0M884 810h0M892 796h0M819 746h0M884 782h0M795 753h0M762 792h0M941 729h0M941 797h0M811 780h0M852 775h0M843 809h0M795 820h0M827 782h0M795 776h0M924 802h0M779 808h0M852 761h0M754 800h0M884 741h0M860 713h0M811 766h0M860 733h0M957 797h0M835 749h0M900 812h0M949 787h0M738 748h0M933 752h0M827 800h0M860 798h0M924 735h0M787 788h0M795 703h0M892 754h0M892 772h0M924 746h0M916 760h0M852 790h0M795 795h0M908 805h0M852 815h0M965 807h0M762 752h0M965 767h0M843 742h0M965 784h0M876 757h0M860 752h0M811 732h0M827 739h0M876 793h0M795 739h0M924 817h0M916 686h0M771 800h0M933 768h0M787 746h0M876 774h0M957 777h0M981 780h0M957 816h0M900 744h0M811 754h0M795 726h0M997 776h0M803 788h0M779 769h0M835 791h0M738 736h0M973 753h0M924 637h0M908 697h0M754 776h0M868 722h0M827 722h0M884 764h0M738 807h0M949 696h0M941 761h0M957 734h0M908 780h0M771 728h0M738 787h0M900 722h0M843 693h0M803 710h0M876 711h0M997 797h0M827 759h0M981 702h0M973 816h0M949 805h0M941 818h0M843 768h0M941 705h0M941 741h0M941 718h0M819 713h0M811 630h0M811 694h0M811 683h0M811 671h0M803 746h0M803 655h0M819 789h0M819 664h0M819 701h0M924 697h0M924 667h0M924 624h0M933 691h0M933 678h0M933 809h0M916 714h0M916 674h0M730 825h0M746 825h0M762 825h0M779 825h0M811 825h0M827 825h0M843 825h0M860 825h0M876 825h0M892 825h0M908 825h0M933 825h0M949 825h0M965 825h0M981 825h0M997 825h0"/>
<path d="M730 638h0M730 697h0M730 674h0M730 651h0M730 686h0M860 767h0M811 798h0M924 798h0M843 777h0M916 786h0M803 817h0M868 797h0M827 776h0M795 761h0M827 808h0M868 759h0M892 785h0M924 767h0M795 808h0M900 795h0M941 794h0M860 805h0M933 779h0M884 776h0M811 777h0M973 799h0M819 769h0M819 742h0M933 805h0M908 770h0M868 783h0M852 788h0M795 772h0M762 803h0M916 805h0M771 813h0M852 731h0M892 810h0M941 724h0M908 727h0M868 732h0M949 786h0M916 739h0M787 699h0M916 759h0M843 754h0M892 769h0M738 751h0M892 746h0M795 788h0M860 715h0M933 741h0M795 750h0M827 788h0M884 819h0M965 782h0M884 760h0M811 762h0M860 749h0M762 782h0M965 768h0M908 812h0M835 799h0M916 687h0M843 810h0M941 764h0M746 805h0M779 784h0M876 743h0M795 736h0M924 752h0M795 712h0M754 757h0M779 773h0M884 795h0M876 806h0M811 734h0M957 804h0M876 769h0M852 817h0M900 736h0M771 756h0M771 795h0M924 725h0M941 700h0M981 787h0M981 775h0M973 751h0M787 796h0M754 773h0M843 695h0M900 760h0M876 708h0M738 788h0M771 722h0M835 769h0M941 752h0M803 721h0M787 725h0M827 725h0M827 761h0M819 717h0M819 753h0M811 682h0M811 638h0M811 700h0M811 665h0M803 672h0M803 690h0M819 690h0M924 674h0M924 696h0M933 688h0M933 627h0M933 641h0M933 707h0M916 716h0M916 635h0M730 825h0M746 825h0M762 825h0M779 825h0M795 825h0M811 825h0M827 825h0M843 825h0M860 825h0M900 825h0M916 825h0M933 825h0M949 825h0M965 825h0M981 825h0M997 825h0"/>
<path d="M730 693h0M730 676h0M868 761h0M916 795h0M835 777h0M803 761h0M827 804h0M876 801h0M827 769h0M924 782h0M941 796h0M916 773h0M900 797h0M860 773h0M852 810h0M795 806h0M811 787h0M852 761h0M803 816h0M803 777h0M852 781h0M819 748h0M795 753h0M884 772h0M819 777h0M787 776h0M941 785h0M860 795h0M892 780h0M933 771h0M754 799h0M900 811h0M803 797h0M924 759h0M933 805h0M924 744h0M779 813h0M868 714h0M843 744h0M868 784h0M860 725h0M965 800h0M884 789h0M738 754h0M819 794h0M843 788h0M973 778h0M900 769h0M827 785h0M884 761h0M957 787h0M916 811h0M884 741h0M916 724h0M868 748h0M787 764h0M908 754h0M827 737h0M965 770h0M941 764h0M787 790h0M908 783h0M819 814h0M762 789h0M843 733h0M868 732h0M843 800h0M803 728h0M811 735h0M762 776h0M924 692h0M933 737h0M892 748h0M884 811h0M941 722h0M852 713h0M981 789h0M916 685h0M771 770h0M892 818h0M973 747h0M835 758h0M811 768h0M835 815h0M762 753h0M754 768h0M843 769h0M892 804h0M941 752h0M941 699h0M787 734h0M803 745h0M795 720h0M827 716h0M819 728h0M811 686h0M811 632h0M811 664h0M803 698h0M803 674h0M803 711h0M819 700h0M924 669h0M933 681h0M933 712h0M916 736h0M916 712h0M730 825h0M746 825h0M762 825h0M779 825h0M795 825h0M811 825h0M827 825h0M843 825h0M860 825h0M876 825h0M900 825h0M916 825h0M933 825h0M949 825h0M965 825h0M981 825h0M997 825h0"/>
<path d="M730 698h0M730 676h0M868 768h0M819 775h0M795 761h0M924 790h0M819 806h0M916 804h0M900 801h0M933 799h0M835 779h0M924 773h0M827 748h0M795 779h0M860 777h0M916 781h0M827 766h0M949 791h0M852 797h0M884 807h0M908 792h0M787 809h0M868 804h0M941 782h0M811 785h0M884 766h0M787 770h0M892 782h0M795 793h0M795 747h0M924 735h0M795 818h0M860 728h0M860 788h0M973 781h0M908 774h0M868 715h0M811 765h0M803 772h0M738 746h0M852 811h0M843 752h0M835 808h0M884 748h0M924 758h0M876 796h0M843 788h0M868 755h0M900 817h0M916 724h0M827 794h0M852 762h0M811 754h0M746 803h0M957 774h0M933 764h0M916 816h0M811 743h0M876 779h0M965 764h0M803 802h0M892 793h0M852 741h0M965 789h0M762 784h0M916 766h0M957 800h0M916 749h0M843 771h0M941 754h0M795 731h0M900 753h0M771 773h0M779 788h0M900 767h0M941 727h0M941 742h0M941 806h0M941 716h0M941 690h0M803 722h0M819 730h0M827 723h0M819 712h0M811 672h0M803 704h0M803 680h0M924 688h0M924 700h0M924 674h0M933 680h0M730 825h0M746 825h0M762 825h0M779 825h0M803 825h0M819 825h0M835 825h0M852 825h0M868 825h0M884 825h0M908 825h0M924 825h0M941 825h0M957 825h0M973 825h0M989 825h0"/>
<path d="M730 689h0M730 677h0M860 765h0M803 760h0M916 792h0M900 795h0M827 775h0M843 776h0M876 763h0M933 787h0M924 781h0M868 774h0M803 779h0M787 757h0M916 771h0M916 805h0M819 806h0M868 799h0M860 806h0M892 788h0M900 781h0M787 785h0M827 748h0M819 785h0M803 793h0M860 792h0M795 816h0M860 734h0M949 779h0M933 772h0M852 757h0M949 790h0M884 777h0M803 749h0M924 734h0M843 793h0M884 755h0M900 811h0M827 814h0M811 767h0M933 754h0M868 722h0M892 746h0M868 746h0M803 809h0M941 763h0M843 747h0M892 770h0M787 804h0M787 772h0M811 735h0M852 818h0M916 721h0M754 797h0M819 757h0M876 789h0M908 763h0M933 804h0M868 711h0M762 787h0M738 754h0M957 797h0M884 804h0M884 739h0M965 778h0M973 764h0M762 774h0M900 756h0M827 792h0M843 811h0M835 801h0M843 763h0M852 782h0M941 797h0M941 723h0M941 737h0M941 811h0M795 724h0M787 742h0M819 721h0M827 735h0M803 714h0M803 702h0M803 685h0M803 666h0M819 667h0M819 704h0M924 687h0M924 670h0M933 695h0M933 678h0M916 742h0M916 696h0M916 754h0M916 677h0M730 825h0M746 825h0M762 825h0M779 825h0M803 825h0M819 825h0M835 825h0M860 825h0M876 825h0M892 825h0M908 825h0M924 825h0M941 825h0M957 825h0M973 825h0M989 825h0"/>
<path d="M730 688h0M730 699h0M730 674h0M868 770h0M827 771h0M900 795h0M827 782h0M924 793h0M924 777h0M860 763h0M876 763h0M803 779h0M819 804h0M908 776h0M795 763h0M924 808h0M892 785h0M787 751h0M860 803h0M819 745h0M803 790h0M787 813h0M933 768h0M916 800h0M941 779h0M852 790h0M852 756h0M868 781h0M941 794h0M795 799h0M884 774h0M876 799h0M852 729h0M843 780h0M892 817h0M795 744h0M795 820h0M843 797h0M916 732h0M868 721h0M892 806h0M868 746h0M787 777h0M924 742h0M957 777h0M787 788h0M860 815h0M868 732h0M908 764h0M803 754h0M835 809h0M949 786h0M843 748h0M916 815h0M884 749h0M924 758h0M754 788h0M933 732h0M835 790h0M811 769h0M900 755h0M892 765h0M843 762h0M941 722h0M941 755h0M941 805h0M803 737h0M795 727h0M787 735h0M827 735h0M827 724h0M819 790h0M819 714h0M819 756h0M803 717h0M803 806h0M803 694h0M803 669h0M819 702h0M924 687h0M933 669h0M933 701h0M916 671h0M916 716h0M916 751h0M738 825h0M754 825h0M771 825h0M811 825h0M827 825h0M843 825h0M868 825h0M884 825h0M900 825h0M924 825h0M941 825h0M957 825h0M973 825h0M989 825h0"/>
<path d="M730 695h0M730 679h0M819 773h0M835 772h0M827 781h0M868 766h0M900 800h0M916 776h0M811 782h0M819 804h0M795 764h0M924 799h0M892 784h0M924 785h0M860 808h0M900 776h0M795 819h0M876 773h0M843 758h0M868 788h0M795 752h0M835 793h0M803 797h0M900 816h0M852 775h0M868 724h0M933 776h0M803 772h0M852 788h0M908 791h0M884 759h0M795 788h0M876 795h0M949 782h0M852 764h0M795 804h0M787 775h0M933 759h0M819 739h0M852 733h0M941 794h0M787 811h0M924 737h0M884 813h0M941 767h0M876 750h0M876 806h0M892 747h0M787 797h0M819 750h0M868 711h0M924 753h0M835 807h0M916 808h0M811 762h0M892 766h0M908 767h0M941 721h0M941 736h0M941 752h0M941 806h0M803 733h0M803 721h0M803 745h0M787 734h0M827 763h0M827 724h0M803 708h0M803 697h0M819 789h0M819 713h0M924 687h0M933 744h0M933 729h0M933 678h0M916 728h0M916 746h0M916 715h0M916 760h0M738 825h0M754 825h0M771 825h0M811 825h0M827 825h0M843 825h0M860 825h0M876 825h0M892 825h0M908 825h0M924 825h0M941 825h0M957 825h0M973 825h0M989 825h0"/>
<path d="M730 689h0M819 775h0M738 682h0M900 794h0M868 769h0M924 791h0M892 783h0M852 807h0M803 758h0M835 770h0M819 798h0M884 767h0M803 777h0M827 788h0M860 784h0M916 803h0M803 816h0M787 765h0M843 794h0M803 798h0M819 814h0M900 772h0M868 796h0M811 791h0M852 762h0M876 805h0M933 785h0M868 714h0M924 774h0M876 781h0M787 753h0M852 737h0M827 743h0M892 806h0M787 802h0M941 792h0M884 794h0M933 766h0M941 773h0M787 776h0M868 727h0M795 790h0M949 781h0M924 756h0M908 783h0M884 742h0M852 775h0M916 734h0M941 803h0M941 753h0M941 738h0M941 722h0M803 738h0M795 729h0M803 722h0M819 750h0M827 763h0M819 736h0M827 722h0M819 710h0M924 688h0M933 677h0M916 767h0M916 718h0M916 747h0M738 825h0M754 825h0M771 825h0M787 825h0M811 825h0M827 825h0M843 825h0M860 825h0M876 825h0M892 825h0M908 825h0M924 825h0M941 825h0M957 825h0M973 825h0M989 825h0"/>
<path d="M730 696h0M730 682h0M827 778h0M892 796h0M908 794h0M811 781h0M868 759h0M924 791h0M860 808h0M868 773h0M811 801h0M843 774h0M892 778h0M795 757h0M884 770h0M843 795h0M795 796h0M795 818h0M852 781h0M787 767h0M795 774h0M933 777h0M860 794h0M900 787h0M908 775h0M803 766h0M868 784h0M941 788h0M827 809h0M819 770h0M884 787h0M933 763h0M827 742h0M787 784h0M884 806h0M779 777h0M924 770h0M892 744h0M876 797h0M852 767h0M941 756h0M941 734h0M941 801h0M787 748h0M803 748h0M795 739h0M795 725h0M827 789h0M827 762h0M819 731h0M819 718h0M819 752h0M803 718h0M803 732h0M819 707h0M924 692h0M933 741h0M933 721h0M933 683h0M916 732h0M916 802h0M916 752h0M916 813h0M916 718h0M916 763h0M916 684h0M738 825h0M754 825h0M771 825h0M787 825h0M803 825h0M819 825h0M835 825h0M852 825h0M868 825h0M884 825h0M900 825h0M916 825h0M933 825h0M949 825h0M965 825h0M981 825h0M997 825h0"/>
<path d="M730 693h0M827 777h0M892 789h0M916 791h0M900 801h0M852 808h0M884 772h0M868 779h0M803 760h0M787 762h0M811 793h0M803 781h0M811 808h0M835 795h0M900 780h0M868 803h0M924 772h0M795 801h0M795 772h0M884 760h0M852 793h0M868 768h0M941 790h0M827 804h0M787 789h0M916 780h0M933 781h0M819 766h0M843 774h0M860 760h0M933 760h0M803 819h0M876 789h0M852 780h0M884 797h0M908 770h0M941 767h0M941 751h0M941 725h0M787 750h0M803 742h0M803 726h0M795 733h0M819 747h0M827 719h0M827 732h0M803 712h0M819 785h0M819 712h0M924 697h0M924 684h0M933 733h0M933 806h0M933 717h0M916 733h0M916 803h0M916 752h0M916 763h0M738 825h0M754 825h0M771 825h0M787 825h0M819 825h0M835 825h0M852 825h0M868 825h0M884 825h0M900 825h0M916 825h0M933 825h0M949 825h0M965 825h0M981 825h0M997 825h0"/>
<path d="M730 696h0M827 776h0M892 798h0M852 804h0M884 782h0M916 795h0M787 756h0M884 769h0M803 769h0M803 783h0M803 801h0M819 796h0M868 796h0M835 797h0M868 778h0M787 767h0M916 771h0M900 772h0M852 791h0M900 790h0M819 808h0M933 776h0M803 754h0M933 761h0M876 808h0M852 769h0M908 779h0M843 776h0M908 803h0M868 767h0M876 789h0M941 768h0M941 787h0M941 730h0M787 787h0M803 731h0M787 800h0M795 738h0M827 743h0M827 787h0M819 732h0M803 719h0M819 764h0M819 752h0M819 715h0M924 697h0M933 803h0M933 741h0M933 688h0M933 721h0M916 733h0M916 746h0M738 825h0M754 825h0M771 825h0M787 825h0M803 825h0M819 825h0M835 825h0M852 825h0M868 825h0M884 825h0M900 825h0M916 825h0M933 825h0M949 825h0M965 825h0M981 825h0M997 825h0"/>
<path d="M730 699h0M827 779h0M900 793h0M852 807h0M876 769h0M884 776h0M924 796h0M916 787h0M803 761h0M892 801h0M795 797h0M803 772h0M860 798h0M900 781h0M860 774h0M787 768h0M819 796h0M941 780h0M868 788h0M860 763h0M852 791h0M884 793h0M900 770h0M835 792h0M843 778h0M868 806h0M941 766h0M941 793h0M941 730h0M795 754h0M795 786h0M803 735h0M787 744h0M827 767h0M827 748h0M819 724h0M803 716h0M803 805h0M819 809h0M819 741h0M933 803h0M933 742h0M933 683h0M933 756h0M933 773h0M933 719h0M916 768h0M916 809h0M916 727h0M916 754h0M738 825h0M754 825h0M771 825h0M787 825h0M803 825h0M819 825h0M835 825h0M852 825h0M868 825h0M884 825h0M900 825h0M916 825h0M941 825h0M957 825h0M973 825h0M989 825h0"/>
<path d="M730 693h0M827 773h0M892 789h0M819 781h0M852 804h0M795 763h0M803 803h0M916 787h0M876 764h0M884 774h0M892 806h0M868 802h0M787 777h0M795 796h0M876 781h0M916 800h0M933 775h0M900 797h0M860 770h0M900 773h0M876 793h0M860 789h0M835 797h0M843 776h0M852 762h0M941 759h0M941 784h0M941 729h0M803 786h0M787 788h0M787 748h0M803 754h0M803 772h0M819 742h0M819 799h0M803 731h0M803 742h0M819 728h0M819 763h0M933 793h0M933 749h0M933 736h0M933 807h0M933 692h0M916 771h0M916 734h0M916 754h0M738 825h0M754 825h0M771 825h0M787 825h0M803 825h0M819 825h0M835 825h0M852 825h0M876 825h0M892 825h0M908 825h0M924 825h0M941 825h0M957 825h0M973 825h0M989 825h0"/>
<path d="M730 697h0M827 781h0M892 794h0M852 809h0M916 791h0M827 769h0M900 785h0M884 768h0M795 775h0M795 760h0M795 787h0M868 802h0M795 806h0M876 782h0M941 781h0M860 793h0M860 777h0M908 774h0M884 805h0M868 770h0M860 763h0M843 778h0M941 769h0M941 757h0M787 768h0M787 750h0M787 794h0M803 753h0M803 797h0M819 743h0M827 792h0M803 734h0M803 721h0M819 799h0M819 727h0M819 754h0M933 733h0M933 800h0M933 789h0M916 805h0M916 765h0M916 751h0M738 825h0M754 825h0M779 825h0M795 825h0M811 825h0M827 825h0M843 825h0M860 825h0M876 825h0M892 825h0M908 825h0M924 825h0M941 825h0M965 825h0M981 825h0M997 825h0"/>
<path d="M827 776h0M892 797h0M916 791h0M884 773h0M803 765h0M892 782h0M876 763h0M787 773h0M795 798h0M868 795h0M908 783h0M868 781h0M900 771h0M852 779h0M884 790h0M852 797h0M852 762h0M860 805h0M876 803h0M860 771h0M941 769h0M941 787h0M795 755h0M803 781h0M787 791h0M787 762h0M827 741h0M819 783h0M827 796h0M803 739h0M803 723h0M819 752h0M819 809h0M819 767h0M819 734h0M933 779h0M933 760h0M933 802h0M933 727h0M933 741h0M916 807h0M916 772h0M916 752h0M762 825h0M779 825h0M795 825h0M811 825h0M827 825h0M843 825h0M860 825h0M876 825h0M892 825h0M908 825h0M924 825h0M941 825h0M965 825h0M981 825h0"/>
<path d="M827 777h0M892 792h0M908 793h0M795 765h0M884 777h0M924 797h0M868 787h0M900 785h0M892 769h0M884 800h0M868 776h0M908 774h0M852 776h0M941 774h0M803 757h0M795 792h0M787 778h0M795 750h0M803 801h0M787 758h0M787 802h0M803 775h0M819 743h0M803 736h0M803 723h0M819 792h0M819 732h0M819 769h0M819 803h0M933 781h0M933 752h0M933 726h0M933 766h0M933 807h0M916 781h0M916 767h0M779 825h0M795 825h0M835 825h0M852 825h0M884 825h0M900 825h0M916 825h0M949 825h0"/>
<path d="M819 778h0M835 779h0M892 796h0M884 769h0M892 784h0M908 784h0M868 779h0M868 795h0M860 786h0M941 772h0M787 771h0M803 763h0M803 792h0M795 779h0M787 793h0M795 749h0M787 756h0M819 744h0M827 769h0M803 741h0M819 795h0M819 725h0M819 806h0M819 762h0M933 801h0M933 785h0M933 759h0M933 734h0M916 791h0M916 802h0M916 771h0M787 825h0M803 825h0M892 825h0M908 825h0M924 825h0M949 825h0"/>
<path d="M827 785h0M835 775h0M892 783h0M908 783h0M876 772h0M900 792h0M892 801h0M892 770h0M868 783h0M884 791h0M941 773h0M795 766h0M795 788h0M787 780h0M787 749h0M819 776h0M803 802h0M803 778h0M803 755h0M803 733h0M819 746h0M819 729h0M819 802h0M933 799h0M933 784h0M933 765h0M933 754h0M916 790h0M916 801h0M795 825h0M916 825h0"/>
<path d="M892 793h0M884 783h0M876 773h0M835 777h0M900 786h0M860 781h0M868 789h0M884 765h0M795 773h0M787 763h0M787 782h0M795 748h0M795 797h0M827 784h0M819 776h0M803 782h0M803 757h0M819 743h0M819 726h0M933 769h0M933 799h0M933 785h0M933 757h0M916 797h0M916 780h0M795 825h0"/>
<path d="M884 777h0M900 794h0M835 775h0M892 786h0M868 780h0M884 765h0M795 763h0M795 775h0M795 786h0M795 752h0M827 784h0M819 774h0M819 744h0M933 776h0M933 800h0M933 765h0M916 788h0M795 825h0"/>
<path d="M884 777h0M900 788h0M884 789h0M843 780h0M787 771h0M795 785h0M795 758h0M827 783h0M803 750h0M803 771h0M819 773h0M819 739h0M933 777h0M933 801h0M916 792h0M916 780h0"/>
<path d="M892 781h0M876 773h0M900 797h0M795 774h0M795 786h0M795 761h0M827 780h0M803 748h0M819 766h0M819 742h0M933 774h0M933 799h0M916 795h0M916 780h0"/>
<path d="M884 774h0M892 781h0M787 773h0M787 762h0M795 751h0M827 778h0M803 790h0M803 771h0M933 770h0M933 796h0M933 781h0M916 789h0"/>
<path d="M884 784h0M876 773h0M787 769h0M827 785h0M803 755h0M803 790h0M803 766h0M819 777h0M933 772h0M933 799h0M933 784h0M916 793h0"/>
<path d="M884 785h0M827 776h0M803 787h0M803 769h0M803 753h0M933 776h0"/>
<path d="M884 778h0M803 775h0M803 763h0M803 752h0M819 779h0"/>
<path d="M884 779h0M803 749h0M819 780h0"/>
<path d="M819 781h0"/>
<path d="M819 778h0"/>
<path d="M819 777h0"/>
</g></g>
<line class="f" x1="365.0" y1="384.8" x2="498.7" y2="389.9"/>
<g clip-path="url(#c13)">
<rect class="s" x="557.7" y="409.9" width="96.3" height="5.2" rx="2.6"/>
<rect class="s" x="594.5" y="343.9" width="5.2" height="67.5" rx="2.6"/>
<g class="p" transform="scale(.5)">
<path d="M1053 460h0M1053 490h0M1053 516h0M1053 527h0M1233 513h0M1194 528h0M1216 539h0M1211 554h0M1233 550h0M1190 572h0M1203 572h0M1194 586h0M1207 583h0M1220 587h0M1237 574h0M1233 592h0M1246 588h0M1246 601h0M1216 598h0M1228 605h0M1186 603h0M1194 614h0M1207 626h0M1237 624h0M1258 623h0M1284 617h0M1293 624h0M1156 587h0M1156 624h0M1173 630h0M1053 578h0M1053 591h0M1053 628h0M1066 597h0M1066 614h0M1087 583h0M1092 610h0M1109 600h0M1104 630h0M1117 633h0M1049 719h0M1049 775h0M1049 735h0M1049 812h0M1049 796h0M1049 655h0M1049 747h0M1049 707h0M1049 668h0M1049 759h0M1049 696h0M1049 680h0M1049 825h0M1089 798h0M1091 752h0M1089 698h0M1093 732h0M1093 671h0M1093 769h0M1089 650h0M1093 709h0M1094 780h0M1091 683h0M1190 785h0M1203 785h0M1203 716h0M1203 702h0M1203 806h0M1186 801h0M1190 739h0M1194 814h0M1203 655h0M1199 745h0M1190 757h0M1199 763h0M1194 694h0M1199 671h0M1194 636h0M1190 710h0M1199 775h0M1199 733h0M1186 724h0M1194 649h0M1190 664h0M1186 674h0M1156 768h0M1156 736h0M1160 726h0M1156 818h0M1173 725h0M1164 791h0M1169 763h0M1173 785h0M1181 750h0M1151 752h0M1151 785h0M1164 715h0M1160 801h0M1173 740h0M1181 769h0M1169 751h0M1173 816h0M1164 776h0M1177 713h0M1151 716h0M1151 807h0M1173 804h0M1130 774h0M1122 740h0M1126 750h0M1130 802h0M1126 728h0M1122 812h0M1126 761h0M1130 789h0M1144 798h0M1144 730h0M1140 810h0M1136 739h0M1138 781h0M1139 756h0M1147 742h0M1146 774h0M1305 753h0M1214 791h0M1296 761h0M1119 792h0M1279 790h0M1252 815h0M1277 769h0M1294 750h0M1222 672h0M1242 693h0M1300 705h0M1284 713h0M1080 765h0M1268 685h0M1228 814h0M1227 790h0M1124 712h0M1233 745h0M1242 758h0M1268 803h0M1237 768h0M1250 788h0M1136 688h0M1259 752h0M1302 784h0M1220 636h0M1290 802h0M1104 816h0M1179 665h0M1262 793h0M1284 737h0M1248 721h0M1276 810h0M1107 776h0M1069 805h0M1301 816h0M1141 671h0M1154 696h0M1263 769h0M1268 783h0M1247 661h0M1290 780h0M1301 678h0M1229 715h0M1218 776h0M1237 707h0M1217 804h0M1307 802h0M1077 626h0M1296 739h0M1225 731h0M1179 692h0M1292 722h0M1127 649h0M1132 819h0M1073 700h0M1294 696h0M1278 756h0M1222 766h0M1253 695h0M1069 731h0M1211 646h0M1109 797h0M1121 700h0M1254 736h0M1141 641h0M1270 727h0M1220 748h0M1207 683h0M1216 737h0M1122 781h0M1294 665h0M1224 692h0M1169 646h0M1289 653h0M1107 702h0M1250 772h0M1197 797h0M1272 745h0M1072 784h0M1235 781h0M1166 679h0M1110 684h0M1072 714h0M1080 744h0M1279 684h0M1281 662h0M1264 665h0M1212 760h0M1105 742h0M1236 674h0M1269 820h0M1109 763h0M1240 793h0M1273 626h0M1083 725h0M1230 640h0M1279 699h0M1213 693h0M1129 621h0M1222 660h0M1269 707h0M1260 719h0M1307 731h0M1156 645h0M1089 629h0M1243 736h0M1235 804h0M1252 801h0M1147 685h0M1072 816h0M1253 648h0M1296 638h0M1151 667h0M1103 641h0M1134 704h0M1128 677h0M1098 791h0M1275 674h0M1239 820h0M1272 652h0M1290 820h0M1124 666h0M1211 814h0M1237 650h0M1168 698h0M1070 676h0M1218 705h0M1062 825h0M1083 825h0M1096 825h0M1113 825h0"/>
<path d="M1053 460h0M1233 519h0M1233 556h0M1207 574h0M1190 590h0M1186 603h0M1194 622h0M1203 613h0M1216 626h0M1293 624h0M1164 626h0M1181 635h0M1049 600h0M1053 628h0M1066 601h0M1109 633h0M1049 737h0M1049 699h0M1049 821h0M1049 719h0M1049 782h0M1049 795h0M1049 753h0M1049 770h0M1049 807h0M1049 669h0M1049 656h0M1093 801h0M1091 749h0M1090 731h0M1093 706h0M1092 762h0M1093 773h0M1092 650h0M1093 785h0M1091 679h0M1092 690h0M1092 719h0M1194 784h0M1203 701h0M1194 797h0M1190 818h0M1190 763h0M1199 754h0M1199 739h0M1203 715h0M1199 642h0M1186 705h0M1190 746h0M1199 661h0M1203 771h0M1190 668h0M1186 693h0M1186 717h0M1194 678h0M1203 815h0M1194 729h0M1194 808h0M1190 774h0M1186 651h0M1160 760h0M1156 819h0M1156 790h0M1169 787h0M1177 765h0M1181 796h0M1169 718h0M1181 740h0M1156 808h0M1169 754h0M1169 735h0M1169 806h0M1181 780h0M1160 772h0M1156 747h0M1156 731h0M1177 820h0M1181 809h0M1151 721h0M1177 725h0M1130 778h0M1122 733h0M1126 757h0M1130 721h0M1122 816h0M1130 767h0M1130 794h0M1122 744h0M1122 805h0M1147 760h0M1134 733h0M1139 805h0M1135 748h0M1148 779h0M1146 739h0M1140 790h0M1157 710h0M1211 788h0M1278 774h0M1280 796h0M1302 764h0M1182 754h0M1118 783h0M1289 760h0M1299 713h0M1139 820h0M1252 808h0M1239 777h0M1270 762h0M1300 701h0M1267 801h0M1236 754h0M1218 798h0M1247 788h0M1295 785h0M1210 807h0M1141 716h0M1228 790h0M1100 816h0M1305 789h0M1149 665h0M1254 747h0M1253 625h0M1244 669h0M1128 690h0M1232 741h0M1287 729h0M1278 819h0M1232 674h0M1106 780h0M1300 813h0M1237 817h0M1253 722h0M1276 687h0M1262 755h0M1222 682h0M1114 771h0M1285 810h0M1245 762h0M1158 693h0M1125 640h0M1120 709h0M1272 788h0M1301 740h0M1298 687h0M1214 646h0M1174 701h0M1283 711h0M1215 734h0M1073 769h0M1227 725h0M1073 806h0M1209 724h0M1300 751h0M1111 798h0M1127 701h0M1225 662h0M1275 751h0M1224 778h0M1068 695h0M1220 747h0M1257 772h0M1258 733h0M1285 743h0M1267 717h0M1233 768h0M1208 668h0M1176 678h0M1146 688h0M1274 732h0M1234 713h0M1222 815h0M1229 805h0M1240 701h0M1238 688h0M1105 757h0M1161 646h0M1297 797h0M1247 739h0M1072 733h0M1078 709h0M1067 778h0M1078 724h0M1216 703h0M1269 661h0M1257 795h0M1213 765h0M1148 676h0M1103 745h0M1131 651h0M1206 686h0M1078 756h0M1283 785h0M1219 718h0M1252 656h0M1137 671h0M1110 810h0M1237 643h0M1261 784h0M1075 788h0M1197 692h0M1252 694h0M1262 632h0M1264 678h0M1259 816h0M1262 650h0M1305 778h0M1295 659h0M1266 704h0M1293 774h0M1122 625h0M1066 825h0M1087 825h0"/>
<path d="M1211 572h0M1190 603h0M1181 609h0M1194 622h0M1293 624h0M1109 633h0M1049 736h0M1049 818h0M1049 704h0M1049 774h0M1049 725h0M1049 803h0M1049 788h0M1049 755h0M1049 634h0M1049 666h0M1091 801h0M1093 755h0M1093 733h0M1091 744h0M1092 767h0M1091 722h0M1090 708h0M1091 696h0M1091 659h0M1091 783h0M1194 777h0M1199 794h0M1194 759h0M1199 701h0M1199 718h0M1190 742h0M1194 634h0M1203 736h0M1194 815h0M1190 804h0M1203 784h0M1203 747h0M1190 710h0M1186 787h0M1203 648h0M1199 678h0M1190 690h0M1194 655h0M1190 727h0M1186 671h0M1203 766h0M1169 783h0M1151 820h0M1173 769h0M1156 810h0M1160 799h0M1181 751h0M1169 715h0M1177 796h0M1151 783h0M1160 761h0M1173 735h0M1151 724h0M1177 810h0M1156 737h0M1169 819h0M1156 772h0M1169 750h0M1151 748h0M1181 762h0M1126 778h0M1126 741h0M1122 751h0M1130 762h0M1122 728h0M1122 796h0M1130 808h0M1139 797h0M1147 761h0M1142 737h0M1146 806h0M1140 769h0M1135 748h0M1133 731h0M1280 789h0M1217 792h0M1281 775h0M1154 711h0M1301 779h0M1130 788h0M1232 775h0M1268 761h0M1122 820h0M1241 783h0M1229 798h0M1250 722h0M1270 687h0M1268 806h0M1255 794h0M1097 681h0M1228 785h0M1244 751h0M1290 810h0M1279 734h0M1253 805h0M1299 762h0M1252 626h0M1233 754h0M1297 698h0M1228 735h0M1279 818h0M1129 688h0M1295 794h0M1155 690h0M1244 819h0M1287 755h0M1253 766h0M1295 731h0M1208 805h0M1281 717h0M1306 796h0M1303 811h0M1185 700h0M1211 715h0M1266 795h0M1217 740h0M1108 779h0M1216 754h0M1211 773h0M1071 799h0M1271 779h0M1242 771h0M1286 704h0M1077 808h0M1127 715h0M1221 809h0M1256 743h0M1217 729h0M1175 668h0M1098 809h0M1067 785h0M1174 700h0M1117 769h0M1296 819h0M1169 651h0M1290 743h0M1239 722h0M1240 702h0M1255 778h0M1285 690h0M1071 775h0M1103 765h0M1110 709h0M1243 797h0M1267 736h0M1147 670h0M1137 817h0M1111 741h0M1307 685h0M1207 693h0M1215 673h0M1143 706h0M1239 735h0M1227 659h0M1237 808h0M1218 639h0M1177 724h0M1153 641h0M1215 659h0M1228 818h0M1271 748h0M1115 806h0M1180 777h0M1080 753h0M1213 704h0M1307 704h0M1284 800h0M1104 797h0M1269 720h0M1071 760h0M1071 724h0M1220 764h0M1210 625h0M1227 718h0M1221 777h0M1159 628h0M1307 750h0M1057 825h0M1070 825h0M1092 825h0M1104 825h0"/>
<path d="M1194 622h0M1049 700h0M1049 733h0M1049 746h0M1049 714h0M1049 780h0M1049 813h0M1049 766h0M1049 802h0M1049 825h0M1090 797h0M1090 730h0M1092 746h0M1091 771h0M1092 714h0M1090 758h0M1092 782h0M1094 651h0M1203 785h0M1190 760h0M1199 741h0M1203 710h0M1194 697h0M1190 789h0M1190 636h0M1199 804h0M1194 817h0M1186 809h0M1190 777h0M1194 716h0M1186 746h0M1199 645h0M1203 729h0M1186 704h0M1190 735h0M1199 657h0M1199 769h0M1199 752h0M1177 786h0M1164 782h0M1173 772h0M1169 760h0M1156 790h0M1164 808h0M1169 716h0M1181 724h0M1151 820h0M1160 770h0M1151 777h0M1160 754h0M1151 763h0M1177 800h0M1156 733h0M1169 740h0M1177 753h0M1160 722h0M1164 820h0M1177 816h0M1151 802h0M1151 743h0M1130 777h0M1122 732h0M1126 742h0M1122 760h0M1130 722h0M1122 791h0M1130 811h0M1133 757h0M1136 800h0M1143 732h0M1142 783h0M1144 812h0M1224 793h0M1273 796h0M1282 782h0M1226 781h0M1259 807h0M1090 677h0M1088 694h0M1275 769h0M1212 797h0M1292 759h0M1139 742h0M1207 697h0M1255 788h0M1132 693h0M1279 812h0M1299 774h0M1302 785h0M1183 685h0M1294 813h0M1236 776h0M1223 805h0M1305 818h0M1226 753h0M1118 778h0M1247 796h0M1247 765h0M1303 758h0M1150 695h0M1289 794h0M1216 731h0M1073 803h0M1267 757h0M1248 753h0M1119 812h0M1257 771h0M1233 736h0M1215 744h0M1235 801h0M1104 776h0M1144 755h0M1307 698h0M1101 753h0M1256 745h0M1216 777h0M1290 705h0M1244 813h0M1266 685h0M1267 787h0M1306 796h0M1086 808h0M1284 737h0M1102 804h0M1206 814h0M1279 758h0M1243 786h0M1207 759h0M1238 749h0M1157 684h0M1251 720h0M1154 667h0M1117 710h0M1301 736h0M1166 794h0M1201 684h0M1266 738h0M1232 763h0M1233 699h0M1100 738h0M1213 643h0M1215 679h0M1302 628h0M1217 814h0M1192 671h0M1154 709h0M1227 665h0M1139 711h0M1232 721h0M1302 712h0M1282 694h0M1220 634h0M1299 687h0M1173 703h0M1092 825h0"/>
<path d="M1049 728h0M1049 710h0M1049 740h0M1049 803h0M1049 755h0M1049 817h0M1049 770h0M1049 695h0M1049 781h0M1092 794h0M1092 767h0M1090 739h0M1092 726h0M1091 755h0M1089 706h0M1092 781h0M1092 805h0M1203 794h0M1203 780h0M1194 767h0M1190 631h0M1194 714h0M1194 786h0M1194 820h0M1203 692h0M1194 805h0M1194 753h0M1199 639h0M1194 738h0M1194 698h0M1203 746h0M1203 726h0M1194 649h0M1190 725h0M1186 813h0M1186 776h0M1181 787h0M1164 787h0M1181 738h0M1181 801h0M1169 802h0M1156 776h0M1169 759h0M1160 718h0M1156 802h0M1156 763h0M1160 820h0M1173 725h0M1177 768h0M1160 740h0M1156 750h0M1181 715h0M1173 815h0M1151 791h0M1156 728h0M1177 751h0M1173 778h0M1151 814h0M1130 780h0M1122 737h0M1122 769h0M1122 753h0M1126 791h0M1130 761h0M1130 810h0M1132 733h0M1140 805h0M1149 742h0M1145 759h0M1140 792h0M1142 776h0M1132 746h0M1207 757h0M1098 746h0M1276 795h0M1261 801h0M1257 813h0M1227 781h0M1284 764h0M1302 761h0M1292 784h0M1248 784h0M1207 804h0M1304 784h0M1097 682h0M1277 808h0M1233 797h0M1281 782h0M1296 807h0M1256 769h0M1217 789h0M1119 780h0M1250 795h0M1229 748h0M1268 768h0M1238 779h0M1252 754h0M1119 813h0M1243 762h0M1128 716h0M1072 799h0M1222 734h0M1291 817h0M1265 786h0M1245 820h0M1287 714h0M1260 745h0M1220 769h0M1212 706h0M1287 796h0M1246 744h0M1281 705h0M1305 815h0M1176 701h0M1246 806h0M1165 769h0M1222 803h0M1238 735h0M1243 715h0M1097 697h0M1286 742h0M1086 717h0M1104 809h0M1211 739h0M1147 660h0M1260 721h0M1296 750h0M1237 704h0M1300 796h0M1213 680h0M1265 688h0M1143 728h0M1114 761h0M1215 650h0M1129 691h0M1202 669h0M1100 825h0"/>
<path d="M1049 712h0M1049 740h0M1049 728h0M1049 756h0M1049 700h0M1049 803h0M1049 768h0M1049 779h0M1049 825h0M1092 791h0M1092 747h0M1091 732h0M1092 704h0M1094 777h0M1094 802h0M1091 715h0M1092 759h0M1203 792h0M1194 761h0M1194 712h0M1186 636h0M1199 776h0M1194 811h0M1203 699h0M1194 798h0M1186 789h0M1194 693h0M1199 731h0M1194 643h0M1190 741h0M1203 741h0M1199 751h0M1164 781h0M1173 790h0M1186 771h0M1151 782h0M1181 732h0M1186 819h0M1177 762h0M1160 816h0M1160 796h0M1160 762h0M1177 777h0M1177 720h0M1177 743h0M1160 715h0M1177 806h0M1160 737h0M1151 756h0M1173 821h0M1164 751h0M1151 769h0M1130 735h0M1122 742h0M1122 778h0M1130 755h0M1126 798h0M1126 810h0M1129 786h0M1129 770h0M1148 805h0M1139 762h0M1148 793h0M1137 801h0M1152 744h0M1142 731h0M1140 776h0M1140 812h0M1129 724h0M1188 721h0M1262 799h0M1118 752h0M1290 757h0M1228 775h0M1231 794h0M1276 761h0M1302 779h0M1215 797h0M1292 769h0M1288 803h0M1273 783h0M1231 750h0M1248 798h0M1260 766h0M1254 784h0M1288 790h0M1225 803h0M1253 758h0M1211 750h0M1204 636h0M1207 724h0M1238 784h0M1257 811h0M1241 754h0M1215 783h0M1273 795h0M1182 707h0M1240 771h0M1246 811h0M1216 740h0M1215 763h0M1097 683h0M1303 754h0M1298 814h0M1293 710h0M1271 808h0M1255 744h0M1292 740h0M1191 658h0M1205 808h0M1185 754h0M1286 779h0M1150 724h0M1214 697h0M1141 747h0M1179 693h0M1101 813h0M1082 724h0M1083 801h0M1219 812h0M1170 708h0M1306 790h0M1286 815h0M1103 743h0M1219 728h0"/>
<path d="M1049 706h0M1049 724h0M1049 751h0M1049 695h0M1049 767h0M1049 825h0M1092 797h0M1092 742h0M1092 768h0M1091 706h0M1091 728h0M1091 782h0M1199 793h0M1190 631h0M1199 715h0M1190 763h0M1199 775h0M1190 813h0M1194 702h0M1199 756h0M1186 785h0M1194 736h0M1194 725h0M1203 815h0M1190 746h0M1190 643h0M1194 803h0M1203 696h0M1186 718h0M1203 743h0M1181 795h0M1164 785h0M1164 816h0M1160 771h0M1151 794h0M1160 760h0M1164 723h0M1169 798h0M1177 753h0M1177 767h0M1173 734h0M1173 714h0M1160 746h0M1173 809h0M1160 733h0M1151 816h0M1126 734h0M1122 775h0M1126 785h0M1130 764h0M1126 750h0M1128 811h0M1135 794h0M1134 774h0M1149 757h0M1142 805h0M1149 771h0M1153 783h0M1145 743h0M1136 726h0M1137 756h0M1172 777h0M1180 818h0M1208 800h0M1101 786h0M1295 757h0M1116 739h0M1232 787h0M1225 802h0M1207 786h0M1264 803h0M1095 717h0M1287 809h0M1263 791h0M1239 749h0M1142 783h0M1283 774h0M1305 780h0M1252 751h0M1251 780h0M1276 765h0M1281 794h0M1123 796h0M1221 785h0M1237 776h0M1298 788h0M1185 693h0M1267 772h0M1161 712h0M1254 808h0M1256 767h0M1275 784h0M1096 753h0M1300 768h0M1219 733h0M1238 764h0M1247 798h0M1209 767h0M1230 755h0M1130 715h0M1286 707h0M1102 804h0M1227 771h0M1232 741h0M1208 731h0M1086 806h0M1240 807h0M1085 754h0M1287 750h0M1083 717h0M1289 736h0M1153 805h0M1210 714h0M1258 737h0M1276 813h0M1263 759h0"/>
<path d="M1049 734h0M1049 758h0M1049 700h0M1049 716h0M1092 792h0M1093 746h0M1091 778h0M1092 708h0M1090 735h0M1092 723h0M1092 761h0M1203 785h0M1190 630h0M1199 801h0M1199 818h0M1199 707h0M1190 753h0M1194 719h0M1190 793h0M1186 816h0M1190 700h0M1190 778h0M1199 734h0M1186 805h0M1186 737h0M1177 788h0M1164 786h0M1151 776h0M1164 816h0M1181 760h0M1169 756h0M1160 715h0M1156 763h0M1164 771h0M1164 804h0M1156 793h0M1160 730h0M1177 748h0M1173 738h0M1177 771h0M1151 737h0M1177 712h0M1151 811h0M1126 783h0M1122 742h0M1130 756h0M1122 729h0M1124 770h0M1130 813h0M1126 803h0M1144 799h0M1135 767h0M1134 790h0M1141 758h0M1137 733h0M1200 766h0M1176 810h0M1205 743h0M1204 756h0M1161 743h0M1296 760h0M1211 795h0M1285 760h0M1292 809h0M1225 792h0M1232 748h0M1209 698h0M1279 769h0M1260 797h0M1282 796h0M1232 805h0M1299 783h0M1237 775h0M1245 787h0M1259 757h0M1270 762h0M1291 776h0M1216 777h0M1240 763h0M1229 782h0M1270 791h0M1193 688h0M1255 783h0M1292 706h0M1209 714h0M1224 734h0M1269 809h0M1250 741h0M1236 795h0M1132 715h0M1250 773h0M1220 802h0M1261 739h0M1181 694h0M1204 724h0"/>
<path d="M1049 730h0M1049 751h0M1049 696h0M1049 708h0M1049 763h0M1090 795h0M1092 748h0M1091 776h0M1091 708h0M1091 729h0M1203 786h0M1186 636h0M1194 809h0M1199 700h0M1194 796h0M1190 709h0M1190 775h0M1194 821h0M1194 762h0M1186 788h0M1203 724h0M1203 736h0M1194 748h0M1203 711h0M1169 790h0M1151 773h0M1181 816h0M1177 758h0M1160 757h0M1160 779h0M1177 781h0M1186 732h0M1164 820h0M1173 768h0M1160 724h0M1151 797h0M1177 802h0M1164 807h0M1173 728h0M1177 739h0M1160 736h0M1186 721h0M1169 747h0M1122 742h0M1126 786h0M1126 760h0M1131 750h0M1150 784h0M1151 811h0M1131 804h0M1133 774h0M1148 760h0M1131 733h0M1147 741h0M1140 797h0M1207 799h0M1139 785h0M1164 713h0M1127 820h0M1216 787h0M1205 773h0M1288 764h0M1283 787h0M1270 797h0M1232 750h0M1303 780h0M1237 780h0M1250 760h0M1263 764h0M1251 785h0M1285 802h0M1123 797h0M1121 729h0M1304 758h0M1232 798h0M1244 769h0M1295 791h0M1224 742h0M1255 797h0M1275 773h0M1206 750h0M1262 783h0M1242 792h0M1293 815h0M1176 717h0M1209 763h0M1284 752h0M1227 787h0M1090 759h0"/>
<path d="M1049 727h0M1049 708h0M1049 696h0M1093 794h0M1090 772h0M1092 707h0M1092 746h0M1091 730h0M1092 719h0M1194 781h0M1199 793h0M1190 815h0M1194 636h0M1199 809h0M1199 698h0M1190 712h0M1194 753h0M1194 734h0M1203 714h0M1190 770h0M1186 802h0M1186 790h0M1186 746h0M1164 795h0M1160 770h0M1160 757h0M1156 781h0M1173 750h0M1177 767h0M1160 715h0M1151 795h0M1169 820h0M1173 806h0M1181 757h0M1181 780h0M1164 739h0M1156 816h0M1151 763h0M1156 730h0M1181 732h0M1169 784h0M1122 780h0M1130 738h0M1132 786h0M1127 749h0M1129 763h0M1129 807h0M1127 796h0M1139 803h0M1138 771h0M1130 725h0M1151 743h0M1144 813h0M1171 720h0M1206 778h0M1143 756h0M1205 735h0M1201 766h0M1129 820h0M1144 781h0M1213 795h0M1200 725h0M1283 770h0M1277 792h0M1293 784h0M1221 788h0M1237 773h0M1262 797h0M1204 747h0M1238 754h0M1232 785h0M1250 789h0M1251 755h0M1288 810h0M1272 765h0M1305 788h0M1210 757h0M1214 769h0M1298 752h0M1232 801h0M1254 777h0M1258 807h0M1239 793h0M1233 743h0M1253 766h0M1304 764h0"/>
<path d="M1049 717h0M1049 705h0M1049 729h0M1092 791h0M1091 771h0M1092 802h0M1090 737h0M1092 752h0M1092 715h0M1199 802h0M1194 815h0M1190 716h0M1199 778h0M1190 701h0M1190 758h0M1194 639h0M1186 781h0M1186 747h0M1177 788h0M1186 806h0M1156 760h0M1164 784h0M1169 799h0M1177 760h0M1151 790h0M1160 718h0M1169 767h0M1169 821h0M1181 816h0M1186 731h0M1169 733h0M1186 768h0M1156 739h0M1156 800h0M1173 743h0M1156 775h0M1126 782h0M1122 742h0M1134 757h0M1134 801h0M1124 765h0M1136 812h0M1153 812h0M1144 770h0M1145 803h0M1126 726h0M1208 789h0M1199 736h0M1191 795h0M1169 810h0M1201 751h0M1139 735h0M1137 788h0M1201 700h0M1202 712h0M1125 795h0M1133 772h0M1236 783h0M1216 800h0M1146 753h0M1233 748h0M1294 783h0M1122 811h0M1284 762h0M1210 777h0M1287 792h0M1256 796h0M1248 762h0M1276 793h0M1161 750h0M1235 769h0M1275 770h0M1246 788h0M1201 763h0M1123 753h0M1275 782h0M1228 803h0M1258 775h0M1265 764h0M1257 807h0M1292 804h0M1281 806h0M1301 792h0M1297 769h0M1299 752h0"/>
<path d="M1049 704h0M1049 724h0M1091 799h0M1092 737h0M1091 778h0M1091 713h0M1091 750h0M1092 767h0M1194 812h0M1203 801h0M1190 713h0M1203 783h0M1194 776h0M1194 754h0M1186 639h0M1181 786h0M1186 798h0M1164 789h0M1186 761h0M1181 815h0M1160 760h0M1169 803h0M1173 772h0M1181 742h0M1177 753h0M1156 733h0M1151 767h0M1151 790h0M1164 716h0M1169 738h0M1160 809h0M1124 743h0M1134 782h0M1127 756h0M1133 811h0M1139 802h0M1151 779h0M1130 796h0M1124 786h0M1136 750h0M1146 810h0M1149 754h0M1197 694h0M1124 732h0M1097 790h0M1205 744h0M1195 730h0M1134 736h0M1202 710h0M1184 772h0M1214 803h0M1206 771h0M1231 755h0M1274 783h0M1237 781h0M1127 772h0M1287 792h0M1250 795h0M1245 767h0M1303 784h0M1255 756h0M1249 784h0M1264 797h0M1120 804h0M1195 791h0M1297 775h0M1259 769h0M1237 744h0M1212 791h0M1226 802h0"/>
<path d="M1049 714h0M1049 728h0M1049 698h0M1091 793h0M1092 741h0M1092 775h0M1092 715h0M1091 752h0M1194 809h0M1203 794h0M1203 776h0M1181 788h0M1186 718h0M1186 772h0M1186 801h0M1160 793h0M1160 782h0M1156 763h0M1186 759h0M1173 818h0M1169 773h0M1186 820h0M1181 744h0M1160 751h0M1164 718h0M1169 758h0M1129 739h0M1128 779h0M1130 763h0M1144 796h0M1139 809h0M1132 801h0M1153 739h0M1151 809h0M1148 782h0M1126 812h0M1170 742h0M1174 804h0M1180 732h0M1124 791h0M1127 750h0M1146 769h0M1088 730h0M1171 793h0M1162 809h0M1200 743h0M1192 637h0M1165 732h0M1193 697h0M1200 717h0M1200 731h0M1237 749h0M1207 805h0M1282 795h0M1229 782h0M1297 779h0M1148 756h0M1198 759h0M1239 770h0M1249 784h0M1191 783h0M1269 790h0M1252 772h0M1256 792h0M1247 761h0M1136 786h0M1127 725h0M1282 780h0M1261 760h0"/>
<path d="M1049 724h0M1092 738h0M1092 784h0M1091 714h0M1091 772h0M1199 809h0M1194 796h0M1199 776h0M1186 810h0M1181 787h0M1186 771h0M1169 797h0M1169 786h0M1160 768h0M1181 800h0M1151 756h0M1177 758h0M1173 811h0M1164 758h0M1156 792h0M1173 772h0M1160 742h0M1181 734h0M1160 723h0M1130 805h0M1128 754h0M1142 800h0M1135 783h0M1132 742h0M1149 776h0M1208 794h0M1171 748h0M1192 717h0M1158 815h0M1119 784h0M1098 797h0M1186 708h0M1191 744h0M1171 730h0M1126 731h0M1191 756h0M1135 817h0M1144 738h0M1144 766h0M1203 717h0M1203 737h0M1125 793h0M1132 764h0M1234 790h0M1231 779h0M1213 775h0M1272 798h0M1248 782h0M1242 751h0M1276 784h0M1252 760h0M1294 785h0M1192 785h0"/>
<path d="M1049 725h0M1093 793h0M1091 735h0M1091 780h0M1091 718h0M1092 748h0M1199 803h0M1190 810h0M1186 783h0M1186 797h0M1186 772h0M1169 791h0M1164 759h0M1160 769h0M1160 800h0M1177 762h0M1181 751h0M1164 813h0M1150 793h0M1131 804h0M1131 755h0M1131 776h0M1152 776h0M1142 806h0M1153 754h0M1130 792h0M1097 707h0M1152 741h0M1170 774h0M1197 784h0M1169 744h0M1189 712h0M1165 715h0M1176 731h0M1153 812h0M1155 720h0M1191 755h0M1187 742h0M1147 765h0M1190 731h0M1209 796h0M1136 741h0M1140 785h0M1174 809h0M1205 776h0M1134 817h0M1180 818h0M1203 734h0M1092 766h0M1273 797h0M1253 789h0M1198 721h0M1200 816h0M1233 775h0M1241 790h0"/>
<path d="M1092 786h0M1092 733h0M1092 715h0M1199 811h0M1181 785h0M1186 815h0M1181 801h0M1173 794h0M1186 765h0M1164 763h0M1164 777h0M1151 765h0M1177 756h0M1173 769h0M1156 755h0M1156 791h0M1132 803h0M1144 790h0M1130 779h0M1130 760h0M1147 776h0M1129 747h0M1204 794h0M1146 808h0M1163 817h0M1190 776h0M1179 741h0M1121 787h0M1165 803h0M1191 751h0M1189 721h0M1166 743h0M1087 774h0M1194 801h0M1151 740h0M1165 714h0M1167 731h0M1196 739h0M1156 724h0M1209 784h0M1174 820h0M1208 771h0M1096 746h0M1202 727h0M1133 817h0M1208 804h0M1235 787h0"/>
<path d="M1090 794h0M1091 739h0M1092 781h0M1091 713h0M1194 809h0M1186 783h0M1169 796h0M1186 799h0M1169 768h0M1186 763h0M1177 789h0M1177 752h0M1151 787h0M1152 770h0M1135 813h0M1146 799h0M1128 803h0M1124 756h0M1154 753h0M1135 781h0M1169 781h0M1199 792h0M1168 810h0M1125 785h0M1205 801h0M1098 731h0M1184 744h0M1199 780h0M1135 793h0M1151 814h0M1135 749h0M1192 712h0M1152 740h0M1131 737h0M1166 722h0M1183 810h0M1158 730h0M1189 732h0M1169 740h0M1198 753h0M1184 719h0M1201 735h0M1211 778h0M1146 761h0M1133 762h0"/>
<path d="M1091 786h0M1092 739h0M1091 708h0M1194 806h0M1186 778h0M1181 791h0M1181 807h0M1164 762h0M1186 758h0M1169 795h0M1164 775h0M1153 784h0M1153 770h0M1134 810h0M1125 756h0M1143 793h0M1152 799h0M1149 760h0M1126 801h0M1175 753h0M1134 778h0M1176 770h0M1130 788h0M1158 808h0M1201 795h0M1153 747h0M1201 784h0M1170 810h0M1188 817h0M1177 738h0M1166 729h0M1130 742h0M1209 777h0M1166 746h0M1212 799h0M1198 755h0M1191 744h0M1122 781h0"/>
<path d="M1092 780h0M1093 742h0M1186 782h0M1186 793h0M1186 770h0M1173 765h0M1164 771h0M1181 804h0M1169 754h0M1173 789h0M1149 792h0M1128 812h0M1153 778h0M1150 763h0M1197 806h0M1160 788h0M1187 813h0M1131 758h0M1136 801h0M1137 790h0M1138 775h0M1154 802h0M1130 782h0M1206 786h0M1126 797h0M1166 810h0M1092 796h0M1171 800h0M1205 799h0M1174 778h0M1155 748h0M1200 776h0M1181 742h0M1091 710h0M1172 736h0M1181 755h0M1128 737h0"/>
<path d="M1091 786h0M1092 742h0M1181 784h0M1181 796h0M1186 771h0M1186 806h0M1173 767h0M1147 785h0M1136 807h0M1146 773h0M1155 762h0M1146 800h0M1132 756h0M1181 759h0M1199 802h0M1170 798h0M1160 787h0M1130 783h0M1126 801h0M1163 774h0M1204 789h0M1158 809h0M1169 746h0M1170 813h0M1191 788h0M1209 779h0M1137 794h0M1186 737h0M1211 797h0M1094 710h0M1188 818h0"/>
<path d="M1092 777h0M1177 792h0M1181 808h0M1147 788h0M1146 777h0M1133 810h0M1178 773h0M1154 758h0M1169 766h0M1188 791h0M1155 800h0M1189 774h0M1134 759h0M1179 755h0M1087 789h0M1135 785h0M1185 764h0M1192 805h0M1161 785h0M1205 802h0M1097 737h0M1144 799h0M1207 788h0M1160 813h0M1122 794h0M1123 782h0M1158 771h0M1172 747h0M1130 773h0M1204 772h0M1185 733h0M1169 801h0M1194 818h0M1122 759h0"/>
<path d="M1181 794h0M1147 784h0M1153 773h0M1138 810h0M1153 756h0M1148 801h0M1188 786h0M1164 771h0M1161 795h0M1125 763h0M1172 758h0M1199 808h0M1179 777h0M1126 784h0M1135 792h0M1126 809h0M1191 815h0M1187 768h0M1139 773h0M1208 801h0M1162 811h0M1092 776h0M1199 790h0M1131 750h0M1170 789h0M1177 808h0M1205 779h0M1191 758h0M1187 740h0M1191 799h0"/>
<path d="M1181 787h0M1141 792h0M1152 776h0M1135 805h0M1159 753h0M1152 790h0M1165 768h0M1172 758h0M1169 792h0M1150 804h0M1148 762h0M1186 772h0M1131 785h0M1126 756h0M1178 799h0M1200 810h0M1189 807h0M1196 799h0M1172 777h0M1163 803h0M1160 815h0M1205 792h0M1123 803h0M1203 778h0M1136 772h0M1136 750h0"/>
<path d="M1149 791h0M1181 788h0M1151 768h0M1155 778h0M1138 805h0M1160 753h0M1175 779h0M1181 761h0M1192 777h0M1135 782h0M1150 802h0M1161 791h0M1166 771h0M1190 803h0M1127 760h0M1170 812h0M1126 794h0M1206 796h0M1202 783h0M1182 814h0M1176 798h0"/>
<path d="M1153 783h0M1178 789h0M1149 793h0M1143 808h0M1181 763h0M1170 772h0M1191 776h0M1161 797h0M1127 785h0M1139 785h0M1188 794h0M1166 762h0M1196 803h0M1128 808h0M1154 810h0M1154 766h0M1168 785h0M1201 791h0M1146 775h0M1124 758h0M1137 799h0"/>
<path d="M1182 789h0M1149 796h0M1153 776h0M1133 808h0M1157 786h0M1177 771h0M1177 756h0M1188 780h0M1170 780h0M1127 780h0M1168 796h0M1141 789h0M1197 799h0M1204 785h0M1128 798h0M1186 805h0M1129 764h0"/>
<path d="M1179 781h0M1177 794h0M1145 802h0M1148 786h0M1160 790h0M1164 772h0M1127 783h0M1137 777h0M1187 772h0M1193 797h0M1167 755h0M1202 787h0M1126 803h0M1178 755h0"/>
<path d="M1151 794h0M1182 793h0M1139 804h0M1150 782h0M1177 780h0M1160 778h0M1163 796h0M1189 779h0M1185 766h0M1122 788h0M1190 804h0"/>
<path d="M1152 794h0M1136 802h0M1151 781h0M1180 790h0M1182 779h0M1170 775h0M1193 773h0M1165 794h0M1122 787h0M1141 791h0M1190 800h0"/>
<path d="M1139 808h0M1151 787h0M1186 789h0M1155 800h0M1144 797h0M1170 789h0M1167 778h0M1183 777h0M1124 784h0"/>
<path d="M1152 797h0M1136 804h0M1149 783h0M1170 787h0M1188 789h0M1190 774h0M1166 774h0"/>
<path d="M1148 786h0M1160 800h0M1182 791h0M1136 805h0M1149 804h0M1191 772h0M1170 778h0"/>
<path d="M1154 785h0M1173 794h0M1156 799h0M1144 804h0M1189 784h0M1185 799h0"/>
<path d="M1146 791h0M1176 789h0M1139 802h0"/>
<path d="M1147 782h0M1180 793h0"/>
<path d="M1182 795h0"/>
<path d="M1174 790h0"/>
</g></g>
<line class="f" x1="524.4" y1="383.8" x2="652.1" y2="389.9"/>
<text class="at" transform="translate(33.80 208.80) scale(0.2375 0.2500)" text-anchor="end">0.0</text>
<text class="at" transform="translate(33.80 161.59) scale(0.2375 0.2500)" text-anchor="end">2.5</text>
<text class="at" transform="translate(33.80 114.37) scale(0.2375 0.2500)" text-anchor="end">5.0</text>
<text class="at" transform="translate(33.80 67.16) scale(0.2375 0.2500)" text-anchor="end">7.5</text>
<text class="at" transform="translate(33.80 19.95) scale(0.2375 0.2500)" text-anchor="end">10.0</text>
<text class="at" transform="translate(33.80 415.75) scale(0.2375 0.2500)" text-anchor="end">0.0</text>
<text class="at" transform="translate(33.80 368.54) scale(0.2375 0.2500)" text-anchor="end">2.5</text>
<text class="at" transform="translate(33.80 321.32) scale(0.2375 0.2500)" text-anchor="end">5.0</text>
<text class="at" transform="translate(33.80 274.11) scale(0.2375 0.2500)" text-anchor="end">7.5</text>
<text class="at" transform="translate(33.80 226.90) scale(0.2375 0.2500)" text-anchor="end">10.0</text>
<text class="at" transform="translate(46.20 433.60) scale(0.2375 0.2500)" text-anchor="middle">0</text>
<text class="at" transform="translate(96.05 433.60) scale(0.2375 0.2500)" text-anchor="middle">5</text>
<text class="at" transform="translate(145.90 433.60) scale(0.2375 0.2500)" text-anchor="middle">10</text>
<text class="st" transform="translate(116.15 8.60) scale(0.2425 0.2500)" text-anchor="middle">25m</text>
<text class="at" transform="translate(205.70 433.60) scale(0.2375 0.2500)" text-anchor="middle">0</text>
<text class="at" transform="translate(236.05 433.60) scale(0.2375 0.2500)" text-anchor="middle">5</text>
<text class="at" transform="translate(266.40 433.60) scale(0.2375 0.2500)" text-anchor="middle">10</text>
<text class="at" transform="translate(296.75 433.60) scale(0.2375 0.2500)" text-anchor="middle">15</text>
<text class="at" transform="translate(327.10 433.60) scale(0.2375 0.2500)" text-anchor="middle">20</text>
<text class="st" transform="translate(275.55 8.60) scale(0.2425 0.2500)" text-anchor="middle">50m</text>
<text class="at" transform="translate(365.00 433.60) scale(0.2375 0.2500)" text-anchor="middle">0</text>
<text class="at" transform="translate(405.52 433.60) scale(0.2375 0.2500)" text-anchor="middle">10</text>
<text class="at" transform="translate(446.04 433.60) scale(0.2375 0.2500)" text-anchor="middle">20</text>
<text class="at" transform="translate(486.56 433.60) scale(0.2375 0.2500)" text-anchor="middle">30</text>
<text class="st" transform="translate(434.95 8.60) scale(0.2425 0.2500)" text-anchor="middle">100m</text>
<text class="at" transform="translate(524.40 433.60) scale(0.2375 0.2500)" text-anchor="middle">0</text>
<text class="at" transform="translate(567.18 433.60) scale(0.2375 0.2500)" text-anchor="middle">20</text>
<text class="at" transform="translate(609.96 433.60) scale(0.2375 0.2500)" text-anchor="middle">40</text>
<text class="at" transform="translate(652.74 433.60) scale(0.2375 0.2500)" text-anchor="middle">60</text>
<text class="st" transform="translate(594.35 8.60) scale(0.2425 0.2500)" text-anchor="middle">200m</text>
<text class="st" transform="translate(676.90 114.30) rotate(90) scale(0.2425 0.2500)" text-anchor="middle">Normal local density</text>
<text class="st" transform="translate(676.90 321.10) rotate(90) scale(0.2425 0.2500)" text-anchor="middle">Uniform local density</text>
<text class="tt" transform="translate(344.40 451.80) scale(0.2500 0.2500)" text-anchor="middle">Local density</text>
<text class="tt" transform="translate(9.90 217.50) rotate(-90) scale(0.2392 0.2500)" text-anchor="middle">Number of egg laying events</text>
</svg></body></html>
